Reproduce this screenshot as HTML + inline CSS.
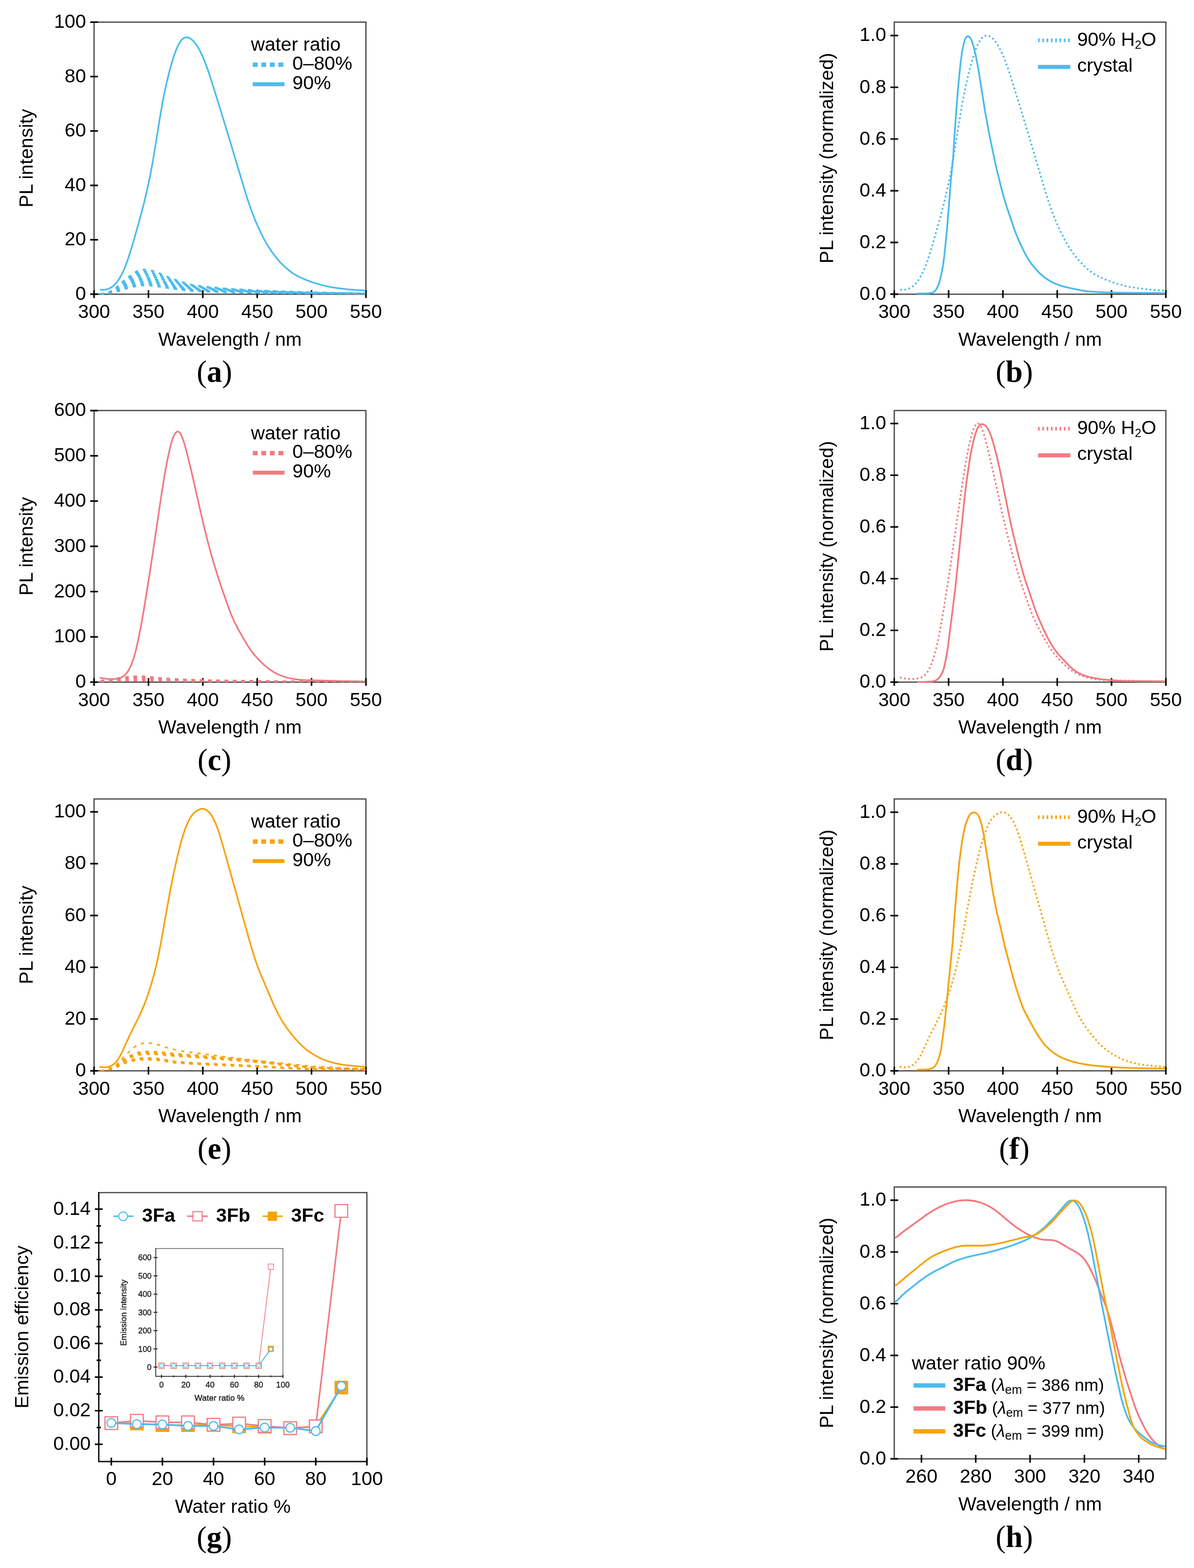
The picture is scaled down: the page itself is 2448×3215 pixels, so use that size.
<!DOCTYPE html>
<html><head><meta charset="utf-8"><title>Figure</title>
<style>html,body{margin:0;padding:0;background:#fff;}svg{display:block;}</style>
</head><body>
<svg xmlns="http://www.w3.org/2000/svg" width="2448" height="3215" viewBox="0 0 2448 3215">
<rect width="2448" height="3215" fill="#fff"/>
<rect x="192.9" y="45.4" width="557.3" height="557.8" fill="none" stroke="#4a4a4a" stroke-width="2.6"/>
<text x="192.9" y="652.2" font-size="39.4" text-anchor="middle" font-family='"Liberation Sans", Arial, Helvetica, sans-serif'>300</text>
<text x="304.4" y="652.2" font-size="39.4" text-anchor="middle" font-family='"Liberation Sans", Arial, Helvetica, sans-serif'>350</text>
<text x="415.8" y="652.2" font-size="39.4" text-anchor="middle" font-family='"Liberation Sans", Arial, Helvetica, sans-serif'>400</text>
<text x="527.3" y="652.2" font-size="39.4" text-anchor="middle" font-family='"Liberation Sans", Arial, Helvetica, sans-serif'>450</text>
<text x="638.7" y="652.2" font-size="39.4" text-anchor="middle" font-family='"Liberation Sans", Arial, Helvetica, sans-serif'>500</text>
<text x="750.2" y="652.2" font-size="39.4" text-anchor="middle" font-family='"Liberation Sans", Arial, Helvetica, sans-serif'>550</text>
<text x="176.4" y="614.7" font-size="39.4" text-anchor="end" font-family='"Liberation Sans", Arial, Helvetica, sans-serif'>0</text>
<text x="176.4" y="503.1" font-size="39.4" text-anchor="end" font-family='"Liberation Sans", Arial, Helvetica, sans-serif'>20</text>
<text x="176.4" y="391.6" font-size="39.4" text-anchor="end" font-family='"Liberation Sans", Arial, Helvetica, sans-serif'>40</text>
<text x="176.4" y="280" font-size="39.4" text-anchor="end" font-family='"Liberation Sans", Arial, Helvetica, sans-serif'>60</text>
<text x="176.4" y="168.5" font-size="39.4" text-anchor="end" font-family='"Liberation Sans", Arial, Helvetica, sans-serif'>80</text>
<text x="176.4" y="56.9" font-size="39.4" text-anchor="end" font-family='"Liberation Sans", Arial, Helvetica, sans-serif'>100</text>
<path d="M192.9 594.9V610.9M304.4 594.9V610.9M415.8 594.9V610.9M527.3 594.9V610.9M638.7 594.9V610.9M750.2 594.9V610.9M184.9 603.2H200.9M184.9 491.6H200.9M184.9 380.1H200.9M184.9 268.5H200.9M184.9 157H200.9M184.9 45.4H200.9" stroke="#000" stroke-width="3.2" fill="none"/>
<text x="471.6" y="708.9" font-size="39.4" text-anchor="middle" font-family='"Liberation Sans", Arial, Helvetica, sans-serif'>Wavelength / nm</text>
<text x="67.5" y="324.3" font-size="39.4" text-anchor="middle" font-family='"Liberation Sans", Arial, Helvetica, sans-serif' transform="rotate(-90 67.5 324.3)">PL intensity</text>
<text x="439.7" y="783" font-size="62.5" text-anchor="middle" font-family='"Liberation Serif", "Times New Roman", serif'>(<tspan font-weight="bold">a</tspan>)</text>
<rect x="1833.5" y="45.4" width="556.8" height="557.8" fill="none" stroke="#4a4a4a" stroke-width="2.6"/>
<text x="1833.5" y="652.2" font-size="39.4" text-anchor="middle" font-family='"Liberation Sans", Arial, Helvetica, sans-serif'>300</text>
<text x="1944.9" y="652.2" font-size="39.4" text-anchor="middle" font-family='"Liberation Sans", Arial, Helvetica, sans-serif'>350</text>
<text x="2056.2" y="652.2" font-size="39.4" text-anchor="middle" font-family='"Liberation Sans", Arial, Helvetica, sans-serif'>400</text>
<text x="2167.6" y="652.2" font-size="39.4" text-anchor="middle" font-family='"Liberation Sans", Arial, Helvetica, sans-serif'>450</text>
<text x="2278.9" y="652.2" font-size="39.4" text-anchor="middle" font-family='"Liberation Sans", Arial, Helvetica, sans-serif'>500</text>
<text x="2390.3" y="652.2" font-size="39.4" text-anchor="middle" font-family='"Liberation Sans", Arial, Helvetica, sans-serif'>550</text>
<text x="1817" y="614.7" font-size="39.4" text-anchor="end" font-family='"Liberation Sans", Arial, Helvetica, sans-serif'>0.0</text>
<text x="1817" y="508.6" font-size="39.4" text-anchor="end" font-family='"Liberation Sans", Arial, Helvetica, sans-serif'>0.2</text>
<text x="1817" y="402.6" font-size="39.4" text-anchor="end" font-family='"Liberation Sans", Arial, Helvetica, sans-serif'>0.4</text>
<text x="1817" y="296.5" font-size="39.4" text-anchor="end" font-family='"Liberation Sans", Arial, Helvetica, sans-serif'>0.6</text>
<text x="1817" y="190.5" font-size="39.4" text-anchor="end" font-family='"Liberation Sans", Arial, Helvetica, sans-serif'>0.8</text>
<text x="1817" y="84.4" font-size="39.4" text-anchor="end" font-family='"Liberation Sans", Arial, Helvetica, sans-serif'>1.0</text>
<path d="M1833.5 594.9V610.9M1944.9 594.9V610.9M2056.2 594.9V610.9M2167.6 594.9V610.9M2278.9 594.9V610.9M2390.3 594.9V610.9M1825.5 603.2H1841.5M1825.5 497.1H1841.5M1825.5 391.1H1841.5M1825.5 285H1841.5M1825.5 179H1841.5M1825.5 72.9H1841.5" stroke="#000" stroke-width="3.2" fill="none"/>
<text x="2111.9" y="708.9" font-size="39.4" text-anchor="middle" font-family='"Liberation Sans", Arial, Helvetica, sans-serif'>Wavelength / nm</text>
<text x="1708.1" y="324.3" font-size="39.4" text-anchor="middle" font-family='"Liberation Sans", Arial, Helvetica, sans-serif' transform="rotate(-90 1708.1 324.3)">PL intensity (normalized)</text>
<text x="2079.5" y="783" font-size="62.5" text-anchor="middle" font-family='"Liberation Serif", "Times New Roman", serif'>(<tspan font-weight="bold">b</tspan>)</text>
<rect x="192.9" y="841.8" width="557.3" height="556.8" fill="none" stroke="#4a4a4a" stroke-width="2.6"/>
<text x="192.9" y="1447.6" font-size="39.4" text-anchor="middle" font-family='"Liberation Sans", Arial, Helvetica, sans-serif'>300</text>
<text x="304.4" y="1447.6" font-size="39.4" text-anchor="middle" font-family='"Liberation Sans", Arial, Helvetica, sans-serif'>350</text>
<text x="415.8" y="1447.6" font-size="39.4" text-anchor="middle" font-family='"Liberation Sans", Arial, Helvetica, sans-serif'>400</text>
<text x="527.3" y="1447.6" font-size="39.4" text-anchor="middle" font-family='"Liberation Sans", Arial, Helvetica, sans-serif'>450</text>
<text x="638.7" y="1447.6" font-size="39.4" text-anchor="middle" font-family='"Liberation Sans", Arial, Helvetica, sans-serif'>500</text>
<text x="750.2" y="1447.6" font-size="39.4" text-anchor="middle" font-family='"Liberation Sans", Arial, Helvetica, sans-serif'>550</text>
<text x="176.4" y="1410.1" font-size="39.4" text-anchor="end" font-family='"Liberation Sans", Arial, Helvetica, sans-serif'>0</text>
<text x="176.4" y="1317.3" font-size="39.4" text-anchor="end" font-family='"Liberation Sans", Arial, Helvetica, sans-serif'>100</text>
<text x="176.4" y="1224.5" font-size="39.4" text-anchor="end" font-family='"Liberation Sans", Arial, Helvetica, sans-serif'>200</text>
<text x="176.4" y="1131.7" font-size="39.4" text-anchor="end" font-family='"Liberation Sans", Arial, Helvetica, sans-serif'>300</text>
<text x="176.4" y="1038.9" font-size="39.4" text-anchor="end" font-family='"Liberation Sans", Arial, Helvetica, sans-serif'>400</text>
<text x="176.4" y="946.1" font-size="39.4" text-anchor="end" font-family='"Liberation Sans", Arial, Helvetica, sans-serif'>500</text>
<text x="176.4" y="853.3" font-size="39.4" text-anchor="end" font-family='"Liberation Sans", Arial, Helvetica, sans-serif'>600</text>
<path d="M192.9 1390.3V1406.3M304.4 1390.3V1406.3M415.8 1390.3V1406.3M527.3 1390.3V1406.3M638.7 1390.3V1406.3M750.2 1390.3V1406.3M184.9 1398.6H200.9M184.9 1305.8H200.9M184.9 1213H200.9M184.9 1120.2H200.9M184.9 1027.4H200.9M184.9 934.6H200.9M184.9 841.8H200.9" stroke="#000" stroke-width="3.2" fill="none"/>
<text x="471.6" y="1504.3" font-size="39.4" text-anchor="middle" font-family='"Liberation Sans", Arial, Helvetica, sans-serif'>Wavelength / nm</text>
<text x="67.5" y="1120.2" font-size="39.4" text-anchor="middle" font-family='"Liberation Sans", Arial, Helvetica, sans-serif' transform="rotate(-90 67.5 1120.2)">PL intensity</text>
<text x="439.7" y="1579.4" font-size="62.5" text-anchor="middle" font-family='"Liberation Serif", "Times New Roman", serif'>(<tspan font-weight="bold">c</tspan>)</text>
<rect x="1833.5" y="841.8" width="556.8" height="556.8" fill="none" stroke="#4a4a4a" stroke-width="2.6"/>
<text x="1833.5" y="1447.6" font-size="39.4" text-anchor="middle" font-family='"Liberation Sans", Arial, Helvetica, sans-serif'>300</text>
<text x="1944.9" y="1447.6" font-size="39.4" text-anchor="middle" font-family='"Liberation Sans", Arial, Helvetica, sans-serif'>350</text>
<text x="2056.2" y="1447.6" font-size="39.4" text-anchor="middle" font-family='"Liberation Sans", Arial, Helvetica, sans-serif'>400</text>
<text x="2167.6" y="1447.6" font-size="39.4" text-anchor="middle" font-family='"Liberation Sans", Arial, Helvetica, sans-serif'>450</text>
<text x="2278.9" y="1447.6" font-size="39.4" text-anchor="middle" font-family='"Liberation Sans", Arial, Helvetica, sans-serif'>500</text>
<text x="2390.3" y="1447.6" font-size="39.4" text-anchor="middle" font-family='"Liberation Sans", Arial, Helvetica, sans-serif'>550</text>
<text x="1817" y="1410.1" font-size="39.4" text-anchor="end" font-family='"Liberation Sans", Arial, Helvetica, sans-serif'>0.0</text>
<text x="1817" y="1304" font-size="39.4" text-anchor="end" font-family='"Liberation Sans", Arial, Helvetica, sans-serif'>0.2</text>
<text x="1817" y="1198" font-size="39.4" text-anchor="end" font-family='"Liberation Sans", Arial, Helvetica, sans-serif'>0.4</text>
<text x="1817" y="1091.9" font-size="39.4" text-anchor="end" font-family='"Liberation Sans", Arial, Helvetica, sans-serif'>0.6</text>
<text x="1817" y="985.9" font-size="39.4" text-anchor="end" font-family='"Liberation Sans", Arial, Helvetica, sans-serif'>0.8</text>
<text x="1817" y="879.8" font-size="39.4" text-anchor="end" font-family='"Liberation Sans", Arial, Helvetica, sans-serif'>1.0</text>
<path d="M1833.5 1390.3V1406.3M1944.9 1390.3V1406.3M2056.2 1390.3V1406.3M2167.6 1390.3V1406.3M2278.9 1390.3V1406.3M2390.3 1390.3V1406.3M1825.5 1398.6H1841.5M1825.5 1292.5H1841.5M1825.5 1186.5H1841.5M1825.5 1080.4H1841.5M1825.5 974.4H1841.5M1825.5 868.3H1841.5" stroke="#000" stroke-width="3.2" fill="none"/>
<text x="2111.9" y="1504.3" font-size="39.4" text-anchor="middle" font-family='"Liberation Sans", Arial, Helvetica, sans-serif'>Wavelength / nm</text>
<text x="1708.1" y="1120.2" font-size="39.4" text-anchor="middle" font-family='"Liberation Sans", Arial, Helvetica, sans-serif' transform="rotate(-90 1708.1 1120.2)">PL intensity (normalized)</text>
<text x="2079.5" y="1579.4" font-size="62.5" text-anchor="middle" font-family='"Liberation Serif", "Times New Roman", serif'>(<tspan font-weight="bold">d</tspan>)</text>
<rect x="192.9" y="1638.2" width="557.3" height="557.4" fill="none" stroke="#4a4a4a" stroke-width="2.6"/>
<text x="192.9" y="2244.6" font-size="39.4" text-anchor="middle" font-family='"Liberation Sans", Arial, Helvetica, sans-serif'>300</text>
<text x="304.4" y="2244.6" font-size="39.4" text-anchor="middle" font-family='"Liberation Sans", Arial, Helvetica, sans-serif'>350</text>
<text x="415.8" y="2244.6" font-size="39.4" text-anchor="middle" font-family='"Liberation Sans", Arial, Helvetica, sans-serif'>400</text>
<text x="527.3" y="2244.6" font-size="39.4" text-anchor="middle" font-family='"Liberation Sans", Arial, Helvetica, sans-serif'>450</text>
<text x="638.7" y="2244.6" font-size="39.4" text-anchor="middle" font-family='"Liberation Sans", Arial, Helvetica, sans-serif'>500</text>
<text x="750.2" y="2244.6" font-size="39.4" text-anchor="middle" font-family='"Liberation Sans", Arial, Helvetica, sans-serif'>550</text>
<text x="176.4" y="2207.1" font-size="39.4" text-anchor="end" font-family='"Liberation Sans", Arial, Helvetica, sans-serif'>0</text>
<text x="176.4" y="2100.9" font-size="39.4" text-anchor="end" font-family='"Liberation Sans", Arial, Helvetica, sans-serif'>20</text>
<text x="176.4" y="1994.8" font-size="39.4" text-anchor="end" font-family='"Liberation Sans", Arial, Helvetica, sans-serif'>40</text>
<text x="176.4" y="1888.6" font-size="39.4" text-anchor="end" font-family='"Liberation Sans", Arial, Helvetica, sans-serif'>60</text>
<text x="176.4" y="1782.4" font-size="39.4" text-anchor="end" font-family='"Liberation Sans", Arial, Helvetica, sans-serif'>80</text>
<text x="176.4" y="1676.2" font-size="39.4" text-anchor="end" font-family='"Liberation Sans", Arial, Helvetica, sans-serif'>100</text>
<path d="M192.9 2187.3V2203.3M304.4 2187.3V2203.3M415.8 2187.3V2203.3M527.3 2187.3V2203.3M638.7 2187.3V2203.3M750.2 2187.3V2203.3M184.9 2195.6H200.9M184.9 2089.4H200.9M184.9 1983.3H200.9M184.9 1877.1H200.9M184.9 1770.9H200.9M184.9 1664.7H200.9" stroke="#000" stroke-width="3.2" fill="none"/>
<text x="471.6" y="2301.3" font-size="39.4" text-anchor="middle" font-family='"Liberation Sans", Arial, Helvetica, sans-serif'>Wavelength / nm</text>
<text x="67.5" y="1916.9" font-size="39.4" text-anchor="middle" font-family='"Liberation Sans", Arial, Helvetica, sans-serif' transform="rotate(-90 67.5 1916.9)">PL intensity</text>
<text x="439.7" y="2375.8" font-size="62.5" text-anchor="middle" font-family='"Liberation Serif", "Times New Roman", serif'>(<tspan font-weight="bold">e</tspan>)</text>
<rect x="1833.5" y="1638.2" width="556.8" height="557.4" fill="none" stroke="#4a4a4a" stroke-width="2.6"/>
<text x="1833.5" y="2244.6" font-size="39.4" text-anchor="middle" font-family='"Liberation Sans", Arial, Helvetica, sans-serif'>300</text>
<text x="1944.9" y="2244.6" font-size="39.4" text-anchor="middle" font-family='"Liberation Sans", Arial, Helvetica, sans-serif'>350</text>
<text x="2056.2" y="2244.6" font-size="39.4" text-anchor="middle" font-family='"Liberation Sans", Arial, Helvetica, sans-serif'>400</text>
<text x="2167.6" y="2244.6" font-size="39.4" text-anchor="middle" font-family='"Liberation Sans", Arial, Helvetica, sans-serif'>450</text>
<text x="2278.9" y="2244.6" font-size="39.4" text-anchor="middle" font-family='"Liberation Sans", Arial, Helvetica, sans-serif'>500</text>
<text x="2390.3" y="2244.6" font-size="39.4" text-anchor="middle" font-family='"Liberation Sans", Arial, Helvetica, sans-serif'>550</text>
<text x="1817" y="2207.1" font-size="39.4" text-anchor="end" font-family='"Liberation Sans", Arial, Helvetica, sans-serif'>0.0</text>
<text x="1817" y="2101" font-size="39.4" text-anchor="end" font-family='"Liberation Sans", Arial, Helvetica, sans-serif'>0.2</text>
<text x="1817" y="1995" font-size="39.4" text-anchor="end" font-family='"Liberation Sans", Arial, Helvetica, sans-serif'>0.4</text>
<text x="1817" y="1888.9" font-size="39.4" text-anchor="end" font-family='"Liberation Sans", Arial, Helvetica, sans-serif'>0.6</text>
<text x="1817" y="1782.9" font-size="39.4" text-anchor="end" font-family='"Liberation Sans", Arial, Helvetica, sans-serif'>0.8</text>
<text x="1817" y="1676.8" font-size="39.4" text-anchor="end" font-family='"Liberation Sans", Arial, Helvetica, sans-serif'>1.0</text>
<path d="M1833.5 2187.3V2203.3M1944.9 2187.3V2203.3M2056.2 2187.3V2203.3M2167.6 2187.3V2203.3M2278.9 2187.3V2203.3M2390.3 2187.3V2203.3M1825.5 2195.6H1841.5M1825.5 2089.5H1841.5M1825.5 1983.5H1841.5M1825.5 1877.4H1841.5M1825.5 1771.4H1841.5M1825.5 1665.3H1841.5" stroke="#000" stroke-width="3.2" fill="none"/>
<text x="2111.9" y="2301.3" font-size="39.4" text-anchor="middle" font-family='"Liberation Sans", Arial, Helvetica, sans-serif'>Wavelength / nm</text>
<text x="1708.1" y="1916.9" font-size="39.4" text-anchor="middle" font-family='"Liberation Sans", Arial, Helvetica, sans-serif' transform="rotate(-90 1708.1 1916.9)">PL intensity (normalized)</text>
<text x="2079.5" y="2375.8" font-size="62.5" text-anchor="middle" font-family='"Liberation Serif", "Times New Roman", serif'>(<tspan font-weight="bold">f</tspan>)</text>
<rect x="1833.5" y="2433.8" width="556.8" height="557.4" fill="none" stroke="#4a4a4a" stroke-width="2.6"/>
<text x="1889.2" y="3040.2" font-size="39.4" text-anchor="middle" font-family='"Liberation Sans", Arial, Helvetica, sans-serif'>260</text>
<text x="2000.5" y="3040.2" font-size="39.4" text-anchor="middle" font-family='"Liberation Sans", Arial, Helvetica, sans-serif'>280</text>
<text x="2111.9" y="3040.2" font-size="39.4" text-anchor="middle" font-family='"Liberation Sans", Arial, Helvetica, sans-serif'>300</text>
<text x="2223.3" y="3040.2" font-size="39.4" text-anchor="middle" font-family='"Liberation Sans", Arial, Helvetica, sans-serif'>320</text>
<text x="2334.6" y="3040.2" font-size="39.4" text-anchor="middle" font-family='"Liberation Sans", Arial, Helvetica, sans-serif'>340</text>
<text x="1817" y="3002.7" font-size="39.4" text-anchor="end" font-family='"Liberation Sans", Arial, Helvetica, sans-serif'>0.0</text>
<text x="1817" y="2896.6" font-size="39.4" text-anchor="end" font-family='"Liberation Sans", Arial, Helvetica, sans-serif'>0.2</text>
<text x="1817" y="2790.6" font-size="39.4" text-anchor="end" font-family='"Liberation Sans", Arial, Helvetica, sans-serif'>0.4</text>
<text x="1817" y="2684.5" font-size="39.4" text-anchor="end" font-family='"Liberation Sans", Arial, Helvetica, sans-serif'>0.6</text>
<text x="1817" y="2578.5" font-size="39.4" text-anchor="end" font-family='"Liberation Sans", Arial, Helvetica, sans-serif'>0.8</text>
<text x="1817" y="2472.4" font-size="39.4" text-anchor="end" font-family='"Liberation Sans", Arial, Helvetica, sans-serif'>1.0</text>
<path d="M1889.2 2982.9V2998.9M2000.5 2982.9V2998.9M2111.9 2982.9V2998.9M2223.3 2982.9V2998.9M2334.6 2982.9V2998.9M1825.5 2991.2H1841.5M1825.5 2885.1H1841.5M1825.5 2779.1H1841.5M1825.5 2673H1841.5M1825.5 2567H1841.5M1825.5 2460.9H1841.5" stroke="#000" stroke-width="3.2" fill="none"/>
<text x="2111.9" y="3096.9" font-size="39.4" text-anchor="middle" font-family='"Liberation Sans", Arial, Helvetica, sans-serif'>Wavelength / nm</text>
<text x="1708.1" y="2712.5" font-size="39.4" text-anchor="middle" font-family='"Liberation Sans", Arial, Helvetica, sans-serif' transform="rotate(-90 1708.1 2712.5)">PL intensity (normalized)</text>
<text x="2079.5" y="3172.2" font-size="62.5" text-anchor="middle" font-family='"Liberation Serif", "Times New Roman", serif'>(<tspan font-weight="bold">h</tspan>)</text>
<clipPath id="clipa"><rect x="193.9" y="46.4" width="555.3" height="556.8"/></clipPath>
<g clip-path="url(#clipa)">
<path d="M206.3 603C207 602.9 209.2 602.7 210.7 602.6C212.2 602.4 213.7 602.3 215.2 602.1C216.7 602 218.2 602.2 219.7 601.7C221.1 601.2 222.6 599.9 224.1 598.9C225.6 598 227.1 597.1 228.6 596.2C230.1 595.3 231.5 594.3 233 593.4C234.5 592.5 236 591.8 237.5 590.6C239 589.5 240.5 588 241.9 586.6C243.4 585.3 244.9 584 246.4 582.6C247.9 581.3 249.4 579.9 250.9 578.6C252.3 577.3 253.8 575.9 255.3 574.6C256.8 573.2 258.3 571.7 259.8 570.6C261.3 569.4 262.7 568.6 264.2 567.6C265.7 566.6 267.2 565.5 268.7 564.5C270.2 563.5 271.7 562.5 273.2 561.5C274.6 560.5 276.1 559.5 277.6 558.5C279.1 557.5 280.6 556.1 282.1 555.5C283.6 554.9 285 555 286.5 554.7C288 554.4 289.5 554.1 291 553.8C292.5 553.6 294 553.1 295.4 553C296.9 552.9 298.4 553.3 299.9 553.5C301.4 553.7 302.9 553.8 304.4 554C305.8 554.2 307.3 554.2 308.8 554.5C310.3 554.8 311.8 555.5 313.3 556C314.8 556.5 316.2 557 317.7 557.5C319.2 558 320.7 558.5 322.2 559C323.7 559.5 325.2 560 326.7 560.5C328.1 561.1 329.6 561.8 331.1 562.4C332.6 563.1 334.1 563.7 335.6 564.3C337.1 565 338.5 565.6 340 566.3C341.5 566.9 343 567.5 344.5 568.2C346 568.8 347.5 569.5 348.9 570.1C350.4 570.7 351.9 571.1 353.4 571.7C354.9 572.2 356.4 572.7 357.9 573.3C359.3 573.8 360.8 574.4 362.3 574.9C363.8 575.4 365.3 576 366.8 576.5C368.3 577 369.7 577.6 371.2 578.1C372.7 578.6 374.2 578.9 375.7 579.3C377.2 579.7 378.7 580.1 380.2 580.5C381.6 580.9 383.1 581.3 384.6 581.7C386.1 582.1 387.6 582.5 389.1 582.9C390.6 583.3 392 583.8 393.5 584.1C395 584.4 396.5 584.6 398 584.8C399.5 585.1 401 585.3 402.4 585.5C403.9 585.8 405.4 586 406.9 586.2C408.4 586.5 409.9 586.7 411.4 586.9C412.8 587.2 414.3 587.5 415.8 587.6C417.3 587.8 418.8 587.9 420.3 588C421.8 588.2 423.3 588.3 424.7 588.4C426.2 588.6 427.7 588.7 429.2 588.8C430.7 589 432.2 589.1 433.7 589.2C435.1 589.4 436.6 589.5 438.1 589.6C439.6 589.8 441.1 589.9 442.6 590C444.1 590.2 445.5 590.3 447 590.4C448.5 590.6 450 590.7 451.5 590.9C453 591 454.5 591.1 455.9 591.3C457.4 591.4 458.9 591.5 460.4 591.7C461.9 591.8 463.4 591.8 464.9 591.9C466.3 592 467.8 592.1 469.3 592.2C470.8 592.3 472.3 592.4 473.8 592.5C475.3 592.5 476.8 592.6 478.2 592.7C479.7 592.8 481.2 592.9 482.7 593C484.2 593.1 485.7 593.2 487.2 593.3C488.6 593.3 490.1 593.4 491.6 593.5C493.1 593.6 494.6 593.7 496.1 593.8C497.6 593.9 499 594 500.5 594.1C502 594.2 503.5 594.2 505 594.3C506.5 594.4 508 594.5 509.4 594.6C510.9 594.7 512.4 594.8 513.9 594.9C515.4 595 516.9 595 518.4 595.1C519.8 595.2 521.3 595.3 522.8 595.4C524.3 595.5 525.8 595.6 527.3 595.7C528.8 595.7 530.3 595.8 531.7 595.8C533.2 595.9 534.7 595.9 536.2 596C537.7 596 539.2 596.1 540.7 596.2C542.1 596.2 543.6 596.3 545.1 596.3C546.6 596.4 548.1 596.4 549.6 596.5C551.1 596.5 552.5 596.6 554 596.6C555.5 596.7 557 596.7 558.5 596.8C560 596.8 561.5 596.9 562.9 597C564.4 597 565.9 597.1 567.4 597.1C568.9 597.2 570.4 597.2 571.9 597.3C573.4 597.3 574.8 597.4 576.3 597.4C577.8 597.5 579.3 597.5 580.8 597.6C582.3 597.7 583.8 597.7 585.2 597.8C586.7 597.8 588.2 597.9 589.7 597.9C591.2 598 592.7 598 594.2 598.1C595.6 598.1 597.1 598.2 598.6 598.2C600.1 598.3 601.6 598.3 603.1 598.4C604.6 598.5 606 598.5 607.5 598.6C609 598.6 610.5 598.7 612 598.7C613.5 598.8 615 598.8 616.4 598.9C617.9 598.9 619.4 599 620.9 599C622.4 599.1 623.9 599.2 625.4 599.2C626.9 599.3 628.3 599.3 629.8 599.4C631.3 599.4 632.8 599.5 634.3 599.5C635.8 599.6 637.3 599.6 638.7 599.7C640.2 599.7 641.7 599.7 643.2 599.8C644.7 599.8 646.2 599.8 647.7 599.8C649.1 599.9 650.6 599.9 652.1 599.9C653.6 600 655.1 600 656.6 600C658.1 600 659.5 600.1 661 600.1C662.5 600.1 664 600.1 665.5 600.2C667 600.2 668.5 600.2 669.9 600.2C671.4 600.3 672.9 600.3 674.4 600.3C675.9 600.4 677.4 600.4 678.9 600.4C680.4 600.4 681.8 600.5 683.3 600.5C684.8 600.5 686.3 600.5 687.8 600.6C689.3 600.6 690.8 600.6 692.2 600.6C693.7 600.7 695.2 600.7 696.7 600.7C698.2 600.8 699.7 600.8 701.2 600.8C702.6 600.8 704.1 600.9 705.6 600.9C707.1 600.9 708.6 600.9 710.1 601C711.6 601 713 601 714.5 601.1C716 601.1 717.5 601.1 719 601.1C720.5 601.2 722 601.2 723.4 601.2C724.9 601.2 726.4 601.3 727.9 601.3C729.4 601.3 730.9 601.3 732.4 601.4C733.9 601.4 735.3 601.4 736.8 601.5C738.3 601.5 739.8 601.5 741.3 601.5C742.8 601.6 744.3 601.6 745.7 601.6C747.2 601.6 749.5 601.7 750.2 601.7" stroke="#4bbbee" stroke-width="4" fill="none" stroke-dasharray="7 10"/>
<path d="M206.3 603C207 602.9 209.2 602.7 210.7 602.6C212.2 602.5 213.7 602.3 215.2 602.2C216.7 602.1 218.2 602.3 219.7 601.8C221.1 601.3 222.6 600.1 224.1 599.3C225.6 598.4 227.1 597.6 228.6 596.7C230.1 595.9 231.5 595 233 594.2C234.5 593.3 236 592.7 237.5 591.6C239 590.6 240.5 589.2 241.9 587.9C243.4 586.7 244.9 585.5 246.4 584.2C247.9 583 249.4 581.7 250.9 580.5C252.3 579.3 253.8 578 255.3 576.8C256.8 575.6 258.3 574.2 259.8 573.1C261.3 572 262.7 571.3 264.2 570.3C265.7 569.4 267.2 568.5 268.7 567.6C270.2 566.6 271.7 565.7 273.2 564.8C274.6 563.8 276.1 562.9 277.6 562C279.1 561.1 280.6 559.8 282.1 559.2C283.6 558.6 285 558.7 286.5 558.4C288 558.2 289.5 557.9 291 557.7C292.5 557.4 294 557 295.4 556.9C296.9 556.9 298.4 557.2 299.9 557.4C301.4 557.5 302.9 557.7 304.4 557.8C305.8 558 307.3 558 308.8 558.3C310.3 558.6 311.8 559.2 313.3 559.7C314.8 560.1 316.2 560.6 317.7 561.1C319.2 561.5 320.7 562 322.2 562.5C323.7 562.9 325.2 563.3 326.7 563.8C328.1 564.4 329.6 565 331.1 565.6C332.6 566.2 334.1 566.8 335.6 567.4C337.1 568 338.5 568.5 340 569.1C341.5 569.7 343 570.3 344.5 570.9C346 571.5 347.5 572.1 348.9 572.6C350.4 573.2 351.9 573.6 353.4 574.1C354.9 574.6 356.4 575.1 357.9 575.6C359.3 576.1 360.8 576.6 362.3 577.1C363.8 577.6 365.3 578.1 366.8 578.6C368.3 579.1 369.7 579.6 371.2 580.1C372.7 580.5 374.2 580.8 375.7 581.2C377.2 581.5 378.7 581.9 380.2 582.3C381.6 582.6 383.1 583 384.6 583.4C386.1 583.8 387.6 584.1 389.1 584.5C390.6 584.9 392 585.3 393.5 585.6C395 585.9 396.5 586 398 586.3C399.5 586.5 401 586.7 402.4 586.9C403.9 587.1 405.4 587.3 406.9 587.6C408.4 587.8 409.9 588 411.4 588.2C412.8 588.4 414.3 588.7 415.8 588.8C417.3 589 418.8 589.1 420.3 589.2C421.8 589.3 423.3 589.5 424.7 589.6C426.2 589.7 427.7 589.8 429.2 590C430.7 590.1 432.2 590.2 433.7 590.3C435.1 590.5 436.6 590.6 438.1 590.7C439.6 590.8 441.1 590.9 442.6 591.1C444.1 591.2 445.5 591.3 447 591.4C448.5 591.6 450 591.7 451.5 591.8C453 591.9 454.5 592.1 455.9 592.2C457.4 592.3 458.9 592.4 460.4 592.6C461.9 592.7 463.4 592.7 464.9 592.8C466.3 592.9 467.8 593 469.3 593C470.8 593.1 472.3 593.2 473.8 593.3C475.3 593.4 476.8 593.5 478.2 593.5C479.7 593.6 481.2 593.7 482.7 593.8C484.2 593.9 485.7 594 487.2 594C488.6 594.1 490.1 594.2 491.6 594.3C493.1 594.4 494.6 594.4 496.1 594.5C497.6 594.6 499 594.7 500.5 594.8C502 594.9 503.5 594.9 505 595C506.5 595.1 508 595.2 509.4 595.3C510.9 595.4 512.4 595.4 513.9 595.5C515.4 595.6 516.9 595.7 518.4 595.8C519.8 595.8 521.3 595.9 522.8 596C524.3 596.1 525.8 596.2 527.3 596.3C528.8 596.3 530.3 596.4 531.7 596.4C533.2 596.5 534.7 596.5 536.2 596.6C537.7 596.6 539.2 596.7 540.7 596.7C542.1 596.7 543.6 596.8 545.1 596.8C546.6 596.9 548.1 596.9 549.6 597C551.1 597 552.5 597.1 554 597.1C555.5 597.2 557 597.2 558.5 597.3C560 597.3 561.5 597.4 562.9 597.4C564.4 597.5 565.9 597.5 567.4 597.6C568.9 597.6 570.4 597.7 571.9 597.7C573.4 597.8 574.8 597.8 576.3 597.9C577.8 597.9 579.3 598 580.8 598C582.3 598.1 583.8 598.1 585.2 598.2C586.7 598.2 588.2 598.3 589.7 598.3C591.2 598.4 592.7 598.4 594.2 598.5C595.6 598.5 597.1 598.6 598.6 598.6C600.1 598.7 601.6 598.7 603.1 598.8C604.6 598.8 606 598.9 607.5 598.9C609 599 610.5 599 612 599.1C613.5 599.1 615 599.2 616.4 599.2C617.9 599.3 619.4 599.3 620.9 599.4C622.4 599.4 623.9 599.5 625.4 599.5C626.9 599.6 628.3 599.6 629.8 599.7C631.3 599.7 632.8 599.8 634.3 599.8C635.8 599.9 637.3 599.9 638.7 600C640.2 600 641.7 600 643.2 600C644.7 600.1 646.2 600.1 647.7 600.1C649.1 600.1 650.6 600.2 652.1 600.2C653.6 600.2 655.1 600.2 656.6 600.3C658.1 600.3 659.5 600.3 661 600.3C662.5 600.4 664 600.4 665.5 600.4C667 600.4 668.5 600.5 669.9 600.5C671.4 600.5 672.9 600.5 674.4 600.6C675.9 600.6 677.4 600.6 678.9 600.6C680.4 600.7 681.8 600.7 683.3 600.7C684.8 600.7 686.3 600.7 687.8 600.8C689.3 600.8 690.8 600.8 692.2 600.8C693.7 600.9 695.2 600.9 696.7 600.9C698.2 600.9 699.7 601 701.2 601C702.6 601 704.1 601 705.6 601.1C707.1 601.1 708.6 601.1 710.1 601.1C711.6 601.2 713 601.2 714.5 601.2C716 601.2 717.5 601.3 719 601.3C720.5 601.3 722 601.3 723.4 601.4C724.9 601.4 726.4 601.4 727.9 601.4C729.4 601.5 730.9 601.5 732.4 601.5C733.9 601.5 735.3 601.6 736.8 601.6C738.3 601.6 739.8 601.6 741.3 601.7C742.8 601.7 744.3 601.7 745.7 601.7C747.2 601.8 749.5 601.8 750.2 601.8" stroke="#4bbbee" stroke-width="4" fill="none" stroke-dasharray="7 10"/>
<path d="M206.3 603C207 603 209.2 602.8 210.7 602.7C212.2 602.5 213.7 602.4 215.2 602.3C216.7 602.2 218.2 602.4 219.7 601.9C221.1 601.5 222.6 600.4 224.1 599.6C225.6 598.8 227.1 598 228.6 597.3C230.1 596.5 231.5 595.7 233 594.9C234.5 594.2 236 593.6 237.5 592.6C239 591.6 240.5 590.3 241.9 589.2C243.4 588.1 244.9 586.9 246.4 585.8C247.9 584.7 249.4 583.6 250.9 582.4C252.3 581.3 253.8 580.2 255.3 579C256.8 577.9 258.3 576.6 259.8 575.6C261.3 574.7 262.7 573.9 264.2 573.1C265.7 572.3 267.2 571.4 268.7 570.6C270.2 569.7 271.7 568.9 273.2 568C274.6 567.2 276.1 566.3 277.6 565.5C279.1 564.6 280.6 563.5 282.1 562.9C283.6 562.4 285 562.5 286.5 562.2C288 562 289.5 561.7 291 561.5C292.5 561.3 294 560.9 295.4 560.8C296.9 560.8 298.4 561.1 299.9 561.2C301.4 561.4 302.9 561.5 304.4 561.7C305.8 561.8 307.3 561.8 308.8 562.1C310.3 562.4 311.8 562.9 313.3 563.4C314.8 563.8 316.2 564.2 317.7 564.6C319.2 565 320.7 565.5 322.2 565.9C323.7 566.3 325.2 566.7 326.7 567.2C328.1 567.6 329.6 568.2 331.1 568.8C332.6 569.3 334.1 569.9 335.6 570.4C337.1 570.9 338.5 571.5 340 572C341.5 572.5 343 573.1 344.5 573.6C346 574.1 347.5 574.7 348.9 575.2C350.4 575.7 351.9 576.1 353.4 576.6C354.9 577 356.4 577.5 357.9 577.9C359.3 578.4 360.8 578.8 362.3 579.3C363.8 579.7 365.3 580.2 366.8 580.6C368.3 581.1 369.7 581.6 371.2 582C372.7 582.4 374.2 582.7 375.7 583C377.2 583.4 378.7 583.7 380.2 584C381.6 584.4 383.1 584.7 384.6 585.1C386.1 585.4 387.6 585.7 389.1 586.1C390.6 586.4 392 586.8 393.5 587.1C395 587.4 396.5 587.5 398 587.7C399.5 587.9 401 588.1 402.4 588.3C403.9 588.5 405.4 588.7 406.9 588.9C408.4 589.1 409.9 589.3 411.4 589.5C412.8 589.7 414.3 589.9 415.8 590.1C417.3 590.2 418.8 590.3 420.3 590.4C421.8 590.5 423.3 590.6 424.7 590.7C426.2 590.8 427.7 591 429.2 591.1C430.7 591.2 432.2 591.3 433.7 591.4C435.1 591.5 436.6 591.6 438.1 591.8C439.6 591.9 441.1 592 442.6 592.1C444.1 592.2 445.5 592.3 447 592.4C448.5 592.5 450 592.7 451.5 592.8C453 592.9 454.5 593 455.9 593.1C457.4 593.2 458.9 593.4 460.4 593.4C461.9 593.5 463.4 593.6 464.9 593.7C466.3 593.8 467.8 593.8 469.3 593.9C470.8 594 472.3 594.1 473.8 594.1C475.3 594.2 476.8 594.3 478.2 594.4C479.7 594.4 481.2 594.5 482.7 594.6C484.2 594.7 485.7 594.7 487.2 594.8C488.6 594.9 490.1 595 491.6 595C493.1 595.1 494.6 595.2 496.1 595.3C497.6 595.3 499 595.4 500.5 595.5C502 595.6 503.5 595.6 505 595.7C506.5 595.8 508 595.9 509.4 595.9C510.9 596 512.4 596.1 513.9 596.2C515.4 596.2 516.9 596.3 518.4 596.4C519.8 596.5 521.3 596.5 522.8 596.6C524.3 596.7 525.8 596.8 527.3 596.8C528.8 596.9 530.3 596.9 531.7 597C533.2 597 534.7 597.1 536.2 597.1C537.7 597.2 539.2 597.2 540.7 597.2C542.1 597.3 543.6 597.3 545.1 597.4C546.6 597.4 548.1 597.5 549.6 597.5C551.1 597.6 552.5 597.6 554 597.7C555.5 597.7 557 597.7 558.5 597.8C560 597.8 561.5 597.9 562.9 597.9C564.4 598 565.9 598 567.4 598.1C568.9 598.1 570.4 598.2 571.9 598.2C573.4 598.2 574.8 598.3 576.3 598.3C577.8 598.4 579.3 598.4 580.8 598.5C582.3 598.5 583.8 598.6 585.2 598.6C586.7 598.6 588.2 598.7 589.7 598.7C591.2 598.8 592.7 598.8 594.2 598.9C595.6 598.9 597.1 599 598.6 599C600.1 599.1 601.6 599.1 603.1 599.1C604.6 599.2 606 599.2 607.5 599.3C609 599.3 610.5 599.4 612 599.4C613.5 599.5 615 599.5 616.4 599.6C617.9 599.6 619.4 599.6 620.9 599.7C622.4 599.7 623.9 599.8 625.4 599.8C626.9 599.9 628.3 599.9 629.8 600C631.3 600 632.8 600.1 634.3 600.1C635.8 600.1 637.3 600.2 638.7 600.2C640.2 600.3 641.7 600.3 643.2 600.3C644.7 600.3 646.2 600.3 647.7 600.4C649.1 600.4 650.6 600.4 652.1 600.4C653.6 600.5 655.1 600.5 656.6 600.5C658.1 600.5 659.5 600.5 661 600.6C662.5 600.6 664 600.6 665.5 600.6C667 600.7 668.5 600.7 669.9 600.7C671.4 600.7 672.9 600.8 674.4 600.8C675.9 600.8 677.4 600.8 678.9 600.8C680.4 600.9 681.8 600.9 683.3 600.9C684.8 600.9 686.3 601 687.8 601C689.3 601 690.8 601 692.2 601C693.7 601.1 695.2 601.1 696.7 601.1C698.2 601.1 699.7 601.2 701.2 601.2C702.6 601.2 704.1 601.2 705.6 601.2C707.1 601.3 708.6 601.3 710.1 601.3C711.6 601.3 713 601.4 714.5 601.4C716 601.4 717.5 601.4 719 601.5C720.5 601.5 722 601.5 723.4 601.5C724.9 601.5 726.4 601.6 727.9 601.6C729.4 601.6 730.9 601.6 732.4 601.7C733.9 601.7 735.3 601.7 736.8 601.7C738.3 601.7 739.8 601.8 741.3 601.8C742.8 601.8 744.3 601.8 745.7 601.9C747.2 601.9 749.5 601.9 750.2 601.9" stroke="#4bbbee" stroke-width="4" fill="none" stroke-dasharray="7 10"/>
<path d="M206.3 603C207 603 209.2 602.8 210.7 602.7C212.2 602.6 213.7 602.5 215.2 602.4C216.7 602.3 218.2 602.5 219.7 602C221.1 601.6 222.6 600.6 224.1 599.9C225.6 599.2 227.1 598.5 228.6 597.8C230.1 597.1 231.5 596.4 233 595.7C234.5 595 236 594.4 237.5 593.6C239 592.7 240.5 591.5 241.9 590.5C243.4 589.5 244.9 588.4 246.4 587.4C247.9 586.4 249.4 585.4 250.9 584.3C252.3 583.3 253.8 582.3 255.3 581.3C256.8 580.2 258.3 579.1 259.8 578.2C261.3 577.3 262.7 576.6 264.2 575.9C265.7 575.1 267.2 574.3 268.7 573.6C270.2 572.8 271.7 572 273.2 571.3C274.6 570.5 276.1 569.7 277.6 568.9C279.1 568.2 280.6 567.1 282.1 566.6C283.6 566.1 285 566.2 286.5 566C288 565.8 289.5 565.6 291 565.4C292.5 565.1 294 564.8 295.4 564.7C296.9 564.7 298.4 565 299.9 565.1C301.4 565.2 302.9 565.4 304.4 565.5C305.8 565.6 307.3 565.6 308.8 565.9C310.3 566.1 311.8 566.6 313.3 567C314.8 567.4 316.2 567.8 317.7 568.2C319.2 568.6 320.7 568.9 322.2 569.3C323.7 569.7 325.2 570 326.7 570.5C328.1 570.9 329.6 571.5 331.1 571.9C332.6 572.4 334.1 572.9 335.6 573.4C337.1 573.9 338.5 574.4 340 574.9C341.5 575.4 343 575.8 344.5 576.3C346 576.8 347.5 577.3 348.9 577.8C350.4 578.2 351.9 578.6 353.4 579C354.9 579.4 356.4 579.9 357.9 580.3C359.3 580.7 360.8 581.1 362.3 581.5C363.8 581.9 365.3 582.3 366.8 582.7C368.3 583.1 369.7 583.6 371.2 584C372.7 584.3 374.2 584.6 375.7 584.9C377.2 585.2 378.7 585.5 380.2 585.8C381.6 586.1 383.1 586.4 384.6 586.7C386.1 587 387.6 587.3 389.1 587.7C390.6 588 392 588.3 393.5 588.6C395 588.8 396.5 588.9 398 589.1C399.5 589.3 401 589.5 402.4 589.7C403.9 589.8 405.4 590 406.9 590.2C408.4 590.4 409.9 590.6 411.4 590.7C412.8 590.9 414.3 591.1 415.8 591.3C417.3 591.4 418.8 591.5 420.3 591.6C421.8 591.7 423.3 591.8 424.7 591.9C426.2 592 427.7 592.1 429.2 592.2C430.7 592.3 432.2 592.4 433.7 592.5C435.1 592.6 436.6 592.7 438.1 592.8C439.6 592.9 441.1 593 442.6 593.1C444.1 593.2 445.5 593.3 447 593.4C448.5 593.5 450 593.6 451.5 593.7C453 593.8 454.5 593.9 455.9 594C457.4 594.1 458.9 594.3 460.4 594.3C461.9 594.4 463.4 594.5 464.9 594.6C466.3 594.6 467.8 594.7 469.3 594.8C470.8 594.8 472.3 594.9 473.8 595C475.3 595 476.8 595.1 478.2 595.2C479.7 595.2 481.2 595.3 482.7 595.4C484.2 595.4 485.7 595.5 487.2 595.6C488.6 595.6 490.1 595.7 491.6 595.8C493.1 595.9 494.6 595.9 496.1 596C497.6 596.1 499 596.1 500.5 596.2C502 596.3 503.5 596.3 505 596.4C506.5 596.5 508 596.5 509.4 596.6C510.9 596.7 512.4 596.7 513.9 596.8C515.4 596.9 516.9 596.9 518.4 597C519.8 597.1 521.3 597.2 522.8 597.2C524.3 597.3 525.8 597.4 527.3 597.4C528.8 597.5 530.3 597.5 531.7 597.5C533.2 597.6 534.7 597.6 536.2 597.7C537.7 597.7 539.2 597.8 540.7 597.8C542.1 597.8 543.6 597.9 545.1 597.9C546.6 598 548.1 598 549.6 598C551.1 598.1 552.5 598.1 554 598.2C555.5 598.2 557 598.2 558.5 598.3C560 598.3 561.5 598.4 562.9 598.4C564.4 598.5 565.9 598.5 567.4 598.5C568.9 598.6 570.4 598.6 571.9 598.7C573.4 598.7 574.8 598.7 576.3 598.8C577.8 598.8 579.3 598.9 580.8 598.9C582.3 598.9 583.8 599 585.2 599C586.7 599.1 588.2 599.1 589.7 599.2C591.2 599.2 592.7 599.2 594.2 599.3C595.6 599.3 597.1 599.4 598.6 599.4C600.1 599.4 601.6 599.5 603.1 599.5C604.6 599.6 606 599.6 607.5 599.6C609 599.7 610.5 599.7 612 599.8C613.5 599.8 615 599.8 616.4 599.9C617.9 599.9 619.4 600 620.9 600C622.4 600.1 623.9 600.1 625.4 600.1C626.9 600.2 628.3 600.2 629.8 600.3C631.3 600.3 632.8 600.3 634.3 600.4C635.8 600.4 637.3 600.5 638.7 600.5C640.2 600.5 641.7 600.5 643.2 600.6C644.7 600.6 646.2 600.6 647.7 600.6C649.1 600.6 650.6 600.7 652.1 600.7C653.6 600.7 655.1 600.7 656.6 600.8C658.1 600.8 659.5 600.8 661 600.8C662.5 600.8 664 600.9 665.5 600.9C667 600.9 668.5 600.9 669.9 600.9C671.4 601 672.9 601 674.4 601C675.9 601 677.4 601 678.9 601.1C680.4 601.1 681.8 601.1 683.3 601.1C684.8 601.1 686.3 601.2 687.8 601.2C689.3 601.2 690.8 601.2 692.2 601.2C693.7 601.3 695.2 601.3 696.7 601.3C698.2 601.3 699.7 601.3 701.2 601.4C702.6 601.4 704.1 601.4 705.6 601.4C707.1 601.5 708.6 601.5 710.1 601.5C711.6 601.5 713 601.5 714.5 601.6C716 601.6 717.5 601.6 719 601.6C720.5 601.6 722 601.7 723.4 601.7C724.9 601.7 726.4 601.7 727.9 601.7C729.4 601.8 730.9 601.8 732.4 601.8C733.9 601.8 735.3 601.8 736.8 601.9C738.3 601.9 739.8 601.9 741.3 601.9C742.8 601.9 744.3 602 745.7 602C747.2 602 749.5 602 750.2 602" stroke="#4bbbee" stroke-width="4" fill="none" stroke-dasharray="7 10"/>
<path d="M206.3 603.1C207 603 209.2 602.9 210.7 602.8C212.2 602.7 213.7 602.6 215.2 602.5C216.7 602.4 218.2 602.5 219.7 602.2C221.1 601.8 222.6 600.9 224.1 600.3C225.6 599.7 227.1 599.1 228.6 598.4C230.1 597.8 231.5 597.2 233 596.6C234.5 595.9 236 595.5 237.5 594.7C239 593.9 240.5 592.9 241.9 592C243.4 591.1 244.9 590.2 246.4 589.2C247.9 588.3 249.4 587.4 250.9 586.5C252.3 585.6 253.8 584.7 255.3 583.8C256.8 582.9 258.3 581.9 259.8 581.1C261.3 580.3 262.7 579.7 264.2 579C265.7 578.4 267.2 577.7 268.7 577C270.2 576.3 271.7 575.6 273.2 575C274.6 574.3 276.1 573.6 277.6 572.9C279.1 572.2 280.6 571.3 282.1 570.9C283.6 570.4 285 570.5 286.5 570.3C288 570.1 289.5 569.9 291 569.7C292.5 569.6 294 569.2 295.4 569.2C296.9 569.1 298.4 569.4 299.9 569.5C301.4 569.6 302.9 569.7 304.4 569.9C305.8 570 307.3 570 308.8 570.2C310.3 570.4 311.8 570.9 313.3 571.2C314.8 571.6 316.2 571.9 317.7 572.2C319.2 572.6 320.7 572.9 322.2 573.3C323.7 573.6 325.2 573.9 326.7 574.3C328.1 574.7 329.6 575.1 331.1 575.6C332.6 576 334.1 576.4 335.6 576.9C337.1 577.3 338.5 577.7 340 578.2C341.5 578.6 343 579 344.5 579.4C346 579.9 347.5 580.3 348.9 580.7C350.4 581.1 351.9 581.5 353.4 581.8C354.9 582.2 356.4 582.6 357.9 582.9C359.3 583.3 360.8 583.6 362.3 584C363.8 584.4 365.3 584.7 366.8 585.1C368.3 585.5 369.7 585.9 371.2 586.2C372.7 586.5 374.2 586.7 375.7 587C377.2 587.3 378.7 587.5 380.2 587.8C381.6 588.1 383.1 588.4 384.6 588.6C386.1 588.9 387.6 589.2 389.1 589.5C390.6 589.7 392 590.1 393.5 590.3C395 590.5 396.5 590.6 398 590.7C399.5 590.9 401 591.1 402.4 591.2C403.9 591.4 405.4 591.5 406.9 591.7C408.4 591.9 409.9 592 411.4 592.2C412.8 592.3 414.3 592.5 415.8 592.7C417.3 592.8 418.8 592.8 420.3 592.9C421.8 593 423.3 593.1 424.7 593.2C426.2 593.3 427.7 593.4 429.2 593.5C430.7 593.6 432.2 593.7 433.7 593.7C435.1 593.8 436.6 593.9 438.1 594C439.6 594.1 441.1 594.2 442.6 594.3C444.1 594.4 445.5 594.5 447 594.6C448.5 594.6 450 594.7 451.5 594.8C453 594.9 454.5 595 455.9 595.1C457.4 595.2 458.9 595.3 460.4 595.4C461.9 595.4 463.4 595.5 464.9 595.6C466.3 595.6 467.8 595.7 469.3 595.7C470.8 595.8 472.3 595.9 473.8 595.9C475.3 596 476.8 596 478.2 596.1C479.7 596.2 481.2 596.2 482.7 596.3C484.2 596.3 485.7 596.4 487.2 596.5C488.6 596.5 490.1 596.6 491.6 596.6C493.1 596.7 494.6 596.8 496.1 596.8C497.6 596.9 499 596.9 500.5 597C502 597.1 503.5 597.1 505 597.2C506.5 597.2 508 597.3 509.4 597.4C510.9 597.4 512.4 597.5 513.9 597.6C515.4 597.6 516.9 597.7 518.4 597.7C519.8 597.8 521.3 597.9 522.8 597.9C524.3 598 525.8 598 527.3 598.1C528.8 598.1 530.3 598.2 531.7 598.2C533.2 598.2 534.7 598.3 536.2 598.3C537.7 598.4 539.2 598.4 540.7 598.4C542.1 598.5 543.6 598.5 545.1 598.5C546.6 598.6 548.1 598.6 549.6 598.6C551.1 598.7 552.5 598.7 554 598.7C555.5 598.8 557 598.8 558.5 598.9C560 598.9 561.5 598.9 562.9 599C564.4 599 565.9 599 567.4 599.1C568.9 599.1 570.4 599.1 571.9 599.2C573.4 599.2 574.8 599.3 576.3 599.3C577.8 599.3 579.3 599.4 580.8 599.4C582.3 599.4 583.8 599.5 585.2 599.5C586.7 599.5 588.2 599.6 589.7 599.6C591.2 599.7 592.7 599.7 594.2 599.7C595.6 599.8 597.1 599.8 598.6 599.8C600.1 599.9 601.6 599.9 603.1 599.9C604.6 600 606 600 607.5 600.1C609 600.1 610.5 600.1 612 600.2C613.5 600.2 615 600.2 616.4 600.3C617.9 600.3 619.4 600.3 620.9 600.4C622.4 600.4 623.9 600.5 625.4 600.5C626.9 600.5 628.3 600.6 629.8 600.6C631.3 600.6 632.8 600.7 634.3 600.7C635.8 600.7 637.3 600.8 638.7 600.8C640.2 600.8 641.7 600.9 643.2 600.9C644.7 600.9 646.2 600.9 647.7 600.9C649.1 600.9 650.6 601 652.1 601C653.6 601 655.1 601 656.6 601C658.1 601.1 659.5 601.1 661 601.1C662.5 601.1 664 601.1 665.5 601.1C667 601.2 668.5 601.2 669.9 601.2C671.4 601.2 672.9 601.2 674.4 601.3C675.9 601.3 677.4 601.3 678.9 601.3C680.4 601.3 681.8 601.3 683.3 601.4C684.8 601.4 686.3 601.4 687.8 601.4C689.3 601.4 690.8 601.5 692.2 601.5C693.7 601.5 695.2 601.5 696.7 601.5C698.2 601.5 699.7 601.6 701.2 601.6C702.6 601.6 704.1 601.6 705.6 601.6C707.1 601.7 708.6 601.7 710.1 601.7C711.6 601.7 713 601.7 714.5 601.7C716 601.8 717.5 601.8 719 601.8C720.5 601.8 722 601.8 723.4 601.9C724.9 601.9 726.4 601.9 727.9 601.9C729.4 601.9 730.9 601.9 732.4 602C733.9 602 735.3 602 736.8 602C738.3 602 739.8 602.1 741.3 602.1C742.8 602.1 744.3 602.1 745.7 602.1C747.2 602.1 749.5 602.2 750.2 602.2" stroke="#4bbbee" stroke-width="4" fill="none" stroke-dasharray="7 10"/>
<path d="M206.3 603.1C207 603 209.2 602.9 210.7 602.8C212.2 602.7 213.7 602.6 215.2 602.6C216.7 602.5 218.2 602.6 219.7 602.3C221.1 602 222.6 601.2 224.1 600.6C225.6 600.1 227.1 599.5 228.6 599C230.1 598.4 231.5 597.9 233 597.3C234.5 596.8 236 596.3 237.5 595.7C239 595 240.5 594.1 241.9 593.3C243.4 592.5 244.9 591.7 246.4 590.9C247.9 590 249.4 589.2 250.9 588.4C252.3 587.6 253.8 586.8 255.3 586C256.8 585.2 258.3 584.3 259.8 583.6C261.3 582.9 262.7 582.4 264.2 581.8C265.7 581.2 267.2 580.6 268.7 580C270.2 579.4 271.7 578.8 273.2 578.2C274.6 577.6 276.1 577 277.6 576.4C279.1 575.8 280.6 575 282.1 574.6C283.6 574.2 285 574.3 286.5 574.1C288 573.9 289.5 573.7 291 573.6C292.5 573.4 294 573.1 295.4 573.1C296.9 573 298.4 573.3 299.9 573.4C301.4 573.5 302.9 573.6 304.4 573.7C305.8 573.8 307.3 573.8 308.8 574C310.3 574.2 311.8 574.6 313.3 574.9C314.8 575.2 316.2 575.5 317.7 575.8C319.2 576.1 320.7 576.4 322.2 576.7C323.7 577 325.2 577.3 326.7 577.6C328.1 577.9 329.6 578.4 331.1 578.7C332.6 579.1 334.1 579.5 335.6 579.9C337.1 580.3 338.5 580.6 340 581C341.5 581.4 343 581.8 344.5 582.2C346 582.6 347.5 583 348.9 583.3C350.4 583.7 351.9 584 353.4 584.3C354.9 584.6 356.4 584.9 357.9 585.2C359.3 585.6 360.8 585.9 362.3 586.2C363.8 586.5 365.3 586.9 366.8 587.2C368.3 587.5 369.7 587.9 371.2 588.1C372.7 588.4 374.2 588.6 375.7 588.9C377.2 589.1 378.7 589.3 380.2 589.6C381.6 589.8 383.1 590.1 384.6 590.3C386.1 590.5 387.6 590.8 389.1 591C390.6 591.3 392 591.6 393.5 591.8C395 591.9 396.5 592 398 592.2C399.5 592.3 401 592.5 402.4 592.6C403.9 592.7 405.4 592.9 406.9 593C408.4 593.2 409.9 593.3 411.4 593.4C412.8 593.6 414.3 593.8 415.8 593.9C417.3 594 418.8 594 420.3 594.1C421.8 594.2 423.3 594.3 424.7 594.3C426.2 594.4 427.7 594.5 429.2 594.6C430.7 594.7 432.2 594.7 433.7 594.8C435.1 594.9 436.6 595 438.1 595.1C439.6 595.1 441.1 595.2 442.6 595.3C444.1 595.4 445.5 595.5 447 595.5C448.5 595.6 450 595.7 451.5 595.8C453 595.9 454.5 596 455.9 596C457.4 596.1 458.9 596.2 460.4 596.3C461.9 596.3 463.4 596.4 464.9 596.4C466.3 596.5 467.8 596.5 469.3 596.6C470.8 596.6 472.3 596.7 473.8 596.8C475.3 596.8 476.8 596.9 478.2 596.9C479.7 597 481.2 597 482.7 597.1C484.2 597.1 485.7 597.2 487.2 597.2C488.6 597.3 490.1 597.3 491.6 597.4C493.1 597.5 494.6 597.5 496.1 597.6C497.6 597.6 499 597.7 500.5 597.7C502 597.8 503.5 597.8 505 597.9C506.5 597.9 508 598 509.4 598C510.9 598.1 512.4 598.1 513.9 598.2C515.4 598.3 516.9 598.3 518.4 598.4C519.8 598.4 521.3 598.5 522.8 598.5C524.3 598.6 525.8 598.6 527.3 598.7C528.8 598.7 530.3 598.7 531.7 598.8C533.2 598.8 534.7 598.8 536.2 598.9C537.7 598.9 539.2 598.9 540.7 599C542.1 599 543.6 599 545.1 599.1C546.6 599.1 548.1 599.1 549.6 599.2C551.1 599.2 552.5 599.2 554 599.3C555.5 599.3 557 599.3 558.5 599.4C560 599.4 561.5 599.4 562.9 599.5C564.4 599.5 565.9 599.5 567.4 599.5C568.9 599.6 570.4 599.6 571.9 599.6C573.4 599.7 574.8 599.7 576.3 599.7C577.8 599.8 579.3 599.8 580.8 599.8C582.3 599.9 583.8 599.9 585.2 599.9C586.7 600 588.2 600 589.7 600C591.2 600.1 592.7 600.1 594.2 600.1C595.6 600.2 597.1 600.2 598.6 600.2C600.1 600.3 601.6 600.3 603.1 600.3C604.6 600.4 606 600.4 607.5 600.4C609 600.4 610.5 600.5 612 600.5C613.5 600.5 615 600.6 616.4 600.6C617.9 600.6 619.4 600.7 620.9 600.7C622.4 600.7 623.9 600.8 625.4 600.8C626.9 600.8 628.3 600.9 629.8 600.9C631.3 600.9 632.8 601 634.3 601C635.8 601 637.3 601.1 638.7 601.1C640.2 601.1 641.7 601.1 643.2 601.1C644.7 601.2 646.2 601.2 647.7 601.2C649.1 601.2 650.6 601.2 652.1 601.2C653.6 601.3 655.1 601.3 656.6 601.3C658.1 601.3 659.5 601.3 661 601.3C662.5 601.3 664 601.4 665.5 601.4C667 601.4 668.5 601.4 669.9 601.4C671.4 601.4 672.9 601.5 674.4 601.5C675.9 601.5 677.4 601.5 678.9 601.5C680.4 601.5 681.8 601.6 683.3 601.6C684.8 601.6 686.3 601.6 687.8 601.6C689.3 601.6 690.8 601.7 692.2 601.7C693.7 601.7 695.2 601.7 696.7 601.7C698.2 601.7 699.7 601.8 701.2 601.8C702.6 601.8 704.1 601.8 705.6 601.8C707.1 601.8 708.6 601.8 710.1 601.9C711.6 601.9 713 601.9 714.5 601.9C716 601.9 717.5 601.9 719 602C720.5 602 722 602 723.4 602C724.9 602 726.4 602 727.9 602.1C729.4 602.1 730.9 602.1 732.4 602.1C733.9 602.1 735.3 602.1 736.8 602.2C738.3 602.2 739.8 602.2 741.3 602.2C742.8 602.2 744.3 602.2 745.7 602.2C747.2 602.3 749.5 602.3 750.2 602.3" stroke="#4bbbee" stroke-width="4" fill="none" stroke-dasharray="7 10"/>
<path d="M206.3 603.1C207 603.1 209.2 602.9 210.7 602.9C212.2 602.8 213.7 602.7 215.2 602.6C216.7 602.6 218.2 602.7 219.7 602.4C221.1 602.1 222.6 601.5 224.1 601C225.6 600.5 227.1 600 228.6 599.5C230.1 599 231.5 598.6 233 598.1C234.5 597.6 236 597.2 237.5 596.6C239 596.1 240.5 595.2 241.9 594.5C243.4 593.8 244.9 593.2 246.4 592.5C247.9 591.8 249.4 591.1 250.9 590.4C252.3 589.7 253.8 589 255.3 588.3C256.8 587.6 258.3 586.8 259.8 586.2C261.3 585.5 262.7 585.1 264.2 584.6C265.7 584.1 267.2 583.5 268.7 583C270.2 582.5 271.7 582 273.2 581.4C274.6 580.9 276.1 580.4 277.6 579.9C279.1 579.3 280.6 578.6 282.1 578.3C283.6 578 285 578 286.5 577.9C288 577.7 289.5 577.6 291 577.4C292.5 577.3 294 577 295.4 577C296.9 577 298.4 577.2 299.9 577.2C301.4 577.3 302.9 577.4 304.4 577.5C305.8 577.6 307.3 577.6 308.8 577.8C310.3 577.9 311.8 578.3 313.3 578.6C314.8 578.8 316.2 579.1 317.7 579.3C319.2 579.6 320.7 579.9 322.2 580.1C323.7 580.4 325.2 580.6 326.7 580.9C328.1 581.2 329.6 581.6 331.1 581.9C332.6 582.2 334.1 582.6 335.6 582.9C337.1 583.2 338.5 583.6 340 583.9C341.5 584.2 343 584.6 344.5 584.9C346 585.2 347.5 585.6 348.9 585.9C350.4 586.2 351.9 586.5 353.4 586.7C354.9 587 356.4 587.3 357.9 587.6C359.3 587.9 360.8 588.1 362.3 588.4C363.8 588.7 365.3 589 366.8 589.3C368.3 589.5 369.7 589.8 371.2 590.1C372.7 590.3 374.2 590.5 375.7 590.7C377.2 590.9 378.7 591.1 380.2 591.4C381.6 591.6 383.1 591.8 384.6 592C386.1 592.2 387.6 592.4 389.1 592.6C390.6 592.8 392 593.1 393.5 593.2C395 593.4 396.5 593.5 398 593.6C399.5 593.7 401 593.8 402.4 594C403.9 594.1 405.4 594.2 406.9 594.3C408.4 594.5 409.9 594.6 411.4 594.7C412.8 594.8 414.3 595 415.8 595.1C417.3 595.2 418.8 595.2 420.3 595.3C421.8 595.4 423.3 595.4 424.7 595.5C426.2 595.6 427.7 595.6 429.2 595.7C430.7 595.8 432.2 595.8 433.7 595.9C435.1 596 436.6 596.1 438.1 596.1C439.6 596.2 441.1 596.3 442.6 596.3C444.1 596.4 445.5 596.5 447 596.5C448.5 596.6 450 596.7 451.5 596.8C453 596.8 454.5 596.9 455.9 597C457.4 597 458.9 597.1 460.4 597.2C461.9 597.2 463.4 597.3 464.9 597.3C466.3 597.4 467.8 597.4 469.3 597.4C470.8 597.5 472.3 597.5 473.8 597.6C475.3 597.6 476.8 597.7 478.2 597.7C479.7 597.8 481.2 597.8 482.7 597.9C484.2 597.9 485.7 598 487.2 598C488.6 598.1 490.1 598.1 491.6 598.1C493.1 598.2 494.6 598.2 496.1 598.3C497.6 598.3 499 598.4 500.5 598.4C502 598.5 503.5 598.5 505 598.6C506.5 598.6 508 598.7 509.4 598.7C510.9 598.8 512.4 598.8 513.9 598.8C515.4 598.9 516.9 598.9 518.4 599C519.8 599 521.3 599.1 522.8 599.1C524.3 599.2 525.8 599.2 527.3 599.3C528.8 599.3 530.3 599.3 531.7 599.4C533.2 599.4 534.7 599.4 536.2 599.4C537.7 599.5 539.2 599.5 540.7 599.5C542.1 599.5 543.6 599.6 545.1 599.6C546.6 599.6 548.1 599.7 549.6 599.7C551.1 599.7 552.5 599.7 554 599.8C555.5 599.8 557 599.8 558.5 599.9C560 599.9 561.5 599.9 562.9 599.9C564.4 600 565.9 600 567.4 600C568.9 600.1 570.4 600.1 571.9 600.1C573.4 600.1 574.8 600.2 576.3 600.2C577.8 600.2 579.3 600.2 580.8 600.3C582.3 600.3 583.8 600.3 585.2 600.4C586.7 600.4 588.2 600.4 589.7 600.4C591.2 600.5 592.7 600.5 594.2 600.5C595.6 600.6 597.1 600.6 598.6 600.6C600.1 600.6 601.6 600.7 603.1 600.7C604.6 600.7 606 600.7 607.5 600.8C609 600.8 610.5 600.8 612 600.9C613.5 600.9 615 600.9 616.4 600.9C617.9 601 619.4 601 620.9 601C622.4 601.1 623.9 601.1 625.4 601.1C626.9 601.1 628.3 601.2 629.8 601.2C631.3 601.2 632.8 601.3 634.3 601.3C635.8 601.3 637.3 601.3 638.7 601.4C640.2 601.4 641.7 601.4 643.2 601.4C644.7 601.4 646.2 601.4 647.7 601.4C649.1 601.5 650.6 601.5 652.1 601.5C653.6 601.5 655.1 601.5 656.6 601.5C658.1 601.5 659.5 601.6 661 601.6C662.5 601.6 664 601.6 665.5 601.6C667 601.6 668.5 601.6 669.9 601.7C671.4 601.7 672.9 601.7 674.4 601.7C675.9 601.7 677.4 601.7 678.9 601.7C680.4 601.8 681.8 601.8 683.3 601.8C684.8 601.8 686.3 601.8 687.8 601.8C689.3 601.8 690.8 601.9 692.2 601.9C693.7 601.9 695.2 601.9 696.7 601.9C698.2 601.9 699.7 601.9 701.2 602C702.6 602 704.1 602 705.6 602C707.1 602 708.6 602 710.1 602C711.6 602 713 602.1 714.5 602.1C716 602.1 717.5 602.1 719 602.1C720.5 602.1 722 602.1 723.4 602.2C724.9 602.2 726.4 602.2 727.9 602.2C729.4 602.2 730.9 602.2 732.4 602.2C733.9 602.3 735.3 602.3 736.8 602.3C738.3 602.3 739.8 602.3 741.3 602.3C742.8 602.3 744.3 602.4 745.7 602.4C747.2 602.4 749.5 602.4 750.2 602.4" stroke="#4bbbee" stroke-width="4" fill="none" stroke-dasharray="7 10"/>
<path d="M206.3 603.1C207 603.1 209.2 603 210.7 602.9C212.2 602.8 213.7 602.8 215.2 602.7C216.7 602.7 218.2 602.8 219.7 602.5C221.1 602.3 222.6 601.7 224.1 601.3C225.6 600.9 227.1 600.5 228.6 600.1C230.1 599.7 231.5 599.3 233 598.8C234.5 598.4 236 598.1 237.5 597.6C239 597.1 240.5 596.4 241.9 595.8C243.4 595.2 244.9 594.6 246.4 594.1C247.9 593.5 249.4 592.9 250.9 592.3C252.3 591.7 253.8 591.1 255.3 590.5C256.8 589.9 258.3 589.2 259.8 588.7C261.3 588.2 262.7 587.8 264.2 587.4C265.7 586.9 267.2 586.5 268.7 586C270.2 585.6 271.7 585.1 273.2 584.7C274.6 584.2 276.1 583.8 277.6 583.3C279.1 582.9 280.6 582.3 282.1 582C283.6 581.7 285 581.8 286.5 581.6C288 581.5 289.5 581.4 291 581.3C292.5 581.1 294 580.9 295.4 580.9C296.9 580.9 298.4 581 299.9 581.1C301.4 581.2 302.9 581.3 304.4 581.3C305.8 581.4 307.3 581.4 308.8 581.6C310.3 581.7 311.8 582 313.3 582.2C314.8 582.4 316.2 582.7 317.7 582.9C319.2 583.1 320.7 583.3 322.2 583.6C323.7 583.8 325.2 584 326.7 584.2C328.1 584.5 329.6 584.8 331.1 585.1C332.6 585.4 334.1 585.6 335.6 585.9C337.1 586.2 338.5 586.5 340 586.8C341.5 587.1 343 587.3 344.5 587.6C346 587.9 347.5 588.2 348.9 588.5C350.4 588.7 351.9 589 353.4 589.2C354.9 589.4 356.4 589.7 357.9 589.9C359.3 590.1 360.8 590.4 362.3 590.6C363.8 590.9 365.3 591.1 366.8 591.3C368.3 591.6 369.7 591.8 371.2 592C372.7 592.3 374.2 592.4 375.7 592.6C377.2 592.8 378.7 592.9 380.2 593.1C381.6 593.3 383.1 593.5 384.6 593.7C386.1 593.8 387.6 594 389.1 594.2C390.6 594.4 392 594.6 393.5 594.7C395 594.9 396.5 594.9 398 595C399.5 595.1 401 595.2 402.4 595.3C403.9 595.5 405.4 595.6 406.9 595.7C408.4 595.8 409.9 595.9 411.4 596C412.8 596.1 414.3 596.2 415.8 596.3C417.3 596.4 418.8 596.4 420.3 596.5C421.8 596.5 423.3 596.6 424.7 596.6C426.2 596.7 427.7 596.8 429.2 596.8C430.7 596.9 432.2 596.9 433.7 597C435.1 597.1 436.6 597.1 438.1 597.2C439.6 597.2 441.1 597.3 442.6 597.4C444.1 597.4 445.5 597.5 447 597.5C448.5 597.6 450 597.7 451.5 597.7C453 597.8 454.5 597.8 455.9 597.9C457.4 597.9 458.9 598 460.4 598.1C461.9 598.1 463.4 598.1 464.9 598.2C466.3 598.2 467.8 598.3 469.3 598.3C470.8 598.3 472.3 598.4 473.8 598.4C475.3 598.5 476.8 598.5 478.2 598.5C479.7 598.6 481.2 598.6 482.7 598.7C484.2 598.7 485.7 598.7 487.2 598.8C488.6 598.8 490.1 598.9 491.6 598.9C493.1 598.9 494.6 599 496.1 599C497.6 599.1 499 599.1 500.5 599.1C502 599.2 503.5 599.2 505 599.3C506.5 599.3 508 599.3 509.4 599.4C510.9 599.4 512.4 599.5 513.9 599.5C515.4 599.5 516.9 599.6 518.4 599.6C519.8 599.7 521.3 599.7 522.8 599.7C524.3 599.8 525.8 599.8 527.3 599.9C528.8 599.9 530.3 599.9 531.7 599.9C533.2 599.9 534.7 600 536.2 600C537.7 600 539.2 600 540.7 600.1C542.1 600.1 543.6 600.1 545.1 600.1C546.6 600.2 548.1 600.2 549.6 600.2C551.1 600.2 552.5 600.3 554 600.3C555.5 600.3 557 600.3 558.5 600.4C560 600.4 561.5 600.4 562.9 600.4C564.4 600.4 565.9 600.5 567.4 600.5C568.9 600.5 570.4 600.5 571.9 600.6C573.4 600.6 574.8 600.6 576.3 600.6C577.8 600.7 579.3 600.7 580.8 600.7C582.3 600.7 583.8 600.8 585.2 600.8C586.7 600.8 588.2 600.8 589.7 600.9C591.2 600.9 592.7 600.9 594.2 600.9C595.6 600.9 597.1 601 598.6 601C600.1 601 601.6 601 603.1 601.1C604.6 601.1 606 601.1 607.5 601.1C609 601.2 610.5 601.2 612 601.2C613.5 601.2 615 601.3 616.4 601.3C617.9 601.3 619.4 601.3 620.9 601.4C622.4 601.4 623.9 601.4 625.4 601.4C626.9 601.4 628.3 601.5 629.8 601.5C631.3 601.5 632.8 601.5 634.3 601.6C635.8 601.6 637.3 601.6 638.7 601.6C640.2 601.7 641.7 601.7 643.2 601.7C644.7 601.7 646.2 601.7 647.7 601.7C649.1 601.7 650.6 601.7 652.1 601.7C653.6 601.8 655.1 601.8 656.6 601.8C658.1 601.8 659.5 601.8 661 601.8C662.5 601.8 664 601.8 665.5 601.9C667 601.9 668.5 601.9 669.9 601.9C671.4 601.9 672.9 601.9 674.4 601.9C675.9 601.9 677.4 601.9 678.9 602C680.4 602 681.8 602 683.3 602C684.8 602 686.3 602 687.8 602C689.3 602 690.8 602.1 692.2 602.1C693.7 602.1 695.2 602.1 696.7 602.1C698.2 602.1 699.7 602.1 701.2 602.1C702.6 602.1 704.1 602.2 705.6 602.2C707.1 602.2 708.6 602.2 710.1 602.2C711.6 602.2 713 602.2 714.5 602.2C716 602.3 717.5 602.3 719 602.3C720.5 602.3 722 602.3 723.4 602.3C724.9 602.3 726.4 602.3 727.9 602.4C729.4 602.4 730.9 602.4 732.4 602.4C733.9 602.4 735.3 602.4 736.8 602.4C738.3 602.4 739.8 602.4 741.3 602.5C742.8 602.5 744.3 602.5 745.7 602.5C747.2 602.5 749.5 602.5 750.2 602.5" stroke="#4bbbee" stroke-width="4" fill="none" stroke-dasharray="7 10"/>
<path d="M206.3 603.1C207 603.1 209.2 603 210.7 603C212.2 602.9 213.7 602.9 215.2 602.8C216.7 602.8 218.2 602.8 219.7 602.6C221.1 602.5 222.6 602 224.1 601.6C225.6 601.3 227.1 601 228.6 600.6C230.1 600.3 231.5 599.9 233 599.6C234.5 599.3 236 599 237.5 598.6C239 598.2 240.5 597.6 241.9 597.1C243.4 596.6 244.9 596.1 246.4 595.7C247.9 595.2 249.4 594.7 250.9 594.2C252.3 593.7 253.8 593.2 255.3 592.7C256.8 592.2 258.3 591.7 259.8 591.2C261.3 590.8 262.7 590.5 264.2 590.1C265.7 589.8 267.2 589.4 268.7 589C270.2 588.7 271.7 588.3 273.2 587.9C274.6 587.6 276.1 587.2 277.6 586.8C279.1 586.4 280.6 585.9 282.1 585.7C283.6 585.5 285 585.5 286.5 585.4C288 585.3 289.5 585.2 291 585.1C292.5 585 294 584.8 295.4 584.8C296.9 584.8 298.4 584.9 299.9 585C301.4 585 302.9 585.1 304.4 585.2C305.8 585.2 307.3 585.2 308.8 585.3C310.3 585.5 311.8 585.7 313.3 585.9C314.8 586.1 316.2 586.3 317.7 586.4C319.2 586.6 320.7 586.8 322.2 587C323.7 587.2 325.2 587.3 326.7 587.6C328.1 587.8 329.6 588 331.1 588.3C332.6 588.5 334.1 588.7 335.6 589C337.1 589.2 338.5 589.4 340 589.7C341.5 589.9 343 590.1 344.5 590.4C346 590.6 347.5 590.8 348.9 591.1C350.4 591.3 351.9 591.4 353.4 591.6C354.9 591.8 356.4 592 357.9 592.2C359.3 592.4 360.8 592.6 362.3 592.8C363.8 593 365.3 593.2 366.8 593.4C368.3 593.6 369.7 593.8 371.2 594C372.7 594.2 374.2 594.3 375.7 594.4C377.2 594.6 378.7 594.7 380.2 594.9C381.6 595 383.1 595.2 384.6 595.3C386.1 595.5 387.6 595.6 389.1 595.8C390.6 595.9 392 596.1 393.5 596.2C395 596.3 396.5 596.4 398 596.5C399.5 596.5 401 596.6 402.4 596.7C403.9 596.8 405.4 596.9 406.9 597C408.4 597.1 409.9 597.2 411.4 597.2C412.8 597.3 414.3 597.4 415.8 597.5C417.3 597.6 418.8 597.6 420.3 597.6C421.8 597.7 423.3 597.7 424.7 597.8C426.2 597.8 427.7 597.9 429.2 597.9C430.7 598 432.2 598 433.7 598.1C435.1 598.1 436.6 598.2 438.1 598.2C439.6 598.3 441.1 598.3 442.6 598.4C444.1 598.4 445.5 598.5 447 598.5C448.5 598.6 450 598.6 451.5 598.7C453 598.7 454.5 598.8 455.9 598.8C457.4 598.9 458.9 598.9 460.4 599C461.9 599 463.4 599 464.9 599.1C466.3 599.1 467.8 599.1 469.3 599.2C470.8 599.2 472.3 599.2 473.8 599.3C475.3 599.3 476.8 599.3 478.2 599.4C479.7 599.4 481.2 599.4 482.7 599.5C484.2 599.5 485.7 599.5 487.2 599.6C488.6 599.6 490.1 599.6 491.6 599.7C493.1 599.7 494.6 599.7 496.1 599.8C497.6 599.8 499 599.8 500.5 599.8C502 599.9 503.5 599.9 505 599.9C506.5 600 508 600 509.4 600C510.9 600.1 512.4 600.1 513.9 600.1C515.4 600.2 516.9 600.2 518.4 600.2C519.8 600.3 521.3 600.3 522.8 600.3C524.3 600.4 525.8 600.4 527.3 600.4C528.8 600.5 530.3 600.5 531.7 600.5C533.2 600.5 534.7 600.5 536.2 600.6C537.7 600.6 539.2 600.6 540.7 600.6C542.1 600.6 543.6 600.7 545.1 600.7C546.6 600.7 548.1 600.7 549.6 600.7C551.1 600.8 552.5 600.8 554 600.8C555.5 600.8 557 600.8 558.5 600.9C560 600.9 561.5 600.9 562.9 600.9C564.4 600.9 565.9 600.9 567.4 601C568.9 601 570.4 601 571.9 601C573.4 601 574.8 601.1 576.3 601.1C577.8 601.1 579.3 601.1 580.8 601.1C582.3 601.2 583.8 601.2 585.2 601.2C586.7 601.2 588.2 601.2 589.7 601.3C591.2 601.3 592.7 601.3 594.2 601.3C595.6 601.3 597.1 601.4 598.6 601.4C600.1 601.4 601.6 601.4 603.1 601.4C604.6 601.5 606 601.5 607.5 601.5C609 601.5 610.5 601.5 612 601.6C613.5 601.6 615 601.6 616.4 601.6C617.9 601.6 619.4 601.7 620.9 601.7C622.4 601.7 623.9 601.7 625.4 601.7C626.9 601.8 628.3 601.8 629.8 601.8C631.3 601.8 632.8 601.8 634.3 601.9C635.8 601.9 637.3 601.9 638.7 601.9C640.2 601.9 641.7 601.9 643.2 601.9C644.7 602 646.2 602 647.7 602C649.1 602 650.6 602 652.1 602C653.6 602 655.1 602 656.6 602C658.1 602 659.5 602 661 602.1C662.5 602.1 664 602.1 665.5 602.1C667 602.1 668.5 602.1 669.9 602.1C671.4 602.1 672.9 602.1 674.4 602.1C675.9 602.2 677.4 602.2 678.9 602.2C680.4 602.2 681.8 602.2 683.3 602.2C684.8 602.2 686.3 602.2 687.8 602.2C689.3 602.2 690.8 602.3 692.2 602.3C693.7 602.3 695.2 602.3 696.7 602.3C698.2 602.3 699.7 602.3 701.2 602.3C702.6 602.3 704.1 602.3 705.6 602.4C707.1 602.4 708.6 602.4 710.1 602.4C711.6 602.4 713 602.4 714.5 602.4C716 602.4 717.5 602.4 719 602.4C720.5 602.5 722 602.5 723.4 602.5C724.9 602.5 726.4 602.5 727.9 602.5C729.4 602.5 730.9 602.5 732.4 602.5C733.9 602.5 735.3 602.5 736.8 602.6C738.3 602.6 739.8 602.6 741.3 602.6C742.8 602.6 744.3 602.6 745.7 602.6C747.2 602.6 749.5 602.6 750.2 602.6" stroke="#4bbbee" stroke-width="4" fill="none" stroke-dasharray="7 10"/>
</g>
<path d="M205 594L210 594.3 214 594.1 218 593.4 222 592.3 226 590.5 229.5 588.3 233 585.6 236.5 582.2 240 578.1 243 573.9 249.5 562.8 256 548.6 262 532.6 271 504.1 286.5 449.8 295 417.5 302.5 385.7 308 359.4 313.5 329.8 328.5 237.5 334 206.1 340.5 174.3 347.5 145.6 352.5 127.8 357 113.5 361.5 101.3 365.5 92.4 369.5 85.5 373.5 80.7 375.5 79 378 77.5 380 76.9 382.5 76.5 384.5 76.7 387 77.4 391.5 79.8 396 83.6 400.5 88.9 405 95.5 410 104.4 414.5 113.6 419.5 125.4 427.5 147.2 437.5 178.2 464.5 265.6 502 390.8 508.5 411.4 514 427.7 524 453.6 535 477.7 540.5 488.5 546.5 499.3 552 508.3 558 517.2 566 527.8 574 537.1 582.5 545.8 591 553.3 599 559.4 607 564.4 616 569 628 574.2 639 578.4 649.5 581.7 666 586.1 678.5 588.7 692.5 590.8 714.5 593.5 734 595 749.5 595.8" stroke="#4bbbee" stroke-width="3.4" fill="none" stroke-linejoin="round"/>
<path d="M1845.6 594L1850.6 594.2 1854.6 594 1858.6 593.4 1862.6 592.2 1866.6 590.4 1870.1 588.2 1873.6 585.4 1877.1 582 1880.6 577.9 1883.6 573.7 1890 562.5 1896.5 548.2 1902.5 532.1 1911.5 503.4 1927 448.7 1935.5 416.2 1943 384.2 1948.5 357.7 1954 328 1969 235 1974.5 203.4 1981 171.4 1988 142.4 1993 124.5 1997.5 110.2 2001.9 97.8 2005.9 88.8 2009.9 81.9 2013.9 77 2015.9 75.4 2018.4 73.9 2020.4 73.2 2022.9 72.9 2024.9 73.1 2027.4 73.7 2031.9 76.1 2036.4 80 2040.9 85.3 2045.4 92 2050.4 100.9 2054.9 110.3 2059.9 122.1 2067.9 144.1 2077.9 175.2 2104.9 263.2 2142.3 389.3 2148.8 410.1 2154.3 426.5 2164.3 452.5 2175.3 476.9 2180.8 487.7 2186.8 498.5 2192.3 507.6 2198.3 516.6 2206.3 527.3 2214.3 536.7 2222.8 545.4 2231.2 553 2239.2 559.1 2247.2 564.1 2256.2 568.7 2268.2 574 2279.2 578.2 2289.7 581.6 2306.2 586 2318.7 588.6 2332.7 590.7 2354.6 593.5 2374.1 595 2389.6 595.7" stroke="#4bbbee" stroke-width="3.6" fill="none" stroke-linejoin="round" stroke-dasharray="3.6 5"/>
<path d="M1880 601.8L1898 601.7 1906.2 601.1 1911.8 599.9 1914.3 598.7 1916.1 597.3 1918.5 594.7 1920.5 591.8 1924.1 584.1 1927.5 573 1931.1 557.3 1933.6 543 1935.9 525.7 1938.6 500.8 1941.6 470 1950 364.3 1954.3 320.5 1957 276.1 1963.5 188.9 1965.9 163 1969.5 128.7 1972.6 105.4 1974.6 95.6 1977.3 84.2 1978.7 80 1980.3 77.1 1982.3 75 1984.4 74.4 1986.2 74.8 1988.1 76.2 1990.1 78.9 1991.8 82.4 1995.9 94.8 2000.1 111.8 2005.3 138.3 2019.6 228.2 2027.8 273 2037.2 318.5 2043.7 347.8 2050.8 377 2058.1 404.5 2064.2 424.6 2077.2 463 2081.9 476.2 2086.7 488.2 2094.5 505.6 2102.8 522.1 2109.4 533.3 2116.9 543.9 2124.6 553.1 2133 561.7 2141.9 569 2151 575.2 2160.2 580.1 2171.8 584.8 2182.3 588.1 2195.5 591.1 2215.1 595.1 2225.5 596.8 2235.4 597.8 2252.3 598.9 2274.3 599.8 2302.3 600.4 2388.8 601" stroke="#4bbbee" stroke-width="3.6" fill="none" stroke-linejoin="round"/>
<clipPath id="clipc"><rect x="193.9" y="842.8" width="555.3" height="555.8"/></clipPath>
<g clip-path="url(#clipc)">
<path d="M206.3 1395.9C207 1395.8 209.2 1395.5 210.7 1395.3C212.2 1395.1 213.7 1394.9 215.2 1394.7C216.7 1394.5 218.2 1394.3 219.7 1394.1C221.1 1393.9 222.6 1393.7 224.1 1393.5C225.6 1393.3 227.1 1393 228.6 1392.8C230.1 1392.6 231.5 1392.3 233 1392.1C234.5 1391.8 236 1391.6 237.5 1391.4C239 1391.1 240.5 1390.9 241.9 1390.6C243.4 1390.4 244.9 1390.1 246.4 1389.9C247.9 1389.7 249.4 1389.5 250.9 1389.3C252.3 1389.1 253.8 1389 255.3 1388.8C256.8 1388.7 258.3 1388.5 259.8 1388.3C261.3 1388.2 262.7 1388 264.2 1387.9C265.7 1387.7 267.2 1387.5 268.7 1387.4C270.2 1387.2 271.7 1387.1 273.2 1387.1C274.6 1387 276.1 1386.9 277.6 1386.9C279.1 1386.8 280.6 1386.8 282.1 1386.7C283.6 1386.7 285 1386.5 286.5 1386.5C288 1386.6 289.5 1386.7 291 1386.8C292.5 1386.9 294 1387 295.4 1387.1C296.9 1387.2 298.4 1387.3 299.9 1387.4C301.4 1387.5 302.9 1387.6 304.4 1387.7C305.8 1387.9 307.3 1388.1 308.8 1388.2C310.3 1388.4 311.8 1388.5 313.3 1388.7C314.8 1388.9 316.2 1389 317.7 1389.2C319.2 1389.4 320.7 1389.5 322.2 1389.7C323.7 1389.8 325.2 1390 326.7 1390.2C328.1 1390.3 329.6 1390.4 331.1 1390.5C332.6 1390.6 334.1 1390.7 335.6 1390.8C337.1 1390.9 338.5 1391 340 1391.1C341.5 1391.2 343 1391.3 344.5 1391.4C346 1391.5 347.5 1391.6 348.9 1391.7C350.4 1391.8 351.9 1391.9 353.4 1392C354.9 1392.1 356.4 1392.2 357.9 1392.3C359.3 1392.4 360.8 1392.5 362.3 1392.6C363.8 1392.7 365.3 1392.8 366.8 1392.9C368.3 1393 369.7 1393.1 371.2 1393.2C372.7 1393.2 374.2 1393.3 375.7 1393.3C377.2 1393.4 378.7 1393.4 380.2 1393.5C381.6 1393.5 383.1 1393.6 384.6 1393.6C386.1 1393.7 387.6 1393.7 389.1 1393.8C390.6 1393.9 392 1393.9 393.5 1394C395 1394 396.5 1394.1 398 1394.1C399.5 1394.2 401 1394.2 402.4 1394.3C403.9 1394.3 405.4 1394.4 406.9 1394.4C408.4 1394.5 409.9 1394.5 411.4 1394.6C412.8 1394.6 414.3 1394.7 415.8 1394.7C417.3 1394.8 418.8 1394.8 420.3 1394.8C421.8 1394.8 423.3 1394.9 424.7 1394.9C426.2 1394.9 427.7 1394.9 429.2 1394.9C430.7 1395 432.2 1395 433.7 1395C435.1 1395 436.6 1395.1 438.1 1395.1C439.6 1395.1 441.1 1395.1 442.6 1395.1C444.1 1395.2 445.5 1395.2 447 1395.2C448.5 1395.2 450 1395.3 451.5 1395.3C453 1395.3 454.5 1395.3 455.9 1395.3C457.4 1395.4 458.9 1395.4 460.4 1395.4C461.9 1395.4 463.4 1395.5 464.9 1395.5C466.3 1395.5 467.8 1395.5 469.3 1395.6C470.8 1395.6 472.3 1395.6 473.8 1395.6C475.3 1395.6 476.8 1395.7 478.2 1395.7C479.7 1395.7 481.2 1395.7 482.7 1395.8C484.2 1395.8 485.7 1395.8 487.2 1395.8C488.6 1395.8 490.1 1395.9 491.6 1395.9C493.1 1395.9 494.6 1395.9 496.1 1396C497.6 1396 499 1396 500.5 1396C502 1396 503.5 1396.1 505 1396.1C506.5 1396.1 508 1396.1 509.4 1396.2C510.9 1396.2 512.4 1396.2 513.9 1396.2C515.4 1396.2 516.9 1396.3 518.4 1396.3C519.8 1396.3 521.3 1396.3 522.8 1396.4C524.3 1396.4 525.8 1396.4 527.3 1396.4C528.8 1396.4 530.3 1396.5 531.7 1396.5C533.2 1396.5 534.7 1396.5 536.2 1396.5C537.7 1396.5 539.2 1396.5 540.7 1396.5C542.1 1396.6 543.6 1396.6 545.1 1396.6C546.6 1396.6 548.1 1396.6 549.6 1396.6C551.1 1396.6 552.5 1396.6 554 1396.7C555.5 1396.7 557 1396.7 558.5 1396.7C560 1396.7 561.5 1396.7 562.9 1396.7C564.4 1396.8 565.9 1396.8 567.4 1396.8C568.9 1396.8 570.4 1396.8 571.9 1396.8C573.4 1396.8 574.8 1396.8 576.3 1396.9C577.8 1396.9 579.3 1396.9 580.8 1396.9C582.3 1396.9 583.8 1396.9 585.2 1396.9C586.7 1396.9 588.2 1397 589.7 1397C591.2 1397 592.7 1397 594.2 1397C595.6 1397 597.1 1397 598.6 1397C600.1 1397.1 601.6 1397.1 603.1 1397.1C604.6 1397.1 606 1397.1 607.5 1397.1C609 1397.1 610.5 1397.1 612 1397.2C613.5 1397.2 615 1397.2 616.4 1397.2C617.9 1397.2 619.4 1397.2 620.9 1397.2C622.4 1397.3 623.9 1397.3 625.4 1397.3C626.9 1397.3 628.3 1397.3 629.8 1397.3C631.3 1397.3 632.8 1397.3 634.3 1397.4C635.8 1397.4 637.3 1397.4 638.7 1397.4C640.2 1397.4 641.7 1397.4 643.2 1397.4C644.7 1397.4 646.2 1397.4 647.7 1397.4C649.1 1397.4 650.6 1397.5 652.1 1397.5C653.6 1397.5 655.1 1397.5 656.6 1397.5C658.1 1397.5 659.5 1397.5 661 1397.5C662.5 1397.5 664 1397.5 665.5 1397.5C667 1397.5 668.5 1397.6 669.9 1397.6C671.4 1397.6 672.9 1397.6 674.4 1397.6C675.9 1397.6 677.4 1397.6 678.9 1397.6C680.4 1397.6 681.8 1397.6 683.3 1397.6C684.8 1397.6 686.3 1397.7 687.8 1397.7C689.3 1397.7 690.8 1397.7 692.2 1397.7C693.7 1397.7 695.2 1397.7 696.7 1397.7C698.2 1397.7 699.7 1397.7 701.2 1397.7C702.6 1397.7 704.1 1397.7 705.6 1397.8C707.1 1397.8 708.6 1397.8 710.1 1397.8C711.6 1397.8 713 1397.8 714.5 1397.8C716 1397.8 717.5 1397.8 719 1397.8C720.5 1397.8 722 1397.8 723.4 1397.9C724.9 1397.9 726.4 1397.9 727.9 1397.9C729.4 1397.9 730.9 1397.9 732.4 1397.9C733.9 1397.9 735.3 1397.9 736.8 1397.9C738.3 1397.9 739.8 1397.9 741.3 1397.9C742.8 1398 744.3 1398 745.7 1398C747.2 1398 749.5 1398 750.2 1398" stroke="#f27a80" stroke-width="4" fill="none" stroke-dasharray="7 10"/>
<path d="M206.3 1396.2C207 1396.1 209.2 1395.8 210.7 1395.7C212.2 1395.5 213.7 1395.3 215.2 1395.1C216.7 1395 218.2 1394.8 219.7 1394.6C221.1 1394.4 222.6 1394.3 224.1 1394.1C225.6 1393.9 227.1 1393.7 228.6 1393.5C230.1 1393.3 231.5 1393.1 233 1392.8C234.5 1392.6 236 1392.4 237.5 1392.2C239 1392 240.5 1391.8 241.9 1391.6C243.4 1391.3 244.9 1391.1 246.4 1390.9C247.9 1390.7 249.4 1390.5 250.9 1390.4C252.3 1390.2 253.8 1390.1 255.3 1390C256.8 1389.8 258.3 1389.7 259.8 1389.5C261.3 1389.4 262.7 1389.2 264.2 1389.1C265.7 1389 267.2 1388.8 268.7 1388.7C270.2 1388.6 271.7 1388.5 273.2 1388.4C274.6 1388.3 276.1 1388.3 277.6 1388.2C279.1 1388.2 280.6 1388.1 282.1 1388.1C283.6 1388 285 1387.9 286.5 1387.9C288 1387.9 289.5 1388.1 291 1388.2C292.5 1388.3 294 1388.4 295.4 1388.5C296.9 1388.6 298.4 1388.6 299.9 1388.7C301.4 1388.8 302.9 1388.9 304.4 1389C305.8 1389.1 307.3 1389.3 308.8 1389.4C310.3 1389.6 311.8 1389.7 313.3 1389.8C314.8 1390 316.2 1390.1 317.7 1390.3C319.2 1390.4 320.7 1390.6 322.2 1390.7C323.7 1390.8 325.2 1391 326.7 1391.1C328.1 1391.2 329.6 1391.3 331.1 1391.4C332.6 1391.5 334.1 1391.6 335.6 1391.7C337.1 1391.8 338.5 1391.8 340 1391.9C341.5 1392 343 1392.1 344.5 1392.2C346 1392.3 347.5 1392.4 348.9 1392.5C350.4 1392.6 351.9 1392.6 353.4 1392.7C354.9 1392.8 356.4 1392.9 357.9 1393C359.3 1393.1 360.8 1393.2 362.3 1393.3C363.8 1393.4 365.3 1393.4 366.8 1393.5C368.3 1393.6 369.7 1393.7 371.2 1393.8C372.7 1393.9 374.2 1393.9 375.7 1393.9C377.2 1394 378.7 1394 380.2 1394.1C381.6 1394.1 383.1 1394.2 384.6 1394.2C386.1 1394.3 387.6 1394.3 389.1 1394.4C390.6 1394.4 392 1394.4 393.5 1394.5C395 1394.5 396.5 1394.6 398 1394.6C399.5 1394.7 401 1394.7 402.4 1394.8C403.9 1394.8 405.4 1394.9 406.9 1394.9C408.4 1395 409.9 1395 411.4 1395C412.8 1395.1 414.3 1395.2 415.8 1395.2C417.3 1395.2 418.8 1395.2 420.3 1395.2C421.8 1395.3 423.3 1395.3 424.7 1395.3C426.2 1395.3 427.7 1395.3 429.2 1395.4C430.7 1395.4 432.2 1395.4 433.7 1395.4C435.1 1395.4 436.6 1395.5 438.1 1395.5C439.6 1395.5 441.1 1395.5 442.6 1395.5C444.1 1395.6 445.5 1395.6 447 1395.6C448.5 1395.6 450 1395.6 451.5 1395.7C453 1395.7 454.5 1395.7 455.9 1395.7C457.4 1395.7 458.9 1395.8 460.4 1395.8C461.9 1395.8 463.4 1395.8 464.9 1395.8C466.3 1395.9 467.8 1395.9 469.3 1395.9C470.8 1395.9 472.3 1395.9 473.8 1396C475.3 1396 476.8 1396 478.2 1396C479.7 1396 481.2 1396.1 482.7 1396.1C484.2 1396.1 485.7 1396.1 487.2 1396.1C488.6 1396.2 490.1 1396.2 491.6 1396.2C493.1 1396.2 494.6 1396.2 496.1 1396.3C497.6 1396.3 499 1396.3 500.5 1396.3C502 1396.3 503.5 1396.4 505 1396.4C506.5 1396.4 508 1396.4 509.4 1396.4C510.9 1396.5 512.4 1396.5 513.9 1396.5C515.4 1396.5 516.9 1396.5 518.4 1396.6C519.8 1396.6 521.3 1396.6 522.8 1396.6C524.3 1396.6 525.8 1396.7 527.3 1396.7C528.8 1396.7 530.3 1396.7 531.7 1396.7C533.2 1396.7 534.7 1396.7 536.2 1396.7C537.7 1396.8 539.2 1396.8 540.7 1396.8C542.1 1396.8 543.6 1396.8 545.1 1396.8C546.6 1396.8 548.1 1396.8 549.6 1396.8C551.1 1396.9 552.5 1396.9 554 1396.9C555.5 1396.9 557 1396.9 558.5 1396.9C560 1396.9 561.5 1396.9 562.9 1397C564.4 1397 565.9 1397 567.4 1397C568.9 1397 570.4 1397 571.9 1397C573.4 1397 574.8 1397 576.3 1397.1C577.8 1397.1 579.3 1397.1 580.8 1397.1C582.3 1397.1 583.8 1397.1 585.2 1397.1C586.7 1397.1 588.2 1397.1 589.7 1397.2C591.2 1397.2 592.7 1397.2 594.2 1397.2C595.6 1397.2 597.1 1397.2 598.6 1397.2C600.1 1397.2 601.6 1397.2 603.1 1397.3C604.6 1397.3 606 1397.3 607.5 1397.3C609 1397.3 610.5 1397.3 612 1397.3C613.5 1397.3 615 1397.4 616.4 1397.4C617.9 1397.4 619.4 1397.4 620.9 1397.4C622.4 1397.4 623.9 1397.4 625.4 1397.4C626.9 1397.4 628.3 1397.5 629.8 1397.5C631.3 1397.5 632.8 1397.5 634.3 1397.5C635.8 1397.5 637.3 1397.5 638.7 1397.5C640.2 1397.5 641.7 1397.5 643.2 1397.6C644.7 1397.6 646.2 1397.6 647.7 1397.6C649.1 1397.6 650.6 1397.6 652.1 1397.6C653.6 1397.6 655.1 1397.6 656.6 1397.6C658.1 1397.6 659.5 1397.6 661 1397.6C662.5 1397.6 664 1397.7 665.5 1397.7C667 1397.7 668.5 1397.7 669.9 1397.7C671.4 1397.7 672.9 1397.7 674.4 1397.7C675.9 1397.7 677.4 1397.7 678.9 1397.7C680.4 1397.7 681.8 1397.7 683.3 1397.7C684.8 1397.8 686.3 1397.8 687.8 1397.8C689.3 1397.8 690.8 1397.8 692.2 1397.8C693.7 1397.8 695.2 1397.8 696.7 1397.8C698.2 1397.8 699.7 1397.8 701.2 1397.8C702.6 1397.8 704.1 1397.8 705.6 1397.9C707.1 1397.9 708.6 1397.9 710.1 1397.9C711.6 1397.9 713 1397.9 714.5 1397.9C716 1397.9 717.5 1397.9 719 1397.9C720.5 1397.9 722 1397.9 723.4 1397.9C724.9 1397.9 726.4 1398 727.9 1398C729.4 1398 730.9 1398 732.4 1398C733.9 1398 735.3 1398 736.8 1398C738.3 1398 739.8 1398 741.3 1398C742.8 1398 744.3 1398 745.7 1398C747.2 1398.1 749.5 1398.1 750.2 1398.1" stroke="#f27a80" stroke-width="4" fill="none" stroke-dasharray="7 10"/>
<path d="M206.3 1396.5C207 1396.4 209.2 1396.2 210.7 1396C212.2 1395.9 213.7 1395.7 215.2 1395.6C216.7 1395.4 218.2 1395.3 219.7 1395.1C221.1 1395 222.6 1394.8 224.1 1394.7C225.6 1394.5 227.1 1394.3 228.6 1394.1C230.1 1394 231.5 1393.8 233 1393.6C234.5 1393.4 236 1393.2 237.5 1393C239 1392.8 240.5 1392.7 241.9 1392.5C243.4 1392.3 244.9 1392.1 246.4 1391.9C247.9 1391.7 249.4 1391.6 250.9 1391.5C252.3 1391.3 253.8 1391.2 255.3 1391.1C256.8 1391 258.3 1390.8 259.8 1390.7C261.3 1390.6 262.7 1390.5 264.2 1390.3C265.7 1390.2 267.2 1390.1 268.7 1390C270.2 1389.9 271.7 1389.8 273.2 1389.7C274.6 1389.7 276.1 1389.6 277.6 1389.6C279.1 1389.5 280.6 1389.5 282.1 1389.5C283.6 1389.4 285 1389.3 286.5 1389.3C288 1389.3 289.5 1389.5 291 1389.6C292.5 1389.6 294 1389.7 295.4 1389.8C296.9 1389.9 298.4 1389.9 299.9 1390C301.4 1390.1 302.9 1390.1 304.4 1390.2C305.8 1390.3 307.3 1390.5 308.8 1390.6C310.3 1390.7 311.8 1390.9 313.3 1391C314.8 1391.1 316.2 1391.2 317.7 1391.4C319.2 1391.5 320.7 1391.6 322.2 1391.7C323.7 1391.9 325.2 1392 326.7 1392.1C328.1 1392.2 329.6 1392.3 331.1 1392.3C332.6 1392.4 334.1 1392.5 335.6 1392.6C337.1 1392.6 338.5 1392.7 340 1392.8C341.5 1392.9 343 1393 344.5 1393C346 1393.1 347.5 1393.2 348.9 1393.3C350.4 1393.3 351.9 1393.4 353.4 1393.5C354.9 1393.6 356.4 1393.7 357.9 1393.7C359.3 1393.8 360.8 1393.9 362.3 1394C363.8 1394 365.3 1394.1 366.8 1394.2C368.3 1394.3 369.7 1394.4 371.2 1394.4C372.7 1394.5 374.2 1394.5 375.7 1394.5C377.2 1394.6 378.7 1394.6 380.2 1394.7C381.6 1394.7 383.1 1394.7 384.6 1394.8C386.1 1394.8 387.6 1394.9 389.1 1394.9C390.6 1394.9 392 1395 393.5 1395C395 1395.1 396.5 1395.1 398 1395.1C399.5 1395.2 401 1395.2 402.4 1395.3C403.9 1395.3 405.4 1395.3 406.9 1395.4C408.4 1395.4 409.9 1395.5 411.4 1395.5C412.8 1395.5 414.3 1395.6 415.8 1395.6C417.3 1395.7 418.8 1395.7 420.3 1395.7C421.8 1395.7 423.3 1395.7 424.7 1395.7C426.2 1395.8 427.7 1395.8 429.2 1395.8C430.7 1395.8 432.2 1395.8 433.7 1395.8C435.1 1395.9 436.6 1395.9 438.1 1395.9C439.6 1395.9 441.1 1395.9 442.6 1395.9C444.1 1396 445.5 1396 447 1396C448.5 1396 450 1396 451.5 1396C453 1396.1 454.5 1396.1 455.9 1396.1C457.4 1396.1 458.9 1396.1 460.4 1396.2C461.9 1396.2 463.4 1396.2 464.9 1396.2C466.3 1396.2 467.8 1396.2 469.3 1396.3C470.8 1396.3 472.3 1396.3 473.8 1396.3C475.3 1396.3 476.8 1396.3 478.2 1396.4C479.7 1396.4 481.2 1396.4 482.7 1396.4C484.2 1396.4 485.7 1396.4 487.2 1396.5C488.6 1396.5 490.1 1396.5 491.6 1396.5C493.1 1396.5 494.6 1396.5 496.1 1396.6C497.6 1396.6 499 1396.6 500.5 1396.6C502 1396.6 503.5 1396.7 505 1396.7C506.5 1396.7 508 1396.7 509.4 1396.7C510.9 1396.7 512.4 1396.8 513.9 1396.8C515.4 1396.8 516.9 1396.8 518.4 1396.8C519.8 1396.8 521.3 1396.9 522.8 1396.9C524.3 1396.9 525.8 1396.9 527.3 1396.9C528.8 1396.9 530.3 1396.9 531.7 1397C533.2 1397 534.7 1397 536.2 1397C537.7 1397 539.2 1397 540.7 1397C542.1 1397 543.6 1397 545.1 1397C546.6 1397.1 548.1 1397.1 549.6 1397.1C551.1 1397.1 552.5 1397.1 554 1397.1C555.5 1397.1 557 1397.1 558.5 1397.1C560 1397.1 561.5 1397.2 562.9 1397.2C564.4 1397.2 565.9 1397.2 567.4 1397.2C568.9 1397.2 570.4 1397.2 571.9 1397.2C573.4 1397.2 574.8 1397.2 576.3 1397.3C577.8 1397.3 579.3 1397.3 580.8 1397.3C582.3 1397.3 583.8 1397.3 585.2 1397.3C586.7 1397.3 588.2 1397.3 589.7 1397.3C591.2 1397.4 592.7 1397.4 594.2 1397.4C595.6 1397.4 597.1 1397.4 598.6 1397.4C600.1 1397.4 601.6 1397.4 603.1 1397.4C604.6 1397.4 606 1397.5 607.5 1397.5C609 1397.5 610.5 1397.5 612 1397.5C613.5 1397.5 615 1397.5 616.4 1397.5C617.9 1397.5 619.4 1397.5 620.9 1397.6C622.4 1397.6 623.9 1397.6 625.4 1397.6C626.9 1397.6 628.3 1397.6 629.8 1397.6C631.3 1397.6 632.8 1397.6 634.3 1397.6C635.8 1397.7 637.3 1397.7 638.7 1397.7C640.2 1397.7 641.7 1397.7 643.2 1397.7C644.7 1397.7 646.2 1397.7 647.7 1397.7C649.1 1397.7 650.6 1397.7 652.1 1397.7C653.6 1397.7 655.1 1397.7 656.6 1397.7C658.1 1397.8 659.5 1397.8 661 1397.8C662.5 1397.8 664 1397.8 665.5 1397.8C667 1397.8 668.5 1397.8 669.9 1397.8C671.4 1397.8 672.9 1397.8 674.4 1397.8C675.9 1397.8 677.4 1397.8 678.9 1397.8C680.4 1397.8 681.8 1397.9 683.3 1397.9C684.8 1397.9 686.3 1397.9 687.8 1397.9C689.3 1397.9 690.8 1397.9 692.2 1397.9C693.7 1397.9 695.2 1397.9 696.7 1397.9C698.2 1397.9 699.7 1397.9 701.2 1397.9C702.6 1397.9 704.1 1397.9 705.6 1398C707.1 1398 708.6 1398 710.1 1398C711.6 1398 713 1398 714.5 1398C716 1398 717.5 1398 719 1398C720.5 1398 722 1398 723.4 1398C724.9 1398 726.4 1398 727.9 1398C729.4 1398 730.9 1398.1 732.4 1398.1C733.9 1398.1 735.3 1398.1 736.8 1398.1C738.3 1398.1 739.8 1398.1 741.3 1398.1C742.8 1398.1 744.3 1398.1 745.7 1398.1C747.2 1398.1 749.5 1398.1 750.2 1398.1" stroke="#f27a80" stroke-width="4" fill="none" stroke-dasharray="7 10"/>
<path d="M206.3 1396.8C207 1396.8 209.2 1396.6 210.7 1396.4C212.2 1396.3 213.7 1396.2 215.2 1396C216.7 1395.9 218.2 1395.8 219.7 1395.6C221.1 1395.5 222.6 1395.4 224.1 1395.2C225.6 1395.1 227.1 1395 228.6 1394.8C230.1 1394.7 231.5 1394.5 233 1394.3C234.5 1394.2 236 1394 237.5 1393.9C239 1393.7 240.5 1393.6 241.9 1393.4C243.4 1393.2 244.9 1393.1 246.4 1392.9C247.9 1392.8 249.4 1392.6 250.9 1392.5C252.3 1392.4 253.8 1392.3 255.3 1392.2C256.8 1392.1 258.3 1392 259.8 1391.9C261.3 1391.8 262.7 1391.7 264.2 1391.6C265.7 1391.5 267.2 1391.4 268.7 1391.3C270.2 1391.2 271.7 1391.1 273.2 1391.1C274.6 1391 276.1 1391 277.6 1390.9C279.1 1390.9 280.6 1390.9 282.1 1390.8C283.6 1390.8 285 1390.7 286.5 1390.7C288 1390.7 289.5 1390.8 291 1390.9C292.5 1391 294 1391 295.4 1391.1C296.9 1391.2 298.4 1391.2 299.9 1391.3C301.4 1391.4 302.9 1391.4 304.4 1391.5C305.8 1391.6 307.3 1391.7 308.8 1391.8C310.3 1391.9 311.8 1392 313.3 1392.1C314.8 1392.2 316.2 1392.3 317.7 1392.4C319.2 1392.6 320.7 1392.7 322.2 1392.8C323.7 1392.9 325.2 1393 326.7 1393.1C328.1 1393.2 329.6 1393.2 331.1 1393.3C332.6 1393.3 334.1 1393.4 335.6 1393.5C337.1 1393.5 338.5 1393.6 340 1393.7C341.5 1393.7 343 1393.8 344.5 1393.9C346 1393.9 347.5 1394 348.9 1394.1C350.4 1394.1 351.9 1394.2 353.4 1394.3C354.9 1394.3 356.4 1394.4 357.9 1394.5C359.3 1394.5 360.8 1394.6 362.3 1394.7C363.8 1394.7 365.3 1394.8 366.8 1394.9C368.3 1394.9 369.7 1395 371.2 1395.1C372.7 1395.1 374.2 1395.1 375.7 1395.2C377.2 1395.2 378.7 1395.2 380.2 1395.3C381.6 1395.3 383.1 1395.3 384.6 1395.4C386.1 1395.4 387.6 1395.4 389.1 1395.5C390.6 1395.5 392 1395.5 393.5 1395.6C395 1395.6 396.5 1395.6 398 1395.7C399.5 1395.7 401 1395.7 402.4 1395.8C403.9 1395.8 405.4 1395.8 406.9 1395.9C408.4 1395.9 409.9 1395.9 411.4 1396C412.8 1396 414.3 1396.1 415.8 1396.1C417.3 1396.1 418.8 1396.1 420.3 1396.1C421.8 1396.1 423.3 1396.1 424.7 1396.2C426.2 1396.2 427.7 1396.2 429.2 1396.2C430.7 1396.2 432.2 1396.2 433.7 1396.3C435.1 1396.3 436.6 1396.3 438.1 1396.3C439.6 1396.3 441.1 1396.3 442.6 1396.3C444.1 1396.4 445.5 1396.4 447 1396.4C448.5 1396.4 450 1396.4 451.5 1396.4C453 1396.4 454.5 1396.5 455.9 1396.5C457.4 1396.5 458.9 1396.5 460.4 1396.5C461.9 1396.5 463.4 1396.5 464.9 1396.6C466.3 1396.6 467.8 1396.6 469.3 1396.6C470.8 1396.6 472.3 1396.6 473.8 1396.7C475.3 1396.7 476.8 1396.7 478.2 1396.7C479.7 1396.7 481.2 1396.7 482.7 1396.7C484.2 1396.8 485.7 1396.8 487.2 1396.8C488.6 1396.8 490.1 1396.8 491.6 1396.8C493.1 1396.8 494.6 1396.9 496.1 1396.9C497.6 1396.9 499 1396.9 500.5 1396.9C502 1396.9 503.5 1396.9 505 1397C506.5 1397 508 1397 509.4 1397C510.9 1397 512.4 1397 513.9 1397C515.4 1397.1 516.9 1397.1 518.4 1397.1C519.8 1397.1 521.3 1397.1 522.8 1397.1C524.3 1397.2 525.8 1397.2 527.3 1397.2C528.8 1397.2 530.3 1397.2 531.7 1397.2C533.2 1397.2 534.7 1397.2 536.2 1397.2C537.7 1397.2 539.2 1397.2 540.7 1397.3C542.1 1397.3 543.6 1397.3 545.1 1397.3C546.6 1397.3 548.1 1397.3 549.6 1397.3C551.1 1397.3 552.5 1397.3 554 1397.3C555.5 1397.3 557 1397.3 558.5 1397.4C560 1397.4 561.5 1397.4 562.9 1397.4C564.4 1397.4 565.9 1397.4 567.4 1397.4C568.9 1397.4 570.4 1397.4 571.9 1397.4C573.4 1397.4 574.8 1397.4 576.3 1397.5C577.8 1397.5 579.3 1397.5 580.8 1397.5C582.3 1397.5 583.8 1397.5 585.2 1397.5C586.7 1397.5 588.2 1397.5 589.7 1397.5C591.2 1397.5 592.7 1397.6 594.2 1397.6C595.6 1397.6 597.1 1397.6 598.6 1397.6C600.1 1397.6 601.6 1397.6 603.1 1397.6C604.6 1397.6 606 1397.6 607.5 1397.6C609 1397.6 610.5 1397.7 612 1397.7C613.5 1397.7 615 1397.7 616.4 1397.7C617.9 1397.7 619.4 1397.7 620.9 1397.7C622.4 1397.7 623.9 1397.7 625.4 1397.7C626.9 1397.7 628.3 1397.8 629.8 1397.8C631.3 1397.8 632.8 1397.8 634.3 1397.8C635.8 1397.8 637.3 1397.8 638.7 1397.8C640.2 1397.8 641.7 1397.8 643.2 1397.8C644.7 1397.8 646.2 1397.8 647.7 1397.8C649.1 1397.8 650.6 1397.9 652.1 1397.9C653.6 1397.9 655.1 1397.9 656.6 1397.9C658.1 1397.9 659.5 1397.9 661 1397.9C662.5 1397.9 664 1397.9 665.5 1397.9C667 1397.9 668.5 1397.9 669.9 1397.9C671.4 1397.9 672.9 1397.9 674.4 1397.9C675.9 1397.9 677.4 1397.9 678.9 1398C680.4 1398 681.8 1398 683.3 1398C684.8 1398 686.3 1398 687.8 1398C689.3 1398 690.8 1398 692.2 1398C693.7 1398 695.2 1398 696.7 1398C698.2 1398 699.7 1398 701.2 1398C702.6 1398 704.1 1398 705.6 1398C707.1 1398.1 708.6 1398.1 710.1 1398.1C711.6 1398.1 713 1398.1 714.5 1398.1C716 1398.1 717.5 1398.1 719 1398.1C720.5 1398.1 722 1398.1 723.4 1398.1C724.9 1398.1 726.4 1398.1 727.9 1398.1C729.4 1398.1 730.9 1398.1 732.4 1398.1C733.9 1398.1 735.3 1398.2 736.8 1398.2C738.3 1398.2 739.8 1398.2 741.3 1398.2C742.8 1398.2 744.3 1398.2 745.7 1398.2C747.2 1398.2 749.5 1398.2 750.2 1398.2" stroke="#f27a80" stroke-width="4" fill="none" stroke-dasharray="7 10"/>
<path d="M206.3 1397.1C207 1397.1 209.2 1396.9 210.7 1396.8C212.2 1396.7 213.7 1396.6 215.2 1396.5C216.7 1396.4 218.2 1396.3 219.7 1396.2C221.1 1396.1 222.6 1396 224.1 1395.8C225.6 1395.7 227.1 1395.6 228.6 1395.5C230.1 1395.4 231.5 1395.2 233 1395.1C234.5 1395 236 1394.8 237.5 1394.7C239 1394.6 240.5 1394.4 241.9 1394.3C243.4 1394.2 244.9 1394 246.4 1393.9C247.9 1393.8 249.4 1393.7 250.9 1393.6C252.3 1393.5 253.8 1393.4 255.3 1393.3C256.8 1393.3 258.3 1393.2 259.8 1393.1C261.3 1393 262.7 1392.9 264.2 1392.8C265.7 1392.7 267.2 1392.6 268.7 1392.6C270.2 1392.5 271.7 1392.4 273.2 1392.4C274.6 1392.3 276.1 1392.3 277.6 1392.3C279.1 1392.3 280.6 1392.2 282.1 1392.2C283.6 1392.2 285 1392.1 286.5 1392.1C288 1392.1 289.5 1392.2 291 1392.3C292.5 1392.3 294 1392.4 295.4 1392.4C296.9 1392.5 298.4 1392.5 299.9 1392.6C301.4 1392.6 302.9 1392.7 304.4 1392.8C305.8 1392.8 307.3 1392.9 308.8 1393C310.3 1393.1 311.8 1393.2 313.3 1393.3C314.8 1393.4 316.2 1393.4 317.7 1393.5C319.2 1393.6 320.7 1393.7 322.2 1393.8C323.7 1393.9 325.2 1394 326.7 1394.1C328.1 1394.1 329.6 1394.2 331.1 1394.2C332.6 1394.3 334.1 1394.3 335.6 1394.4C337.1 1394.4 338.5 1394.5 340 1394.5C341.5 1394.6 343 1394.6 344.5 1394.7C346 1394.8 347.5 1394.8 348.9 1394.9C350.4 1394.9 351.9 1395 353.4 1395C354.9 1395.1 356.4 1395.1 357.9 1395.2C359.3 1395.2 360.8 1395.3 362.3 1395.4C363.8 1395.4 365.3 1395.5 366.8 1395.5C368.3 1395.6 369.7 1395.6 371.2 1395.7C372.7 1395.7 374.2 1395.7 375.7 1395.8C377.2 1395.8 378.7 1395.8 380.2 1395.8C381.6 1395.9 383.1 1395.9 384.6 1395.9C386.1 1396 387.6 1396 389.1 1396C390.6 1396 392 1396.1 393.5 1396.1C395 1396.1 396.5 1396.2 398 1396.2C399.5 1396.2 401 1396.2 402.4 1396.3C403.9 1396.3 405.4 1396.3 406.9 1396.4C408.4 1396.4 409.9 1396.4 411.4 1396.4C412.8 1396.5 414.3 1396.5 415.8 1396.5C417.3 1396.5 418.8 1396.5 420.3 1396.6C421.8 1396.6 423.3 1396.6 424.7 1396.6C426.2 1396.6 427.7 1396.6 429.2 1396.6C430.7 1396.6 432.2 1396.7 433.7 1396.7C435.1 1396.7 436.6 1396.7 438.1 1396.7C439.6 1396.7 441.1 1396.7 442.6 1396.7C444.1 1396.8 445.5 1396.8 447 1396.8C448.5 1396.8 450 1396.8 451.5 1396.8C453 1396.8 454.5 1396.8 455.9 1396.8C457.4 1396.9 458.9 1396.9 460.4 1396.9C461.9 1396.9 463.4 1396.9 464.9 1396.9C466.3 1396.9 467.8 1396.9 469.3 1397C470.8 1397 472.3 1397 473.8 1397C475.3 1397 476.8 1397 478.2 1397C479.7 1397 481.2 1397.1 482.7 1397.1C484.2 1397.1 485.7 1397.1 487.2 1397.1C488.6 1397.1 490.1 1397.1 491.6 1397.1C493.1 1397.2 494.6 1397.2 496.1 1397.2C497.6 1397.2 499 1397.2 500.5 1397.2C502 1397.2 503.5 1397.2 505 1397.2C506.5 1397.3 508 1397.3 509.4 1397.3C510.9 1397.3 512.4 1397.3 513.9 1397.3C515.4 1397.3 516.9 1397.3 518.4 1397.4C519.8 1397.4 521.3 1397.4 522.8 1397.4C524.3 1397.4 525.8 1397.4 527.3 1397.4C528.8 1397.4 530.3 1397.4 531.7 1397.5C533.2 1397.5 534.7 1397.5 536.2 1397.5C537.7 1397.5 539.2 1397.5 540.7 1397.5C542.1 1397.5 543.6 1397.5 545.1 1397.5C546.6 1397.5 548.1 1397.5 549.6 1397.5C551.1 1397.5 552.5 1397.5 554 1397.6C555.5 1397.6 557 1397.6 558.5 1397.6C560 1397.6 561.5 1397.6 562.9 1397.6C564.4 1397.6 565.9 1397.6 567.4 1397.6C568.9 1397.6 570.4 1397.6 571.9 1397.6C573.4 1397.6 574.8 1397.7 576.3 1397.7C577.8 1397.7 579.3 1397.7 580.8 1397.7C582.3 1397.7 583.8 1397.7 585.2 1397.7C586.7 1397.7 588.2 1397.7 589.7 1397.7C591.2 1397.7 592.7 1397.7 594.2 1397.7C595.6 1397.7 597.1 1397.8 598.6 1397.8C600.1 1397.8 601.6 1397.8 603.1 1397.8C604.6 1397.8 606 1397.8 607.5 1397.8C609 1397.8 610.5 1397.8 612 1397.8C613.5 1397.8 615 1397.8 616.4 1397.8C617.9 1397.9 619.4 1397.9 620.9 1397.9C622.4 1397.9 623.9 1397.9 625.4 1397.9C626.9 1397.9 628.3 1397.9 629.8 1397.9C631.3 1397.9 632.8 1397.9 634.3 1397.9C635.8 1397.9 637.3 1397.9 638.7 1398C640.2 1398 641.7 1398 643.2 1398C644.7 1398 646.2 1398 647.7 1398C649.1 1398 650.6 1398 652.1 1398C653.6 1398 655.1 1398 656.6 1398C658.1 1398 659.5 1398 661 1398C662.5 1398 664 1398 665.5 1398C667 1398 668.5 1398 669.9 1398C671.4 1398 672.9 1398.1 674.4 1398.1C675.9 1398.1 677.4 1398.1 678.9 1398.1C680.4 1398.1 681.8 1398.1 683.3 1398.1C684.8 1398.1 686.3 1398.1 687.8 1398.1C689.3 1398.1 690.8 1398.1 692.2 1398.1C693.7 1398.1 695.2 1398.1 696.7 1398.1C698.2 1398.1 699.7 1398.1 701.2 1398.1C702.6 1398.1 704.1 1398.1 705.6 1398.1C707.1 1398.1 708.6 1398.2 710.1 1398.2C711.6 1398.2 713 1398.2 714.5 1398.2C716 1398.2 717.5 1398.2 719 1398.2C720.5 1398.2 722 1398.2 723.4 1398.2C724.9 1398.2 726.4 1398.2 727.9 1398.2C729.4 1398.2 730.9 1398.2 732.4 1398.2C733.9 1398.2 735.3 1398.2 736.8 1398.2C738.3 1398.2 739.8 1398.2 741.3 1398.2C742.8 1398.3 744.3 1398.3 745.7 1398.3C747.2 1398.3 749.5 1398.3 750.2 1398.3" stroke="#f27a80" stroke-width="4" fill="none" stroke-dasharray="7 10"/>
<path d="M206.3 1397.5C207 1397.4 209.2 1397.3 210.7 1397.2C212.2 1397.1 213.7 1397 215.2 1396.9C216.7 1396.9 218.2 1396.8 219.7 1396.7C221.1 1396.6 222.6 1396.5 224.1 1396.4C225.6 1396.3 227.1 1396.2 228.6 1396.2C230.1 1396.1 231.5 1395.9 233 1395.8C234.5 1395.7 236 1395.6 237.5 1395.5C239 1395.4 240.5 1395.3 241.9 1395.2C243.4 1395.1 244.9 1395 246.4 1394.9C247.9 1394.8 249.4 1394.7 250.9 1394.7C252.3 1394.6 253.8 1394.5 255.3 1394.5C256.8 1394.4 258.3 1394.3 259.8 1394.3C261.3 1394.2 262.7 1394.1 264.2 1394.1C265.7 1394 267.2 1393.9 268.7 1393.9C270.2 1393.8 271.7 1393.7 273.2 1393.7C274.6 1393.7 276.1 1393.7 277.6 1393.6C279.1 1393.6 280.6 1393.6 282.1 1393.6C283.6 1393.5 285 1393.5 286.5 1393.5C288 1393.5 289.5 1393.6 291 1393.6C292.5 1393.7 294 1393.7 295.4 1393.8C296.9 1393.8 298.4 1393.8 299.9 1393.9C301.4 1393.9 302.9 1394 304.4 1394C305.8 1394.1 307.3 1394.1 308.8 1394.2C310.3 1394.3 311.8 1394.3 313.3 1394.4C314.8 1394.5 316.2 1394.6 317.7 1394.6C319.2 1394.7 320.7 1394.8 322.2 1394.8C323.7 1394.9 325.2 1395 326.7 1395C328.1 1395.1 329.6 1395.1 331.1 1395.2C332.6 1395.2 334.1 1395.2 335.6 1395.3C337.1 1395.3 338.5 1395.4 340 1395.4C341.5 1395.5 343 1395.5 344.5 1395.5C346 1395.6 347.5 1395.6 348.9 1395.7C350.4 1395.7 351.9 1395.8 353.4 1395.8C354.9 1395.8 356.4 1395.9 357.9 1395.9C359.3 1396 360.8 1396 362.3 1396C363.8 1396.1 365.3 1396.1 366.8 1396.2C368.3 1396.2 369.7 1396.3 371.2 1396.3C372.7 1396.3 374.2 1396.3 375.7 1396.4C377.2 1396.4 378.7 1396.4 380.2 1396.4C381.6 1396.5 383.1 1396.5 384.6 1396.5C386.1 1396.5 387.6 1396.5 389.1 1396.6C390.6 1396.6 392 1396.6 393.5 1396.6C395 1396.7 396.5 1396.7 398 1396.7C399.5 1396.7 401 1396.7 402.4 1396.8C403.9 1396.8 405.4 1396.8 406.9 1396.8C408.4 1396.9 409.9 1396.9 411.4 1396.9C412.8 1396.9 414.3 1397 415.8 1397C417.3 1397 418.8 1397 420.3 1397C421.8 1397 423.3 1397 424.7 1397C426.2 1397 427.7 1397 429.2 1397.1C430.7 1397.1 432.2 1397.1 433.7 1397.1C435.1 1397.1 436.6 1397.1 438.1 1397.1C439.6 1397.1 441.1 1397.1 442.6 1397.1C444.1 1397.1 445.5 1397.2 447 1397.2C448.5 1397.2 450 1397.2 451.5 1397.2C453 1397.2 454.5 1397.2 455.9 1397.2C457.4 1397.2 458.9 1397.2 460.4 1397.3C461.9 1397.3 463.4 1397.3 464.9 1397.3C466.3 1397.3 467.8 1397.3 469.3 1397.3C470.8 1397.3 472.3 1397.3 473.8 1397.3C475.3 1397.3 476.8 1397.4 478.2 1397.4C479.7 1397.4 481.2 1397.4 482.7 1397.4C484.2 1397.4 485.7 1397.4 487.2 1397.4C488.6 1397.4 490.1 1397.4 491.6 1397.5C493.1 1397.5 494.6 1397.5 496.1 1397.5C497.6 1397.5 499 1397.5 500.5 1397.5C502 1397.5 503.5 1397.5 505 1397.5C506.5 1397.5 508 1397.6 509.4 1397.6C510.9 1397.6 512.4 1397.6 513.9 1397.6C515.4 1397.6 516.9 1397.6 518.4 1397.6C519.8 1397.6 521.3 1397.6 522.8 1397.7C524.3 1397.7 525.8 1397.7 527.3 1397.7C528.8 1397.7 530.3 1397.7 531.7 1397.7C533.2 1397.7 534.7 1397.7 536.2 1397.7C537.7 1397.7 539.2 1397.7 540.7 1397.7C542.1 1397.7 543.6 1397.7 545.1 1397.7C546.6 1397.8 548.1 1397.8 549.6 1397.8C551.1 1397.8 552.5 1397.8 554 1397.8C555.5 1397.8 557 1397.8 558.5 1397.8C560 1397.8 561.5 1397.8 562.9 1397.8C564.4 1397.8 565.9 1397.8 567.4 1397.8C568.9 1397.8 570.4 1397.8 571.9 1397.8C573.4 1397.9 574.8 1397.9 576.3 1397.9C577.8 1397.9 579.3 1397.9 580.8 1397.9C582.3 1397.9 583.8 1397.9 585.2 1397.9C586.7 1397.9 588.2 1397.9 589.7 1397.9C591.2 1397.9 592.7 1397.9 594.2 1397.9C595.6 1397.9 597.1 1397.9 598.6 1397.9C600.1 1397.9 601.6 1398 603.1 1398C604.6 1398 606 1398 607.5 1398C609 1398 610.5 1398 612 1398C613.5 1398 615 1398 616.4 1398C617.9 1398 619.4 1398 620.9 1398C622.4 1398 623.9 1398 625.4 1398C626.9 1398 628.3 1398.1 629.8 1398.1C631.3 1398.1 632.8 1398.1 634.3 1398.1C635.8 1398.1 637.3 1398.1 638.7 1398.1C640.2 1398.1 641.7 1398.1 643.2 1398.1C644.7 1398.1 646.2 1398.1 647.7 1398.1C649.1 1398.1 650.6 1398.1 652.1 1398.1C653.6 1398.1 655.1 1398.1 656.6 1398.1C658.1 1398.1 659.5 1398.1 661 1398.1C662.5 1398.1 664 1398.1 665.5 1398.2C667 1398.2 668.5 1398.2 669.9 1398.2C671.4 1398.2 672.9 1398.2 674.4 1398.2C675.9 1398.2 677.4 1398.2 678.9 1398.2C680.4 1398.2 681.8 1398.2 683.3 1398.2C684.8 1398.2 686.3 1398.2 687.8 1398.2C689.3 1398.2 690.8 1398.2 692.2 1398.2C693.7 1398.2 695.2 1398.2 696.7 1398.2C698.2 1398.2 699.7 1398.2 701.2 1398.2C702.6 1398.2 704.1 1398.2 705.6 1398.2C707.1 1398.2 708.6 1398.2 710.1 1398.3C711.6 1398.3 713 1398.3 714.5 1398.3C716 1398.3 717.5 1398.3 719 1398.3C720.5 1398.3 722 1398.3 723.4 1398.3C724.9 1398.3 726.4 1398.3 727.9 1398.3C729.4 1398.3 730.9 1398.3 732.4 1398.3C733.9 1398.3 735.3 1398.3 736.8 1398.3C738.3 1398.3 739.8 1398.3 741.3 1398.3C742.8 1398.3 744.3 1398.3 745.7 1398.3C747.2 1398.3 749.5 1398.3 750.2 1398.3" stroke="#f27a80" stroke-width="4" fill="none" stroke-dasharray="7 10"/>
<path d="M206.3 1397.8C207 1397.7 209.2 1397.6 210.7 1397.6C212.2 1397.5 213.7 1397.5 215.2 1397.4C216.7 1397.3 218.2 1397.3 219.7 1397.2C221.1 1397.1 222.6 1397.1 224.1 1397C225.6 1397 227.1 1396.9 228.6 1396.8C230.1 1396.7 231.5 1396.7 233 1396.6C234.5 1396.5 236 1396.4 237.5 1396.4C239 1396.3 240.5 1396.2 241.9 1396.2C243.4 1396.1 244.9 1396 246.4 1395.9C247.9 1395.9 249.4 1395.8 250.9 1395.7C252.3 1395.7 253.8 1395.6 255.3 1395.6C256.8 1395.5 258.3 1395.5 259.8 1395.4C261.3 1395.4 262.7 1395.3 264.2 1395.3C265.7 1395.2 267.2 1395.2 268.7 1395.1C270.2 1395.1 271.7 1395.1 273.2 1395C274.6 1395 276.1 1395 277.6 1395C279.1 1395 280.6 1395 282.1 1394.9C283.6 1394.9 285 1394.9 286.5 1394.9C288 1394.9 289.5 1394.9 291 1395C292.5 1395 294 1395 295.4 1395.1C296.9 1395.1 298.4 1395.1 299.9 1395.2C301.4 1395.2 302.9 1395.2 304.4 1395.3C305.8 1395.3 307.3 1395.4 308.8 1395.4C310.3 1395.5 311.8 1395.5 313.3 1395.6C314.8 1395.6 316.2 1395.7 317.7 1395.7C319.2 1395.8 320.7 1395.8 322.2 1395.9C323.7 1395.9 325.2 1396 326.7 1396C328.1 1396 329.6 1396.1 331.1 1396.1C332.6 1396.1 334.1 1396.2 335.6 1396.2C337.1 1396.2 338.5 1396.2 340 1396.3C341.5 1396.3 343 1396.3 344.5 1396.4C346 1396.4 347.5 1396.4 348.9 1396.5C350.4 1396.5 351.9 1396.5 353.4 1396.6C354.9 1396.6 356.4 1396.6 357.9 1396.7C359.3 1396.7 360.8 1396.7 362.3 1396.7C363.8 1396.8 365.3 1396.8 366.8 1396.8C368.3 1396.9 369.7 1396.9 371.2 1396.9C372.7 1397 374.2 1397 375.7 1397C377.2 1397 378.7 1397 380.2 1397C381.6 1397 383.1 1397.1 384.6 1397.1C386.1 1397.1 387.6 1397.1 389.1 1397.1C390.6 1397.1 392 1397.2 393.5 1397.2C395 1397.2 396.5 1397.2 398 1397.2C399.5 1397.2 401 1397.3 402.4 1397.3C403.9 1397.3 405.4 1397.3 406.9 1397.3C408.4 1397.3 409.9 1397.3 411.4 1397.4C412.8 1397.4 414.3 1397.4 415.8 1397.4C417.3 1397.4 418.8 1397.4 420.3 1397.4C421.8 1397.4 423.3 1397.4 424.7 1397.5C426.2 1397.5 427.7 1397.5 429.2 1397.5C430.7 1397.5 432.2 1397.5 433.7 1397.5C435.1 1397.5 436.6 1397.5 438.1 1397.5C439.6 1397.5 441.1 1397.5 442.6 1397.5C444.1 1397.5 445.5 1397.6 447 1397.6C448.5 1397.6 450 1397.6 451.5 1397.6C453 1397.6 454.5 1397.6 455.9 1397.6C457.4 1397.6 458.9 1397.6 460.4 1397.6C461.9 1397.6 463.4 1397.6 464.9 1397.6C466.3 1397.6 467.8 1397.7 469.3 1397.7C470.8 1397.7 472.3 1397.7 473.8 1397.7C475.3 1397.7 476.8 1397.7 478.2 1397.7C479.7 1397.7 481.2 1397.7 482.7 1397.7C484.2 1397.7 485.7 1397.7 487.2 1397.7C488.6 1397.8 490.1 1397.8 491.6 1397.8C493.1 1397.8 494.6 1397.8 496.1 1397.8C497.6 1397.8 499 1397.8 500.5 1397.8C502 1397.8 503.5 1397.8 505 1397.8C506.5 1397.8 508 1397.8 509.4 1397.8C510.9 1397.9 512.4 1397.9 513.9 1397.9C515.4 1397.9 516.9 1397.9 518.4 1397.9C519.8 1397.9 521.3 1397.9 522.8 1397.9C524.3 1397.9 525.8 1397.9 527.3 1397.9C528.8 1397.9 530.3 1397.9 531.7 1397.9C533.2 1397.9 534.7 1398 536.2 1398C537.7 1398 539.2 1398 540.7 1398C542.1 1398 543.6 1398 545.1 1398C546.6 1398 548.1 1398 549.6 1398C551.1 1398 552.5 1398 554 1398C555.5 1398 557 1398 558.5 1398C560 1398 561.5 1398 562.9 1398C564.4 1398 565.9 1398 567.4 1398C568.9 1398 570.4 1398 571.9 1398.1C573.4 1398.1 574.8 1398.1 576.3 1398.1C577.8 1398.1 579.3 1398.1 580.8 1398.1C582.3 1398.1 583.8 1398.1 585.2 1398.1C586.7 1398.1 588.2 1398.1 589.7 1398.1C591.2 1398.1 592.7 1398.1 594.2 1398.1C595.6 1398.1 597.1 1398.1 598.6 1398.1C600.1 1398.1 601.6 1398.1 603.1 1398.1C604.6 1398.1 606 1398.1 607.5 1398.1C609 1398.1 610.5 1398.2 612 1398.2C613.5 1398.2 615 1398.2 616.4 1398.2C617.9 1398.2 619.4 1398.2 620.9 1398.2C622.4 1398.2 623.9 1398.2 625.4 1398.2C626.9 1398.2 628.3 1398.2 629.8 1398.2C631.3 1398.2 632.8 1398.2 634.3 1398.2C635.8 1398.2 637.3 1398.2 638.7 1398.2C640.2 1398.2 641.7 1398.2 643.2 1398.2C644.7 1398.2 646.2 1398.2 647.7 1398.2C649.1 1398.2 650.6 1398.2 652.1 1398.3C653.6 1398.3 655.1 1398.3 656.6 1398.3C658.1 1398.3 659.5 1398.3 661 1398.3C662.5 1398.3 664 1398.3 665.5 1398.3C667 1398.3 668.5 1398.3 669.9 1398.3C671.4 1398.3 672.9 1398.3 674.4 1398.3C675.9 1398.3 677.4 1398.3 678.9 1398.3C680.4 1398.3 681.8 1398.3 683.3 1398.3C684.8 1398.3 686.3 1398.3 687.8 1398.3C689.3 1398.3 690.8 1398.3 692.2 1398.3C693.7 1398.3 695.2 1398.3 696.7 1398.3C698.2 1398.3 699.7 1398.3 701.2 1398.3C702.6 1398.3 704.1 1398.3 705.6 1398.3C707.1 1398.3 708.6 1398.3 710.1 1398.3C711.6 1398.4 713 1398.4 714.5 1398.4C716 1398.4 717.5 1398.4 719 1398.4C720.5 1398.4 722 1398.4 723.4 1398.4C724.9 1398.4 726.4 1398.4 727.9 1398.4C729.4 1398.4 730.9 1398.4 732.4 1398.4C733.9 1398.4 735.3 1398.4 736.8 1398.4C738.3 1398.4 739.8 1398.4 741.3 1398.4C742.8 1398.4 744.3 1398.4 745.7 1398.4C747.2 1398.4 749.5 1398.4 750.2 1398.4" stroke="#f27a80" stroke-width="4" fill="none" stroke-dasharray="7 10"/>
</g>
<path d="M204.5 1389.6L219.5 1391.9 225.5 1392.4 231.5 1392.4 237.5 1391.9 243 1391 247.5 1389.6 251 1387.9 254.5 1385.4 257.5 1382.6 260.5 1379 263.5 1374.5 266.5 1368.9 269 1363.4 274 1349.6 278.5 1333.6 283.5 1311.8 289 1283.8 295 1249.9 308 1168.9 332 1007.9 337.5 974 342.5 946.3 348.5 918.5 351.5 907.4 354 899.7 357 892.5 359.5 888.3 362 885.7 363.5 885 364.5 884.9 366.5 885.5 368 886.7 369.5 888.6 371.5 892.1 375.5 902 380 916.6 384.5 933.7 391.5 962.5 416 1069.8 425.5 1108.7 432 1133 438.5 1155.5 446 1179.8 454.5 1205.6 469.5 1248.4 475 1262.3 480.5 1274.7 488.5 1290.5 500.5 1311.7 509 1325.6 516.5 1336.4 524.5 1346.2 533.5 1355.8 543 1364.7 552 1372 560.5 1377.7 569.5 1382.5 578.5 1386.2 588.5 1389.3 597 1391.2 606 1392.7 615 1393.8 624.5 1394.5 704 1396.5 749 1397.1" stroke="#f27a80" stroke-width="3.4" fill="none" stroke-linejoin="round"/>
<path d="M1845.1 1389.3L1860.1 1391.7 1866.1 1392.2 1872.1 1392.2 1878.1 1391.7 1883.6 1390.7 1888.1 1389.3 1891.5 1387.5 1895 1385 1898 1382.1 1901 1378.4 1904 1373.7 1907 1368 1909.5 1362.2 1914.5 1348 1919 1331.5 1924 1309 1929.5 1280.1 1935.5 1245.1 1948.5 1161.5 1972.5 995.2 1978 960.3 1983 931.6 1989 903 1992 891.5 1994.5 883.6 1997.5 876.2 2000 871.8 2002.4 869.2 2003.9 868.4 2004.9 868.3 2006.9 868.9 2008.4 870.2 2009.9 872.2 2011.9 875.8 2015.9 885.9 2020.4 901 2024.9 918.7 2031.9 948.4 2056.4 1059.1 2065.9 1099.4 2072.4 1124.4 2078.9 1147.6 2086.4 1172.7 2094.9 1199.4 2109.9 1243.5 2115.3 1257.9 2120.8 1270.7 2128.8 1287 2140.8 1308.9 2149.3 1323.2 2156.8 1334.4 2164.8 1344.5 2173.8 1354.4 2183.3 1363.6 2192.3 1371.1 2200.8 1377 2209.8 1382 2218.8 1385.8 2228.7 1389 2237.2 1391 2246.2 1392.5 2255.2 1393.6 2264.7 1394.4 2344.1 1396.5 2389.1 1397" stroke="#f27a80" stroke-width="3.6" fill="none" stroke-linejoin="round" stroke-dasharray="3.6 5"/>
<path d="M1880 1398.2L1898 1398 1908.2 1397.6 1914.5 1396.7 1918.9 1395.1 1921.3 1393.5 1923.9 1391.2 1926.6 1388.1 1929.2 1384.4 1932.9 1377.3 1935.7 1368.3 1940.1 1347.6 1943.7 1325.4 1958.9 1203.9 1978 1016.9 1981.8 986.1 1988.5 940.6 1991.5 923.8 1994.8 908.2 1998 895.6 2001.7 884 2004.2 878 2007.1 873.5 2010.3 870.7 2012.3 869.9 2014 869.7 2017 870.4 2020.1 872.4 2023.1 875.6 2026 880.3 2028.9 886.2 2031.8 893.6 2034.8 902.6 2038 913.7 2044 937 2050.5 965.7 2072.4 1074.5 2088.9 1142.6 2096.5 1171.1 2101.8 1188.8 2121.1 1246.1 2125.7 1258.3 2130.8 1270.8 2138.9 1289.1 2148.3 1308.4 2155.4 1321 2162.8 1332.3 2167.6 1338.7 2172.5 1344.4 2191.9 1364.7 2199.2 1371.5 2206.4 1376.9 2213.3 1381 2220.5 1384.3 2228.6 1387 2240.2 1389.8 2254.5 1392.2 2268.9 1393.9 2287.4 1395.4 2300.4 1396 2327.4 1396.5 2388.9 1397" stroke="#f27a80" stroke-width="3.6" fill="none" stroke-linejoin="round"/>
<clipPath id="clipe"><rect x="193.9" y="1639.2" width="555.3" height="556.4"/></clipPath>
<g clip-path="url(#clipe)">
<path d="M206.3 2195.6C207 2195.6 209.2 2195.6 210.7 2195.6C212.2 2195.6 213.7 2196 215.2 2195.6C216.7 2195.2 218.2 2194.1 219.7 2193.3C221.1 2192.5 222.6 2191.7 224.1 2191C225.6 2190.2 227.1 2189.4 228.6 2188.7C230.1 2187.9 231.5 2187.1 233 2186.3C234.5 2185.6 236 2185.2 237.5 2184C239 2182.9 240.5 2180.9 241.9 2179.4C243.4 2177.9 244.9 2176.3 246.4 2174.8C247.9 2173.2 249.4 2171.7 250.9 2170.1C252.3 2168.6 253.8 2167.1 255.3 2165.5C256.8 2164 258.3 2162.3 259.8 2160.9C261.3 2159.5 262.7 2158.3 264.2 2157.1C265.7 2155.8 267.2 2154.5 268.7 2153.2C270.2 2152 271.7 2150.7 273.2 2149.4C274.6 2148.2 276.1 2146.9 277.6 2145.6C279.1 2144.3 280.6 2142.6 282.1 2141.8C283.6 2141 285 2141.1 286.5 2140.8C288 2140.4 289.5 2140.1 291 2139.8C292.5 2139.4 294 2139.1 295.4 2138.7C296.9 2138.4 298.4 2137.8 299.9 2137.7C301.4 2137.7 302.9 2138.1 304.4 2138.3C305.8 2138.5 307.3 2138.7 308.8 2138.9C310.3 2139.1 311.8 2139.3 313.3 2139.5C314.8 2139.7 316.2 2139.7 317.7 2140.1C319.2 2140.4 320.7 2141 322.2 2141.5C323.7 2142 325.2 2142.5 326.7 2143C328.1 2143.5 329.6 2144 331.1 2144.5C332.6 2145 334.1 2145.5 335.6 2145.9C337.1 2146.4 338.5 2147 340 2147.4C341.5 2147.9 343 2148.3 344.5 2148.7C346 2149.1 347.5 2149.4 348.9 2149.8C350.4 2150.1 351.9 2150.5 353.4 2150.8C354.9 2151.2 356.4 2151.5 357.9 2151.9C359.3 2152.2 360.8 2152.6 362.3 2153C363.8 2153.3 365.3 2153.7 366.8 2154C368.3 2154.4 369.7 2154.8 371.2 2155.1C372.7 2155.4 374.2 2155.5 375.7 2155.7C377.2 2155.9 378.7 2156.1 380.2 2156.3C381.6 2156.4 383.1 2156.6 384.6 2156.8C386.1 2157 387.6 2157.2 389.1 2157.4C390.6 2157.6 392 2157.8 393.5 2158C395 2158.2 396.5 2158.4 398 2158.6C399.5 2158.8 401 2159 402.4 2159.1C403.9 2159.3 405.4 2159.5 406.9 2159.7C408.4 2159.9 409.9 2160.1 411.4 2160.3C412.8 2160.5 414.3 2160.7 415.8 2160.9C417.3 2161.1 418.8 2161.3 420.3 2161.5C421.8 2161.7 423.3 2161.8 424.7 2162C426.2 2162.2 427.7 2162.4 429.2 2162.6C430.7 2162.8 432.2 2163 433.7 2163.2C435.1 2163.4 436.6 2163.6 438.1 2163.8C439.6 2164 441.1 2164.2 442.6 2164.4C444.1 2164.5 445.5 2164.7 447 2164.9C448.5 2165.1 450 2165.3 451.5 2165.5C453 2165.7 454.5 2165.9 455.9 2166.1C457.4 2166.3 458.9 2166.5 460.4 2166.7C461.9 2166.9 463.4 2167.1 464.9 2167.2C466.3 2167.4 467.8 2167.6 469.3 2167.8C470.8 2168 472.3 2168.2 473.8 2168.4C475.3 2168.6 476.8 2168.8 478.2 2169C479.7 2169.2 481.2 2169.4 482.7 2169.6C484.2 2169.7 485.7 2169.9 487.2 2170.1C488.6 2170.2 490.1 2170.4 491.6 2170.6C493.1 2170.7 494.6 2170.9 496.1 2171.1C497.6 2171.2 499 2171.4 500.5 2171.6C502 2171.7 503.5 2171.9 505 2172.1C506.5 2172.2 508 2172.4 509.4 2172.6C510.9 2172.7 512.4 2172.9 513.9 2173.1C515.4 2173.2 516.9 2173.4 518.4 2173.6C519.8 2173.7 521.3 2173.9 522.8 2174.1C524.3 2174.2 525.8 2174.4 527.3 2174.6C528.8 2174.7 530.3 2174.9 531.7 2175.1C533.2 2175.2 534.7 2175.4 536.2 2175.6C537.7 2175.7 539.2 2175.9 540.7 2176.1C542.1 2176.2 543.6 2176.4 545.1 2176.6C546.6 2176.7 548.1 2176.9 549.6 2177.1C551.1 2177.2 552.5 2177.4 554 2177.5C555.5 2177.7 557 2177.9 558.5 2178C560 2178.2 561.5 2178.3 562.9 2178.5C564.4 2178.6 565.9 2178.8 567.4 2178.9C568.9 2179.1 570.4 2179.2 571.9 2179.4C573.4 2179.6 574.8 2179.7 576.3 2179.9C577.8 2180 579.3 2180.2 580.8 2180.3C582.3 2180.5 583.8 2180.6 585.2 2180.8C586.7 2180.9 588.2 2181.1 589.7 2181.2C591.2 2181.4 592.7 2181.6 594.2 2181.7C595.6 2181.9 597.1 2182 598.6 2182.2C600.1 2182.3 601.6 2182.5 603.1 2182.6C604.6 2182.8 606 2182.9 607.5 2183.1C609 2183.3 610.5 2183.4 612 2183.6C613.5 2183.7 615 2183.9 616.4 2184C617.9 2184.2 619.4 2184.3 620.9 2184.5C622.4 2184.6 623.9 2184.8 625.4 2185C626.9 2185.1 628.3 2185.3 629.8 2185.4C631.3 2185.6 632.8 2185.7 634.3 2185.9C635.8 2186 637.3 2186.2 638.7 2186.3C640.2 2186.5 641.7 2186.5 643.2 2186.6C644.7 2186.6 646.2 2186.7 647.7 2186.8C649.1 2186.8 650.6 2186.9 652.1 2187C653.6 2187 655.1 2187.1 656.6 2187.2C658.1 2187.2 659.5 2187.3 661 2187.4C662.5 2187.5 664 2187.5 665.5 2187.6C667 2187.7 668.5 2187.7 669.9 2187.8C671.4 2187.9 672.9 2187.9 674.4 2188C675.9 2188.1 677.4 2188.1 678.9 2188.2C680.4 2188.3 681.8 2188.4 683.3 2188.4C684.8 2188.5 686.3 2188.6 687.8 2188.6C689.3 2188.7 690.8 2188.8 692.2 2188.8C693.7 2188.9 695.2 2189 696.7 2189C698.2 2189.1 699.7 2189.2 701.2 2189.3C702.6 2189.3 704.1 2189.4 705.6 2189.5C707.1 2189.5 708.6 2189.6 710.1 2189.7C711.6 2189.7 713 2189.8 714.5 2189.9C716 2190 717.5 2190 719 2190.1C720.5 2190.2 722 2190.2 723.4 2190.3C724.9 2190.4 726.4 2190.4 727.9 2190.5C729.4 2190.6 730.9 2190.6 732.4 2190.7C733.9 2190.8 735.3 2190.9 736.8 2190.9C738.3 2191 739.8 2191.1 741.3 2191.1C742.8 2191.2 744.3 2191.3 745.7 2191.3C747.2 2191.4 749.5 2191.5 750.2 2191.5" stroke="#f5a40e" stroke-width="3" fill="none" stroke-dasharray="7 10"/>
<path d="M206.3 2195.6C207 2195.6 209.2 2195.6 210.7 2195.6C212.2 2195.6 213.7 2195.8 215.2 2195.6C216.7 2195.4 218.2 2195.1 219.7 2194.5C221.1 2194 222.6 2193.1 224.1 2192.3C225.6 2191.6 227.1 2190.9 228.6 2190.1C230.1 2189.4 231.5 2188.7 233 2188C234.5 2187.2 236 2186.7 237.5 2185.8C239 2184.8 240.5 2183.4 241.9 2182.2C243.4 2181.1 244.9 2179.9 246.4 2178.7C247.9 2177.5 249.4 2176.4 250.9 2175.2C252.3 2174 253.8 2172.8 255.3 2171.6C256.8 2170.5 258.3 2169 259.8 2168.1C261.3 2167.2 262.7 2166.8 264.2 2166.1C265.7 2165.5 267.2 2164.8 268.7 2164.2C270.2 2163.5 271.7 2162.9 273.2 2162.2C274.6 2161.6 276.1 2160.9 277.6 2160.2C279.1 2159.6 280.6 2158.7 282.1 2158.3C283.6 2157.9 285 2158 286.5 2157.8C288 2157.6 289.5 2157.5 291 2157.3C292.5 2157.1 294 2157 295.4 2156.8C296.9 2156.6 298.4 2156.4 299.9 2156.3C301.4 2156.3 302.9 2156.4 304.4 2156.4C305.8 2156.5 307.3 2156.5 308.8 2156.6C310.3 2156.6 311.8 2156.7 313.3 2156.7C314.8 2156.8 316.2 2156.8 317.7 2156.8C319.2 2156.9 320.7 2156.9 322.2 2157C323.7 2157 325.2 2157 326.7 2157.1C328.1 2157.2 329.6 2157.5 331.1 2157.6C332.6 2157.8 334.1 2158 335.6 2158.1C337.1 2158.3 338.5 2158.5 340 2158.7C341.5 2158.8 343 2159 344.5 2159.2C346 2159.4 347.5 2159.5 348.9 2159.7C350.4 2159.9 351.9 2160.1 353.4 2160.2C354.9 2160.4 356.4 2160.6 357.9 2160.8C359.3 2160.9 360.8 2161.1 362.3 2161.2C363.8 2161.3 365.3 2161.4 366.8 2161.4C368.3 2161.5 369.7 2161.6 371.2 2161.7C372.7 2161.8 374.2 2161.9 375.7 2162C377.2 2162.1 378.7 2162.2 380.2 2162.3C381.6 2162.4 383.1 2162.5 384.6 2162.6C386.1 2162.6 387.6 2162.7 389.1 2162.8C390.6 2162.9 392 2163 393.5 2163.1C395 2163.2 396.5 2163.3 398 2163.4C399.5 2163.5 401 2163.7 402.4 2163.8C403.9 2164 405.4 2164.2 406.9 2164.3C408.4 2164.5 409.9 2164.6 411.4 2164.8C412.8 2164.9 414.3 2165.1 415.8 2165.2C417.3 2165.4 418.8 2165.5 420.3 2165.7C421.8 2165.9 423.3 2166 424.7 2166.2C426.2 2166.3 427.7 2166.5 429.2 2166.6C430.7 2166.8 432.2 2166.9 433.7 2167.1C435.1 2167.2 436.6 2167.4 438.1 2167.5C439.6 2167.6 441.1 2167.7 442.6 2167.8C444.1 2167.9 445.5 2168.1 447 2168.2C448.5 2168.3 450 2168.4 451.5 2168.5C453 2168.6 454.5 2168.7 455.9 2168.9C457.4 2169 458.9 2169.1 460.4 2169.2C461.9 2169.3 463.4 2169.4 464.9 2169.6C466.3 2169.7 467.8 2169.8 469.3 2169.9C470.8 2170 472.3 2170.1 473.8 2170.3C475.3 2170.4 476.8 2170.6 478.2 2170.7C479.7 2170.8 481.2 2171 482.7 2171.1C484.2 2171.2 485.7 2171.4 487.2 2171.5C488.6 2171.7 490.1 2171.8 491.6 2171.9C493.1 2172.1 494.6 2172.2 496.1 2172.4C497.6 2172.5 499 2172.6 500.5 2172.8C502 2172.9 503.5 2173 505 2173.2C506.5 2173.3 508 2173.5 509.4 2173.6C510.9 2173.7 512.4 2173.9 513.9 2174.1C515.4 2174.2 516.9 2174.4 518.4 2174.5C519.8 2174.7 521.3 2174.8 522.8 2175C524.3 2175.1 525.8 2175.3 527.3 2175.4C528.8 2175.6 530.3 2175.8 531.7 2175.9C533.2 2176.1 534.7 2176.2 536.2 2176.4C537.7 2176.5 539.2 2176.7 540.7 2176.8C542.1 2177 543.6 2177.1 545.1 2177.3C546.6 2177.5 548.1 2177.6 549.6 2177.8C551.1 2178 552.5 2178.2 554 2178.4C555.5 2178.6 557 2178.8 558.5 2179C560 2179.2 561.5 2179.4 562.9 2179.6C564.4 2179.8 565.9 2180 567.4 2180.2C568.9 2180.4 570.4 2180.6 571.9 2180.8C573.4 2181 574.8 2181.2 576.3 2181.4C577.8 2181.6 579.3 2181.8 580.8 2182C582.3 2182.2 583.8 2182.4 585.2 2182.6C586.7 2182.8 588.2 2183 589.7 2183.2C591.2 2183.4 592.7 2183.6 594.2 2183.8C595.6 2184 597.1 2184.1 598.6 2184.2C600.1 2184.4 601.6 2184.5 603.1 2184.7C604.6 2184.8 606 2185 607.5 2185.1C609 2185.3 610.5 2185.4 612 2185.5C613.5 2185.7 615 2185.8 616.4 2186C617.9 2186.1 619.4 2186.3 620.9 2186.4C622.4 2186.6 623.9 2186.7 625.4 2186.8C626.9 2187 628.3 2187.1 629.8 2187.3C631.3 2187.4 632.8 2187.6 634.3 2187.7C635.8 2187.8 637.3 2188 638.7 2188.1C640.2 2188.2 641.7 2188.3 643.2 2188.4C644.7 2188.4 646.2 2188.5 647.7 2188.6C649.1 2188.6 650.6 2188.7 652.1 2188.8C653.6 2188.9 655.1 2188.9 656.6 2189C658.1 2189.1 659.5 2189.2 661 2189.2C662.5 2189.3 664 2189.4 665.5 2189.5C667 2189.5 668.5 2189.6 669.9 2189.7C671.4 2189.7 672.9 2189.8 674.4 2189.9C675.9 2190 677.4 2190 678.9 2190.1C680.4 2190.2 681.8 2190.3 683.3 2190.3C684.8 2190.4 686.3 2190.5 687.8 2190.6C689.3 2190.6 690.8 2190.7 692.2 2190.8C693.7 2190.8 695.2 2190.9 696.7 2190.9C698.2 2191 699.7 2191 701.2 2191.1C702.6 2191.1 704.1 2191.2 705.6 2191.2C707.1 2191.2 708.6 2191.3 710.1 2191.3C711.6 2191.4 713 2191.4 714.5 2191.5C716 2191.5 717.5 2191.5 719 2191.6C720.5 2191.6 722 2191.7 723.4 2191.7C724.9 2191.7 726.4 2191.8 727.9 2191.8C729.4 2191.9 730.9 2191.9 732.4 2192C733.9 2192 735.3 2192 736.8 2192.1C738.3 2192.1 739.8 2192.2 741.3 2192.2C742.8 2192.2 744.3 2192.3 745.7 2192.3C747.2 2192.4 749.5 2192.4 750.2 2192.5" stroke="#f5a40e" stroke-width="4" fill="none" stroke-dasharray="7 10"/>
<path d="M206.3 2195.6C207 2195.6 209.2 2195.6 210.7 2195.6C212.2 2195.6 213.7 2195.8 215.2 2195.6C216.7 2195.4 218.2 2195.1 219.7 2194.6C221.1 2194 222.6 2193.2 224.1 2192.5C225.6 2191.8 227.1 2191.1 228.6 2190.4C230.1 2189.7 231.5 2189 233 2188.3C234.5 2187.6 236 2187.1 237.5 2186.2C239 2185.3 240.5 2183.9 241.9 2182.8C243.4 2181.7 244.9 2180.5 246.4 2179.4C247.9 2178.3 249.4 2177.1 250.9 2176C252.3 2174.9 253.8 2173.7 255.3 2172.6C256.8 2171.5 258.3 2170.1 259.8 2169.2C261.3 2168.3 262.7 2168 264.2 2167.3C265.7 2166.7 267.2 2166.1 268.7 2165.4C270.2 2164.8 271.7 2164.2 273.2 2163.6C274.6 2162.9 276.1 2162.3 277.6 2161.7C279.1 2161.1 280.6 2160.2 282.1 2159.8C283.6 2159.4 285 2159.5 286.5 2159.3C288 2159.2 289.5 2159 291 2158.9C292.5 2158.7 294 2158.5 295.4 2158.4C296.9 2158.2 298.4 2158 299.9 2157.9C301.4 2157.9 302.9 2158 304.4 2158C305.8 2158.1 307.3 2158.1 308.8 2158.2C310.3 2158.2 311.8 2158.2 313.3 2158.3C314.8 2158.3 316.2 2158.4 317.7 2158.4C319.2 2158.5 320.7 2158.5 322.2 2158.5C323.7 2158.6 325.2 2158.6 326.7 2158.7C328.1 2158.8 329.6 2159 331.1 2159.2C332.6 2159.3 334.1 2159.5 335.6 2159.7C337.1 2159.8 338.5 2160 340 2160.2C341.5 2160.3 343 2160.5 344.5 2160.7C346 2160.8 347.5 2161 348.9 2161.2C350.4 2161.3 351.9 2161.5 353.4 2161.7C354.9 2161.8 356.4 2162 357.9 2162.2C359.3 2162.3 360.8 2162.5 362.3 2162.6C363.8 2162.7 365.3 2162.7 366.8 2162.8C368.3 2162.9 369.7 2163 371.2 2163.1C372.7 2163.2 374.2 2163.3 375.7 2163.4C377.2 2163.5 378.7 2163.5 380.2 2163.6C381.6 2163.7 383.1 2163.8 384.6 2163.9C386.1 2164 387.6 2164.1 389.1 2164.2C390.6 2164.3 392 2164.3 393.5 2164.4C395 2164.5 396.5 2164.6 398 2164.7C399.5 2164.8 401 2165 402.4 2165.1C403.9 2165.3 405.4 2165.4 406.9 2165.6C408.4 2165.7 409.9 2165.9 411.4 2166C412.8 2166.2 414.3 2166.3 415.8 2166.5C417.3 2166.6 418.8 2166.8 420.3 2166.9C421.8 2167.1 423.3 2167.2 424.7 2167.4C426.2 2167.5 427.7 2167.6 429.2 2167.8C430.7 2167.9 432.2 2168.1 433.7 2168.2C435.1 2168.4 436.6 2168.5 438.1 2168.6C439.6 2168.7 441.1 2168.8 442.6 2169C444.1 2169.1 445.5 2169.2 447 2169.3C448.5 2169.4 450 2169.5 451.5 2169.6C453 2169.7 454.5 2169.8 455.9 2169.9C457.4 2170.1 458.9 2170.2 460.4 2170.3C461.9 2170.4 463.4 2170.5 464.9 2170.6C466.3 2170.7 467.8 2170.8 469.3 2170.9C470.8 2171.1 472.3 2171.2 473.8 2171.3C475.3 2171.4 476.8 2171.6 478.2 2171.7C479.7 2171.8 481.2 2172 482.7 2172.1C484.2 2172.2 485.7 2172.4 487.2 2172.5C488.6 2172.6 490.1 2172.8 491.6 2172.9C493.1 2173 494.6 2173.2 496.1 2173.3C497.6 2173.4 499 2173.6 500.5 2173.7C502 2173.8 503.5 2174 505 2174.1C506.5 2174.2 508 2174.4 509.4 2174.5C510.9 2174.6 512.4 2174.8 513.9 2174.9C515.4 2175.1 516.9 2175.2 518.4 2175.4C519.8 2175.5 521.3 2175.7 522.8 2175.8C524.3 2176 525.8 2176.1 527.3 2176.3C528.8 2176.4 530.3 2176.6 531.7 2176.7C533.2 2176.9 534.7 2177 536.2 2177.2C537.7 2177.3 539.2 2177.4 540.7 2177.6C542.1 2177.7 543.6 2177.9 545.1 2178C546.6 2178.2 548.1 2178.4 549.6 2178.5C551.1 2178.7 552.5 2178.9 554 2179.1C555.5 2179.3 557 2179.5 558.5 2179.7C560 2179.9 561.5 2180.1 562.9 2180.3C564.4 2180.5 565.9 2180.7 567.4 2180.8C568.9 2181 570.4 2181.2 571.9 2181.4C573.4 2181.6 574.8 2181.8 576.3 2182C577.8 2182.2 579.3 2182.4 580.8 2182.6C582.3 2182.8 583.8 2183 585.2 2183.1C586.7 2183.3 588.2 2183.5 589.7 2183.7C591.2 2183.9 592.7 2184.1 594.2 2184.3C595.6 2184.5 597.1 2184.6 598.6 2184.7C600.1 2184.8 601.6 2185 603.1 2185.1C604.6 2185.3 606 2185.4 607.5 2185.5C609 2185.7 610.5 2185.8 612 2186C613.5 2186.1 615 2186.2 616.4 2186.4C617.9 2186.5 619.4 2186.6 620.9 2186.8C622.4 2186.9 623.9 2187.1 625.4 2187.2C626.9 2187.3 628.3 2187.5 629.8 2187.6C631.3 2187.7 632.8 2187.9 634.3 2188C635.8 2188.2 637.3 2188.3 638.7 2188.4C640.2 2188.5 641.7 2188.6 643.2 2188.6C644.7 2188.7 646.2 2188.8 647.7 2188.9C649.1 2188.9 650.6 2189 652.1 2189.1C653.6 2189.1 655.1 2189.2 656.6 2189.3C658.1 2189.4 659.5 2189.4 661 2189.5C662.5 2189.6 664 2189.6 665.5 2189.7C667 2189.8 668.5 2189.8 669.9 2189.9C671.4 2190 672.9 2190.1 674.4 2190.1C675.9 2190.2 677.4 2190.3 678.9 2190.3C680.4 2190.4 681.8 2190.5 683.3 2190.5C684.8 2190.6 686.3 2190.7 687.8 2190.8C689.3 2190.8 690.8 2190.9 692.2 2191C693.7 2191 695.2 2191.1 696.7 2191.1C698.2 2191.2 699.7 2191.2 701.2 2191.3C702.6 2191.3 704.1 2191.3 705.6 2191.4C707.1 2191.4 708.6 2191.5 710.1 2191.5C711.6 2191.5 713 2191.6 714.5 2191.6C716 2191.7 717.5 2191.7 719 2191.7C720.5 2191.8 722 2191.8 723.4 2191.9C724.9 2191.9 726.4 2191.9 727.9 2192C729.4 2192 730.9 2192.1 732.4 2192.1C733.9 2192.1 735.3 2192.2 736.8 2192.2C738.3 2192.3 739.8 2192.3 741.3 2192.3C742.8 2192.4 744.3 2192.4 745.7 2192.5C747.2 2192.5 749.5 2192.6 750.2 2192.6" stroke="#f5a40e" stroke-width="4" fill="none" stroke-dasharray="7 10"/>
<path d="M206.3 2195.6C207 2195.6 209.2 2195.6 210.7 2195.6C212.2 2195.6 213.7 2195.8 215.2 2195.6C216.7 2195.4 218.2 2195.1 219.7 2194.6C221.1 2194.1 222.6 2193.3 224.1 2192.6C225.6 2191.9 227.1 2191.3 228.6 2190.6C230.1 2189.9 231.5 2189.2 233 2188.6C234.5 2187.9 236 2187.5 237.5 2186.6C239 2185.7 240.5 2184.4 241.9 2183.3C243.4 2182.2 244.9 2181.2 246.4 2180.1C247.9 2179 249.4 2177.9 250.9 2176.8C252.3 2175.7 253.8 2174.7 255.3 2173.6C256.8 2172.5 258.3 2171.2 259.8 2170.3C261.3 2169.5 262.7 2169.1 264.2 2168.5C265.7 2167.9 267.2 2167.3 268.7 2166.7C270.2 2166.1 271.7 2165.5 273.2 2164.9C274.6 2164.3 276.1 2163.7 277.6 2163.1C279.1 2162.5 280.6 2161.7 282.1 2161.3C283.6 2160.9 285 2161 286.5 2160.9C288 2160.7 289.5 2160.6 291 2160.4C292.5 2160.3 294 2160.1 295.4 2160C296.9 2159.8 298.4 2159.6 299.9 2159.5C301.4 2159.4 302.9 2159.6 304.4 2159.6C305.8 2159.7 307.3 2159.7 308.8 2159.7C310.3 2159.8 311.8 2159.8 313.3 2159.9C314.8 2159.9 316.2 2159.9 317.7 2160C319.2 2160 320.7 2160.1 322.2 2160.1C323.7 2160.1 325.2 2160.1 326.7 2160.2C328.1 2160.3 329.6 2160.5 331.1 2160.7C332.6 2160.9 334.1 2161 335.6 2161.2C337.1 2161.3 338.5 2161.5 340 2161.7C341.5 2161.8 343 2162 344.5 2162.1C346 2162.3 347.5 2162.5 348.9 2162.6C350.4 2162.8 351.9 2163 353.4 2163.1C354.9 2163.3 356.4 2163.5 357.9 2163.6C359.3 2163.7 360.8 2163.9 362.3 2164C363.8 2164.1 365.3 2164.1 366.8 2164.2C368.3 2164.3 369.7 2164.4 371.2 2164.5C372.7 2164.6 374.2 2164.6 375.7 2164.7C377.2 2164.8 378.7 2164.9 380.2 2165C381.6 2165.1 383.1 2165.2 384.6 2165.2C386.1 2165.3 387.6 2165.4 389.1 2165.5C390.6 2165.6 392 2165.7 393.5 2165.7C395 2165.8 396.5 2165.9 398 2166C399.5 2166.1 401 2166.3 402.4 2166.4C403.9 2166.6 405.4 2166.7 406.9 2166.8C408.4 2167 409.9 2167.1 411.4 2167.3C412.8 2167.4 414.3 2167.6 415.8 2167.7C417.3 2167.8 418.8 2168 420.3 2168.1C421.8 2168.3 423.3 2168.4 424.7 2168.5C426.2 2168.7 427.7 2168.8 429.2 2169C430.7 2169.1 432.2 2169.3 433.7 2169.4C435.1 2169.5 436.6 2169.7 438.1 2169.8C439.6 2169.9 441.1 2170 442.6 2170.1C444.1 2170.2 445.5 2170.3 447 2170.4C448.5 2170.5 450 2170.6 451.5 2170.7C453 2170.8 454.5 2170.9 455.9 2171C457.4 2171.1 458.9 2171.2 460.4 2171.3C461.9 2171.5 463.4 2171.6 464.9 2171.7C466.3 2171.8 467.8 2171.9 469.3 2172C470.8 2172.1 472.3 2172.2 473.8 2172.3C475.3 2172.4 476.8 2172.6 478.2 2172.7C479.7 2172.8 481.2 2173 482.7 2173.1C484.2 2173.2 485.7 2173.3 487.2 2173.5C488.6 2173.6 490.1 2173.7 491.6 2173.9C493.1 2174 494.6 2174.1 496.1 2174.2C497.6 2174.4 499 2174.5 500.5 2174.6C502 2174.7 503.5 2174.9 505 2175C506.5 2175.1 508 2175.3 509.4 2175.4C510.9 2175.5 512.4 2175.7 513.9 2175.8C515.4 2176 516.9 2176.1 518.4 2176.2C519.8 2176.4 521.3 2176.5 522.8 2176.7C524.3 2176.8 525.8 2176.9 527.3 2177.1C528.8 2177.2 530.3 2177.4 531.7 2177.5C533.2 2177.6 534.7 2177.8 536.2 2177.9C537.7 2178.1 539.2 2178.2 540.7 2178.4C542.1 2178.5 543.6 2178.6 545.1 2178.8C546.6 2178.9 548.1 2179.1 549.6 2179.3C551.1 2179.4 552.5 2179.6 554 2179.8C555.5 2180 557 2180.2 558.5 2180.4C560 2180.6 561.5 2180.7 562.9 2180.9C564.4 2181.1 565.9 2181.3 567.4 2181.5C568.9 2181.7 570.4 2181.8 571.9 2182C573.4 2182.2 574.8 2182.4 576.3 2182.6C577.8 2182.8 579.3 2182.9 580.8 2183.1C582.3 2183.3 583.8 2183.5 585.2 2183.7C586.7 2183.9 588.2 2184 589.7 2184.2C591.2 2184.4 592.7 2184.6 594.2 2184.8C595.6 2184.9 597.1 2185 598.6 2185.2C600.1 2185.3 601.6 2185.4 603.1 2185.6C604.6 2185.7 606 2185.8 607.5 2186C609 2186.1 610.5 2186.2 612 2186.4C613.5 2186.5 615 2186.6 616.4 2186.8C617.9 2186.9 619.4 2187 620.9 2187.2C622.4 2187.3 623.9 2187.4 625.4 2187.6C626.9 2187.7 628.3 2187.8 629.8 2187.9C631.3 2188.1 632.8 2188.2 634.3 2188.3C635.8 2188.5 637.3 2188.6 638.7 2188.7C640.2 2188.8 641.7 2188.9 643.2 2188.9C644.7 2189 646.2 2189.1 647.7 2189.1C649.1 2189.2 650.6 2189.3 652.1 2189.3C653.6 2189.4 655.1 2189.5 656.6 2189.5C658.1 2189.6 659.5 2189.7 661 2189.8C662.5 2189.8 664 2189.9 665.5 2190C667 2190 668.5 2190.1 669.9 2190.2C671.4 2190.2 672.9 2190.3 674.4 2190.4C675.9 2190.4 677.4 2190.5 678.9 2190.6C680.4 2190.6 681.8 2190.7 683.3 2190.8C684.8 2190.8 686.3 2190.9 687.8 2191C689.3 2191 690.8 2191.1 692.2 2191.2C693.7 2191.2 695.2 2191.3 696.7 2191.3C698.2 2191.4 699.7 2191.4 701.2 2191.4C702.6 2191.5 704.1 2191.5 705.6 2191.6C707.1 2191.6 708.6 2191.6 710.1 2191.7C711.6 2191.7 713 2191.7 714.5 2191.8C716 2191.8 717.5 2191.9 719 2191.9C720.5 2191.9 722 2192 723.4 2192C724.9 2192.1 726.4 2192.1 727.9 2192.1C729.4 2192.2 730.9 2192.2 732.4 2192.3C733.9 2192.3 735.3 2192.3 736.8 2192.4C738.3 2192.4 739.8 2192.4 741.3 2192.5C742.8 2192.5 744.3 2192.6 745.7 2192.6C747.2 2192.6 749.5 2192.7 750.2 2192.7" stroke="#f5a40e" stroke-width="4" fill="none" stroke-dasharray="7 10"/>
<path d="M206.3 2195.6C207 2195.6 209.2 2195.6 210.7 2195.6C212.2 2195.6 213.7 2195.8 215.2 2195.6C216.7 2195.4 218.2 2195.1 219.7 2194.6C221.1 2194.2 222.6 2193.4 224.1 2192.7C225.6 2192.1 227.1 2191.4 228.6 2190.8C230.1 2190.2 231.5 2189.5 233 2188.9C234.5 2188.3 236 2187.8 237.5 2187C239 2186.1 240.5 2184.9 241.9 2183.9C243.4 2182.8 244.9 2181.8 246.4 2180.8C247.9 2179.7 249.4 2178.7 250.9 2177.7C252.3 2176.6 253.8 2175.6 255.3 2174.6C256.8 2173.5 258.3 2172.3 259.8 2171.4C261.3 2170.6 262.7 2170.3 264.2 2169.7C265.7 2169.1 267.2 2168.6 268.7 2168C270.2 2167.4 271.7 2166.8 273.2 2166.3C274.6 2165.7 276.1 2165.1 277.6 2164.5C279.1 2164 280.6 2163.2 282.1 2162.8C283.6 2162.5 285 2162.5 286.5 2162.4C288 2162.2 289.5 2162.1 291 2162C292.5 2161.8 294 2161.7 295.4 2161.5C296.9 2161.4 298.4 2161.1 299.9 2161.1C301.4 2161 302.9 2161.2 304.4 2161.2C305.8 2161.2 307.3 2161.3 308.8 2161.3C310.3 2161.4 311.8 2161.4 313.3 2161.4C314.8 2161.5 316.2 2161.5 317.7 2161.6C319.2 2161.6 320.7 2161.6 322.2 2161.7C323.7 2161.7 325.2 2161.7 326.7 2161.8C328.1 2161.9 329.6 2162.1 331.1 2162.2C332.6 2162.4 334.1 2162.6 335.6 2162.7C337.1 2162.9 338.5 2163 340 2163.2C341.5 2163.3 343 2163.5 344.5 2163.6C346 2163.8 347.5 2163.9 348.9 2164.1C350.4 2164.2 351.9 2164.4 353.4 2164.5C354.9 2164.7 356.4 2164.9 357.9 2165C359.3 2165.1 360.8 2165.3 362.3 2165.4C363.8 2165.5 365.3 2165.5 366.8 2165.6C368.3 2165.7 369.7 2165.8 371.2 2165.8C372.7 2165.9 374.2 2166 375.7 2166.1C377.2 2166.2 378.7 2166.2 380.2 2166.3C381.6 2166.4 383.1 2166.5 384.6 2166.6C386.1 2166.7 387.6 2166.7 389.1 2166.8C390.6 2166.9 392 2167 393.5 2167.1C395 2167.1 396.5 2167.2 398 2167.3C399.5 2167.4 401 2167.6 402.4 2167.7C403.9 2167.8 405.4 2168 406.9 2168.1C408.4 2168.3 409.9 2168.4 411.4 2168.5C412.8 2168.7 414.3 2168.8 415.8 2168.9C417.3 2169.1 418.8 2169.2 420.3 2169.3C421.8 2169.5 423.3 2169.6 424.7 2169.7C426.2 2169.9 427.7 2170 429.2 2170.1C430.7 2170.3 432.2 2170.4 433.7 2170.6C435.1 2170.7 436.6 2170.8 438.1 2170.9C439.6 2171 441.1 2171.1 442.6 2171.2C444.1 2171.3 445.5 2171.4 447 2171.5C448.5 2171.6 450 2171.7 451.5 2171.8C453 2171.9 454.5 2172 455.9 2172.1C457.4 2172.2 458.9 2172.3 460.4 2172.4C461.9 2172.5 463.4 2172.6 464.9 2172.7C466.3 2172.8 467.8 2172.9 469.3 2173C470.8 2173.1 472.3 2173.2 473.8 2173.4C475.3 2173.5 476.8 2173.6 478.2 2173.7C479.7 2173.8 481.2 2174 482.7 2174.1C484.2 2174.2 485.7 2174.3 487.2 2174.5C488.6 2174.6 490.1 2174.7 491.6 2174.8C493.1 2174.9 494.6 2175.1 496.1 2175.2C497.6 2175.3 499 2175.4 500.5 2175.5C502 2175.7 503.5 2175.8 505 2175.9C506.5 2176 508 2176.1 509.4 2176.3C510.9 2176.4 512.4 2176.5 513.9 2176.7C515.4 2176.8 516.9 2177 518.4 2177.1C519.8 2177.2 521.3 2177.4 522.8 2177.5C524.3 2177.6 525.8 2177.8 527.3 2177.9C528.8 2178 530.3 2178.2 531.7 2178.3C533.2 2178.4 534.7 2178.6 536.2 2178.7C537.7 2178.8 539.2 2179 540.7 2179.1C542.1 2179.3 543.6 2179.4 545.1 2179.5C546.6 2179.7 548.1 2179.8 549.6 2180C551.1 2180.2 552.5 2180.3 554 2180.5C555.5 2180.7 557 2180.9 558.5 2181C560 2181.2 561.5 2181.4 562.9 2181.6C564.4 2181.7 565.9 2181.9 567.4 2182.1C568.9 2182.3 570.4 2182.4 571.9 2182.6C573.4 2182.8 574.8 2183 576.3 2183.1C577.8 2183.3 579.3 2183.5 580.8 2183.7C582.3 2183.8 583.8 2184 585.2 2184.2C586.7 2184.4 588.2 2184.5 589.7 2184.7C591.2 2184.9 592.7 2185.1 594.2 2185.2C595.6 2185.4 597.1 2185.5 598.6 2185.6C600.1 2185.8 601.6 2185.9 603.1 2186C604.6 2186.1 606 2186.3 607.5 2186.4C609 2186.5 610.5 2186.6 612 2186.8C613.5 2186.9 615 2187 616.4 2187.1C617.9 2187.3 619.4 2187.4 620.9 2187.5C622.4 2187.7 623.9 2187.8 625.4 2187.9C626.9 2188 628.3 2188.2 629.8 2188.3C631.3 2188.4 632.8 2188.5 634.3 2188.7C635.8 2188.8 637.3 2188.9 638.7 2189C640.2 2189.1 641.7 2189.2 643.2 2189.2C644.7 2189.3 646.2 2189.4 647.7 2189.4C649.1 2189.5 650.6 2189.6 652.1 2189.6C653.6 2189.7 655.1 2189.8 656.6 2189.8C658.1 2189.9 659.5 2189.9 661 2190C662.5 2190.1 664 2190.1 665.5 2190.2C667 2190.3 668.5 2190.3 669.9 2190.4C671.4 2190.5 672.9 2190.5 674.4 2190.6C675.9 2190.7 677.4 2190.7 678.9 2190.8C680.4 2190.8 681.8 2190.9 683.3 2191C684.8 2191 686.3 2191.1 687.8 2191.2C689.3 2191.2 690.8 2191.3 692.2 2191.4C693.7 2191.4 695.2 2191.5 696.7 2191.5C698.2 2191.6 699.7 2191.6 701.2 2191.6C702.6 2191.7 704.1 2191.7 705.6 2191.7C707.1 2191.8 708.6 2191.8 710.1 2191.8C711.6 2191.9 713 2191.9 714.5 2192C716 2192 717.5 2192 719 2192.1C720.5 2192.1 722 2192.1 723.4 2192.2C724.9 2192.2 726.4 2192.3 727.9 2192.3C729.4 2192.3 730.9 2192.4 732.4 2192.4C733.9 2192.4 735.3 2192.5 736.8 2192.5C738.3 2192.5 739.8 2192.6 741.3 2192.6C742.8 2192.7 744.3 2192.7 745.7 2192.7C747.2 2192.8 749.5 2192.8 750.2 2192.8" stroke="#f5a40e" stroke-width="4" fill="none" stroke-dasharray="7 10"/>
<path d="M206.3 2195.6C207 2195.6 209.2 2195.6 210.7 2195.6C212.2 2195.6 213.7 2195.7 215.2 2195.6C216.7 2195.5 218.2 2195.2 219.7 2194.7C221.1 2194.3 222.6 2193.5 224.1 2192.9C225.6 2192.4 227.1 2191.8 228.6 2191.2C230.1 2190.6 231.5 2190 233 2189.4C234.5 2188.8 236 2188.3 237.5 2187.6C239 2186.9 240.5 2186 241.9 2185.2C243.4 2184.5 244.9 2183.7 246.4 2182.9C247.9 2182.1 249.4 2181.3 250.9 2180.5C252.3 2179.7 253.8 2178.9 255.3 2178.1C256.8 2177.3 258.3 2176.3 259.8 2175.7C261.3 2175.1 262.7 2174.9 264.2 2174.5C265.7 2174.1 267.2 2173.7 268.7 2173.4C270.2 2173 271.7 2172.6 273.2 2172.2C274.6 2171.8 276.1 2171.4 277.6 2171C279.1 2170.6 280.6 2170.1 282.1 2169.9C283.6 2169.6 285 2169.7 286.5 2169.7C288 2169.6 289.5 2169.5 291 2169.5C292.5 2169.4 294 2169.3 295.4 2169.3C296.9 2169.2 298.4 2169 299.9 2169.1C301.4 2169.1 302.9 2169.3 304.4 2169.4C305.8 2169.5 307.3 2169.6 308.8 2169.7C310.3 2169.8 311.8 2169.9 313.3 2170C314.8 2170.1 316.2 2170.2 317.7 2170.3C319.2 2170.4 320.7 2170.5 322.2 2170.6C323.7 2170.7 325.2 2170.7 326.7 2170.9C328.1 2171.1 329.6 2171.4 331.1 2171.7C332.6 2172 334.1 2172.2 335.6 2172.5C337.1 2172.7 338.5 2173 340 2173.3C341.5 2173.5 343 2173.8 344.5 2174C346 2174.3 347.5 2174.5 348.9 2174.8C350.4 2175.1 351.9 2175.3 353.4 2175.6C354.9 2175.8 356.4 2176.1 357.9 2176.4C359.3 2176.6 360.8 2176.8 362.3 2176.9C363.8 2177.1 365.3 2177.2 366.8 2177.3C368.3 2177.4 369.7 2177.5 371.2 2177.6C372.7 2177.7 374.2 2177.8 375.7 2178C377.2 2178.1 378.7 2178.2 380.2 2178.3C381.6 2178.4 383.1 2178.5 384.6 2178.6C386.1 2178.8 387.6 2178.9 389.1 2179C390.6 2179.1 392 2179.2 393.5 2179.3C395 2179.4 396.5 2179.6 398 2179.7C399.5 2179.8 401 2179.8 402.4 2179.9C403.9 2180 405.4 2180 406.9 2180.1C408.4 2180.2 409.9 2180.2 411.4 2180.3C412.8 2180.4 414.3 2180.4 415.8 2180.5C417.3 2180.6 418.8 2180.7 420.3 2180.7C421.8 2180.8 423.3 2180.9 424.7 2180.9C426.2 2181 427.7 2181.1 429.2 2181.1C430.7 2181.2 432.2 2181.3 433.7 2181.3C435.1 2181.4 436.6 2181.5 438.1 2181.6C439.6 2181.6 441.1 2181.7 442.6 2181.8C444.1 2181.8 445.5 2181.9 447 2182C448.5 2182 450 2182.1 451.5 2182.2C453 2182.3 454.5 2182.3 455.9 2182.4C457.4 2182.5 458.9 2182.5 460.4 2182.6C461.9 2182.7 463.4 2182.7 464.9 2182.8C466.3 2182.9 467.8 2182.9 469.3 2183C470.8 2183.1 472.3 2183.2 473.8 2183.2C475.3 2183.3 476.8 2183.4 478.2 2183.5C479.7 2183.5 481.2 2183.6 482.7 2183.7C484.2 2183.7 485.7 2183.8 487.2 2183.9C488.6 2184 490.1 2184 491.6 2184.1C493.1 2184.2 494.6 2184.3 496.1 2184.3C497.6 2184.4 499 2184.5 500.5 2184.5C502 2184.6 503.5 2184.7 505 2184.8C506.5 2184.8 508 2184.9 509.4 2185C510.9 2185.1 512.4 2185.1 513.9 2185.2C515.4 2185.3 516.9 2185.3 518.4 2185.4C519.8 2185.5 521.3 2185.6 522.8 2185.6C524.3 2185.7 525.8 2185.8 527.3 2185.9C528.8 2185.9 530.3 2186 531.7 2186.1C533.2 2186.1 534.7 2186.2 536.2 2186.3C537.7 2186.4 539.2 2186.4 540.7 2186.5C542.1 2186.6 543.6 2186.7 545.1 2186.7C546.6 2186.8 548.1 2186.9 549.6 2187C551.1 2187.1 552.5 2187.2 554 2187.3C555.5 2187.4 557 2187.4 558.5 2187.5C560 2187.6 561.5 2187.7 562.9 2187.8C564.4 2187.9 565.9 2188 567.4 2188.1C568.9 2188.2 570.4 2188.3 571.9 2188.4C573.4 2188.5 574.8 2188.6 576.3 2188.6C577.8 2188.7 579.3 2188.8 580.8 2188.9C582.3 2189 583.8 2189.1 585.2 2189.2C586.7 2189.3 588.2 2189.4 589.7 2189.5C591.2 2189.6 592.7 2189.7 594.2 2189.8C595.6 2189.8 597.1 2189.9 598.6 2190C600.1 2190 601.6 2190.1 603.1 2190.2C604.6 2190.3 606 2190.3 607.5 2190.4C609 2190.5 610.5 2190.5 612 2190.6C613.5 2190.7 615 2190.8 616.4 2190.8C617.9 2190.9 619.4 2191 620.9 2191C622.4 2191.1 623.9 2191.2 625.4 2191.2C626.9 2191.3 628.3 2191.4 629.8 2191.5C631.3 2191.5 632.8 2191.6 634.3 2191.7C635.8 2191.7 637.3 2191.8 638.7 2191.9C640.2 2191.9 641.7 2191.9 643.2 2192C644.7 2192 646.2 2192 647.7 2192C649.1 2192.1 650.6 2192.1 652.1 2192.1C653.6 2192.1 655.1 2192.2 656.6 2192.2C658.1 2192.2 659.5 2192.2 661 2192.3C662.5 2192.3 664 2192.3 665.5 2192.3C667 2192.4 668.5 2192.4 669.9 2192.4C671.4 2192.4 672.9 2192.5 674.4 2192.5C675.9 2192.5 677.4 2192.5 678.9 2192.6C680.4 2192.6 681.8 2192.6 683.3 2192.6C684.8 2192.7 686.3 2192.7 687.8 2192.7C689.3 2192.7 690.8 2192.8 692.2 2192.8C693.7 2192.8 695.2 2192.8 696.7 2192.9C698.2 2192.9 699.7 2192.9 701.2 2192.9C702.6 2192.9 704.1 2193 705.6 2193C707.1 2193 708.6 2193 710.1 2193.1C711.6 2193.1 713 2193.1 714.5 2193.1C716 2193.2 717.5 2193.2 719 2193.2C720.5 2193.2 722 2193.3 723.4 2193.3C724.9 2193.3 726.4 2193.3 727.9 2193.4C729.4 2193.4 730.9 2193.4 732.4 2193.4C733.9 2193.5 735.3 2193.5 736.8 2193.5C738.3 2193.5 739.8 2193.6 741.3 2193.6C742.8 2193.6 744.3 2193.6 745.7 2193.7C747.2 2193.7 749.5 2193.7 750.2 2193.7" stroke="#f5a40e" stroke-width="4" fill="none" stroke-dasharray="7 10"/>
<path d="M206.3 2195.6C207 2195.6 209.2 2195.6 210.7 2195.6C212.2 2195.6 213.7 2195.7 215.2 2195.6C216.7 2195.5 218.2 2195.2 219.7 2194.8C221.1 2194.4 222.6 2193.7 224.1 2193.1C225.6 2192.6 227.1 2192 228.6 2191.4C230.1 2190.9 231.5 2190.3 233 2189.8C234.5 2189.2 236 2188.8 237.5 2188.1C239 2187.5 240.5 2186.6 241.9 2185.9C243.4 2185.1 244.9 2184.4 246.4 2183.6C247.9 2182.9 249.4 2182.1 250.9 2181.4C252.3 2180.6 253.8 2179.9 255.3 2179.1C256.8 2178.4 258.3 2177.4 259.8 2176.9C261.3 2176.3 262.7 2176.2 264.2 2175.8C265.7 2175.4 267.2 2175.1 268.7 2174.7C270.2 2174.3 271.7 2174 273.2 2173.6C274.6 2173.2 276.1 2172.9 277.6 2172.5C279.1 2172.1 280.6 2171.6 282.1 2171.4C283.6 2171.2 285 2171.3 286.5 2171.2C288 2171.1 289.5 2171.1 291 2171C292.5 2171 294 2170.9 295.4 2170.8C296.9 2170.8 298.4 2170.6 299.9 2170.6C301.4 2170.7 302.9 2170.8 304.4 2170.9C305.8 2171 307.3 2171.1 308.8 2171.2C310.3 2171.3 311.8 2171.4 313.3 2171.5C314.8 2171.6 316.2 2171.7 317.7 2171.8C319.2 2171.9 320.7 2172 322.2 2172.1C323.7 2172.2 325.2 2172.2 326.7 2172.4C328.1 2172.6 329.6 2172.9 331.1 2173.1C332.6 2173.4 334.1 2173.6 335.6 2173.9C337.1 2174.1 338.5 2174.3 340 2174.6C341.5 2174.8 343 2175.1 344.5 2175.3C346 2175.6 347.5 2175.8 348.9 2176.1C350.4 2176.3 351.9 2176.5 353.4 2176.8C354.9 2177 356.4 2177.3 357.9 2177.5C359.3 2177.7 360.8 2177.9 362.3 2178C363.8 2178.2 365.3 2178.3 366.8 2178.4C368.3 2178.5 369.7 2178.6 371.2 2178.7C372.7 2178.8 374.2 2178.9 375.7 2179C377.2 2179.1 378.7 2179.2 380.2 2179.3C381.6 2179.4 383.1 2179.6 384.6 2179.7C386.1 2179.8 387.6 2179.9 389.1 2180C390.6 2180.1 392 2180.2 393.5 2180.3C395 2180.4 396.5 2180.5 398 2180.6C399.5 2180.7 401 2180.8 402.4 2180.8C403.9 2180.9 405.4 2181 406.9 2181C408.4 2181.1 409.9 2181.2 411.4 2181.2C412.8 2181.3 414.3 2181.4 415.8 2181.4C417.3 2181.5 418.8 2181.5 420.3 2181.6C421.8 2181.7 423.3 2181.7 424.7 2181.8C426.2 2181.9 427.7 2181.9 429.2 2182C430.7 2182.1 432.2 2182.1 433.7 2182.2C435.1 2182.3 436.6 2182.3 438.1 2182.4C439.6 2182.5 441.1 2182.5 442.6 2182.6C444.1 2182.7 445.5 2182.7 447 2182.8C448.5 2182.9 450 2182.9 451.5 2183C453 2183.1 454.5 2183.1 455.9 2183.2C457.4 2183.3 458.9 2183.3 460.4 2183.4C461.9 2183.4 463.4 2183.5 464.9 2183.6C466.3 2183.6 467.8 2183.7 469.3 2183.8C470.8 2183.8 472.3 2183.9 473.8 2184C475.3 2184 476.8 2184.1 478.2 2184.2C479.7 2184.3 481.2 2184.3 482.7 2184.4C484.2 2184.5 485.7 2184.5 487.2 2184.6C488.6 2184.7 490.1 2184.7 491.6 2184.8C493.1 2184.9 494.6 2184.9 496.1 2185C497.6 2185.1 499 2185.1 500.5 2185.2C502 2185.3 503.5 2185.3 505 2185.4C506.5 2185.5 508 2185.6 509.4 2185.6C510.9 2185.7 512.4 2185.8 513.9 2185.8C515.4 2185.9 516.9 2186 518.4 2186C519.8 2186.1 521.3 2186.2 522.8 2186.2C524.3 2186.3 525.8 2186.4 527.3 2186.4C528.8 2186.5 530.3 2186.6 531.7 2186.6C533.2 2186.7 534.7 2186.8 536.2 2186.9C537.7 2186.9 539.2 2187 540.7 2187.1C542.1 2187.1 543.6 2187.2 545.1 2187.3C546.6 2187.3 548.1 2187.4 549.6 2187.5C551.1 2187.6 552.5 2187.7 554 2187.8C555.5 2187.8 557 2187.9 558.5 2188C560 2188.1 561.5 2188.2 562.9 2188.3C564.4 2188.4 565.9 2188.5 567.4 2188.5C568.9 2188.6 570.4 2188.7 571.9 2188.8C573.4 2188.9 574.8 2189 576.3 2189.1C577.8 2189.2 579.3 2189.2 580.8 2189.3C582.3 2189.4 583.8 2189.5 585.2 2189.6C586.7 2189.7 588.2 2189.8 589.7 2189.8C591.2 2189.9 592.7 2190 594.2 2190.1C595.6 2190.2 597.1 2190.2 598.6 2190.3C600.1 2190.4 601.6 2190.4 603.1 2190.5C604.6 2190.6 606 2190.6 607.5 2190.7C609 2190.8 610.5 2190.8 612 2190.9C613.5 2191 615 2191 616.4 2191.1C617.9 2191.2 619.4 2191.2 620.9 2191.3C622.4 2191.4 623.9 2191.4 625.4 2191.5C626.9 2191.6 628.3 2191.6 629.8 2191.7C631.3 2191.8 632.8 2191.8 634.3 2191.9C635.8 2192 637.3 2192.1 638.7 2192.1C640.2 2192.2 641.7 2192.2 643.2 2192.2C644.7 2192.2 646.2 2192.2 647.7 2192.2C649.1 2192.3 650.6 2192.3 652.1 2192.3C653.6 2192.3 655.1 2192.4 656.6 2192.4C658.1 2192.4 659.5 2192.4 661 2192.5C662.5 2192.5 664 2192.5 665.5 2192.5C667 2192.5 668.5 2192.6 669.9 2192.6C671.4 2192.6 672.9 2192.6 674.4 2192.7C675.9 2192.7 677.4 2192.7 678.9 2192.7C680.4 2192.8 681.8 2192.8 683.3 2192.8C684.8 2192.8 686.3 2192.9 687.8 2192.9C689.3 2192.9 690.8 2192.9 692.2 2192.9C693.7 2193 695.2 2193 696.7 2193C698.2 2193 699.7 2193.1 701.2 2193.1C702.6 2193.1 704.1 2193.1 705.6 2193.2C707.1 2193.2 708.6 2193.2 710.1 2193.2C711.6 2193.2 713 2193.3 714.5 2193.3C716 2193.3 717.5 2193.3 719 2193.4C720.5 2193.4 722 2193.4 723.4 2193.4C724.9 2193.5 726.4 2193.5 727.9 2193.5C729.4 2193.5 730.9 2193.6 732.4 2193.6C733.9 2193.6 735.3 2193.6 736.8 2193.6C738.3 2193.7 739.8 2193.7 741.3 2193.7C742.8 2193.7 744.3 2193.8 745.7 2193.8C747.2 2193.8 749.5 2193.8 750.2 2193.9" stroke="#f5a40e" stroke-width="4" fill="none" stroke-dasharray="7 10"/>
<path d="M206.3 2195.6C207 2195.6 209.2 2195.6 210.7 2195.6C212.2 2195.6 213.7 2195.7 215.2 2195.6C216.7 2195.5 218.2 2195.2 219.7 2194.8C221.1 2194.4 222.6 2193.8 224.1 2193.3C225.6 2192.7 227.1 2192.2 228.6 2191.7C230.1 2191.2 231.5 2190.7 233 2190.1C234.5 2189.6 236 2189.2 237.5 2188.6C239 2188 240.5 2187.2 241.9 2186.5C243.4 2185.8 244.9 2185.1 246.4 2184.4C247.9 2183.7 249.4 2183 250.9 2182.3C252.3 2181.6 253.8 2180.9 255.3 2180.2C256.8 2179.5 258.3 2178.6 259.8 2178.1C261.3 2177.6 262.7 2177.4 264.2 2177.1C265.7 2176.7 267.2 2176.4 268.7 2176C270.2 2175.7 271.7 2175.3 273.2 2175C274.6 2174.7 276.1 2174.3 277.6 2174C279.1 2173.6 280.6 2173.1 282.1 2172.9C283.6 2172.7 285 2172.8 286.5 2172.8C288 2172.7 289.5 2172.7 291 2172.6C292.5 2172.5 294 2172.5 295.4 2172.4C296.9 2172.4 298.4 2172.2 299.9 2172.2C301.4 2172.3 302.9 2172.4 304.4 2172.5C305.8 2172.6 307.3 2172.7 308.8 2172.8C310.3 2172.9 311.8 2173 313.3 2173.1C314.8 2173.2 316.2 2173.2 317.7 2173.3C319.2 2173.4 320.7 2173.5 322.2 2173.6C323.7 2173.7 325.2 2173.7 326.7 2173.9C328.1 2174 329.6 2174.3 331.1 2174.6C332.6 2174.8 334.1 2175 335.6 2175.2C337.1 2175.5 338.5 2175.7 340 2175.9C341.5 2176.2 343 2176.4 344.5 2176.6C346 2176.8 347.5 2177.1 348.9 2177.3C350.4 2177.5 351.9 2177.8 353.4 2178C354.9 2178.2 356.4 2178.5 357.9 2178.7C359.3 2178.9 360.8 2179 362.3 2179.2C363.8 2179.3 365.3 2179.4 366.8 2179.5C368.3 2179.6 369.7 2179.7 371.2 2179.8C372.7 2179.9 374.2 2180 375.7 2180.1C377.2 2180.2 378.7 2180.3 380.2 2180.4C381.6 2180.5 383.1 2180.6 384.6 2180.7C386.1 2180.8 387.6 2180.9 389.1 2181C390.6 2181.1 392 2181.2 393.5 2181.3C395 2181.4 396.5 2181.5 398 2181.6C399.5 2181.7 401 2181.7 402.4 2181.8C403.9 2181.8 405.4 2181.9 406.9 2182C408.4 2182 409.9 2182.1 411.4 2182.1C412.8 2182.2 414.3 2182.3 415.8 2182.3C417.3 2182.4 418.8 2182.4 420.3 2182.5C421.8 2182.6 423.3 2182.6 424.7 2182.7C426.2 2182.8 427.7 2182.8 429.2 2182.9C430.7 2182.9 432.2 2183 433.7 2183.1C435.1 2183.1 436.6 2183.2 438.1 2183.2C439.6 2183.3 441.1 2183.4 442.6 2183.4C444.1 2183.5 445.5 2183.5 447 2183.6C448.5 2183.7 450 2183.7 451.5 2183.8C453 2183.9 454.5 2183.9 455.9 2184C457.4 2184 458.9 2184.1 460.4 2184.2C461.9 2184.2 463.4 2184.3 464.9 2184.3C466.3 2184.4 467.8 2184.5 469.3 2184.5C470.8 2184.6 472.3 2184.7 473.8 2184.7C475.3 2184.8 476.8 2184.8 478.2 2184.9C479.7 2185 481.2 2185 482.7 2185.1C484.2 2185.2 485.7 2185.2 487.2 2185.3C488.6 2185.4 490.1 2185.4 491.6 2185.5C493.1 2185.6 494.6 2185.6 496.1 2185.7C497.6 2185.7 499 2185.8 500.5 2185.9C502 2185.9 503.5 2186 505 2186.1C506.5 2186.1 508 2186.2 509.4 2186.3C510.9 2186.3 512.4 2186.4 513.9 2186.4C515.4 2186.5 516.9 2186.6 518.4 2186.6C519.8 2186.7 521.3 2186.8 522.8 2186.8C524.3 2186.9 525.8 2187 527.3 2187C528.8 2187.1 530.3 2187.2 531.7 2187.2C533.2 2187.3 534.7 2187.3 536.2 2187.4C537.7 2187.5 539.2 2187.5 540.7 2187.6C542.1 2187.7 543.6 2187.7 545.1 2187.8C546.6 2187.9 548.1 2187.9 549.6 2188C551.1 2188.1 552.5 2188.2 554 2188.3C555.5 2188.3 557 2188.4 558.5 2188.5C560 2188.6 561.5 2188.7 562.9 2188.7C564.4 2188.8 565.9 2188.9 567.4 2189C568.9 2189.1 570.4 2189.2 571.9 2189.2C573.4 2189.3 574.8 2189.4 576.3 2189.5C577.8 2189.6 579.3 2189.6 580.8 2189.7C582.3 2189.8 583.8 2189.9 585.2 2190C586.7 2190.1 588.2 2190.1 589.7 2190.2C591.2 2190.3 592.7 2190.4 594.2 2190.5C595.6 2190.5 597.1 2190.6 598.6 2190.6C600.1 2190.7 601.6 2190.8 603.1 2190.8C604.6 2190.9 606 2191 607.5 2191C609 2191.1 610.5 2191.1 612 2191.2C613.5 2191.3 615 2191.3 616.4 2191.4C617.9 2191.5 619.4 2191.5 620.9 2191.6C622.4 2191.6 623.9 2191.7 625.4 2191.8C626.9 2191.8 628.3 2191.9 629.8 2192C631.3 2192 632.8 2192.1 634.3 2192.1C635.8 2192.2 637.3 2192.3 638.7 2192.3C640.2 2192.4 641.7 2192.4 643.2 2192.4C644.7 2192.4 646.2 2192.4 647.7 2192.5C649.1 2192.5 650.6 2192.5 652.1 2192.5C653.6 2192.5 655.1 2192.6 656.6 2192.6C658.1 2192.6 659.5 2192.6 661 2192.7C662.5 2192.7 664 2192.7 665.5 2192.7C667 2192.7 668.5 2192.8 669.9 2192.8C671.4 2192.8 672.9 2192.8 674.4 2192.9C675.9 2192.9 677.4 2192.9 678.9 2192.9C680.4 2192.9 681.8 2193 683.3 2193C684.8 2193 686.3 2193 687.8 2193C689.3 2193.1 690.8 2193.1 692.2 2193.1C693.7 2193.1 695.2 2193.2 696.7 2193.2C698.2 2193.2 699.7 2193.2 701.2 2193.2C702.6 2193.3 704.1 2193.3 705.6 2193.3C707.1 2193.3 708.6 2193.4 710.1 2193.4C711.6 2193.4 713 2193.4 714.5 2193.4C716 2193.5 717.5 2193.5 719 2193.5C720.5 2193.5 722 2193.6 723.4 2193.6C724.9 2193.6 726.4 2193.6 727.9 2193.6C729.4 2193.7 730.9 2193.7 732.4 2193.7C733.9 2193.7 735.3 2193.7 736.8 2193.8C738.3 2193.8 739.8 2193.8 741.3 2193.8C742.8 2193.9 744.3 2193.9 745.7 2193.9C747.2 2193.9 749.5 2194 750.2 2194" stroke="#f5a40e" stroke-width="4" fill="none" stroke-dasharray="7 10"/>
</g>
<path d="M204 2187.3L210 2188.2 215.5 2188.4 220.5 2187.8 225 2186.5 229.5 2184.4 233.5 2181.6 237.5 2177.7 241 2173.4 245.5 2166.4 250 2157.7 266 2122.4 286 2082.5 295 2061.8 302.5 2041.7 309.5 2020.2 315.5 1999.1 321 1976.7 325 1958.3 329.5 1935.3 346 1842.4 354.5 1798.1 364 1754.8 369 1734.8 373.5 1718.8 378.5 1703.1 383 1691.2 387.5 1681.4 392 1673.8 397.5 1667 403 1662.4 409 1659.4 412 1658.6 415 1658.3 419 1658.9 423 1660.6 427 1663.7 430.5 1667.5 434.5 1673.2 438 1679.5 441.5 1687 445 1695.6 450 1710.2 455.5 1728.4 510.5 1925.3 517.5 1949.3 524 1969.7 528.5 1982.5 534 1996.6 561.5 2061 570 2078.8 579 2094.5 587 2106.4 596 2118.5 605 2129.5 613.5 2138.7 622 2146.9 630 2153.5 638.5 2159.4 648 2165.1 658 2170.2 668 2174.4 678 2177.7 689 2180.5 699 2182.5 708.5 2183.9 749 2187.8" stroke="#f5a40e" stroke-width="3.4" fill="none" stroke-linejoin="round"/>
<path d="M1844.6 2187.4L1850.6 2188.3 1856.1 2188.5 1861.1 2187.9 1865.6 2186.7 1870.1 2184.5 1874.1 2181.7 1878.1 2177.9 1881.6 2173.7 1886.1 2166.7 1890.5 2158.2 1906.5 2123.3 1926.5 2084 1935.5 2063.5 1943 2043.7 1950 2022.5 1956 2001.6 1961.5 1979.6 1965.5 1961.4 1970 1938.7 1986.5 1847 1995 1803.3 2004.4 1760.5 2009.4 1740.8 2013.9 1725 2018.9 1709.5 2023.4 1697.8 2027.9 1688.1 2032.4 1680.6 2037.9 1673.9 2043.4 1669.4 2049.4 1666.4 2052.4 1665.6 2055.4 1665.3 2059.4 1665.9 2063.4 1667.6 2067.4 1670.6 2070.9 1674.4 2074.9 1680 2078.4 1686.2 2081.9 1693.6 2085.4 1702.2 2090.4 1716.5 2095.9 1734.5 2150.8 1928.9 2157.8 1952.5 2164.3 1972.7 2168.8 1985.3 2174.3 1999.2 2201.8 2062.7 2210.3 2080.3 2219.3 2095.8 2227.2 2107.6 2236.2 2119.5 2245.2 2130.3 2253.7 2139.5 2262.2 2147.5 2270.2 2154 2278.7 2159.9 2288.2 2165.5 2298.2 2170.5 2308.2 2174.7 2318.2 2177.9 2329.2 2180.7 2339.1 2182.7 2348.6 2184 2389.1 2187.9" stroke="#f5a40e" stroke-width="3.6" fill="none" stroke-linejoin="round" stroke-dasharray="3.6 5"/>
<path d="M1880 2193.2L1895.5 2193 1902.6 2192.6 1909.4 2191.1 1914 2188.8 1916.1 2186.9 1918 2184.6 1921.7 2177.9 1925.1 2169 1927.9 2158.3 1929.7 2149 1931.4 2137.6 1935.9 2103.9 1938.3 2082 1953.2 1932.2 1957.2 1874.9 1964.1 1793.7 1966.8 1768.3 1970.7 1738.1 1973.3 1720.8 1976.1 1705.5 1978.9 1693.8 1981.8 1684.2 1985.3 1675.9 1988.6 1670.3 1990.2 1668.5 1992.1 1667.1 1994.1 1666.1 1996.3 1665.8 1998.9 1666.2 2001.4 1667.4 2003.8 1669.5 2005.8 1672.2 2007.6 1675.8 2009.5 1680.5 2013.4 1694.1 2017.2 1713.2 2035.6 1828.8 2041.3 1859.2 2044.1 1871.9 2050.5 1897.6 2060.5 1942 2077.5 2005.8 2082 2021.7 2092.4 2053.5 2095.9 2062.9 2099.5 2071.1 2109.9 2091.1 2122.6 2113.8 2129.9 2125.7 2136.7 2135.6 2143 2143.3 2150.9 2151.1 2159.7 2158.4 2168 2164 2177.4 2168.8 2188.9 2173.5 2199.4 2176.9 2212 2179.9 2225.8 2182.6 2240.1 2184.6 2258.6 2186.4 2282.5 2188.1 2300.5 2189 2338.5 2190.2 2389 2191" stroke="#f5a40e" stroke-width="3.6" fill="none" stroke-linejoin="round"/>
<clipPath id="cliph"><rect x="1834.5" y="2434.8" width="554.8" height="556.4"/></clipPath>
<g clip-path="url(#cliph)">
<path d="M1834 2537.5L1836.6 2537.1 1839.5 2535.5 1854.1 2523.7 1900.3 2490.3 1914.6 2481.2 1926.9 2474.5 1935.1 2470.8 1943.5 2467.6 1952.1 2464.9 1960.4 2462.9 1967.8 2461.6 1974.7 2461 1981.7 2460.9 1990.2 2461.4 2000.1 2462.9 2010.6 2465.9 2020.9 2469.9 2031.1 2475.2 2038.2 2479.8 2046.6 2486.1 2071.1 2506.7 2083 2515.9 2095.8 2524.5 2108.5 2531.6 2120.9 2537 2132.7 2540.8 2139.6 2541.9 2157 2542.7 2161.8 2543.6 2166.1 2545 2170.2 2546.7 2175 2549.4 2191.8 2559.3 2205.8 2567.1 2212.8 2571.8 2219.1 2577.4 2224.6 2583.9 2229.5 2591.3 2235.1 2601.4 2241 2613.6 2246.6 2626.4 2266.8 2677 2272 2692.1 2276.9 2708.9 2295.9 2783 2309.1 2829.7 2326.2 2882 2330.2 2892.7 2334.8 2903.8 2341 2916.9 2349.2 2932.4 2354.9 2941.8 2360.5 2949.5 2367.2 2956.8 2375.1 2963.7 2384.2 2969.6 2387 2970.8 2389.6 2971.3" stroke="#f27a80" stroke-width="3.6" fill="none" stroke-linejoin="round"/>
<path d="M1834 2668.7L1836.5 2668.3 1838.8 2666.9 1850.8 2655 1856.5 2649.9 1883.4 2628.3 1898.4 2617.4 1906.8 2612.1 1915.9 2606.9 1953.4 2587.9 1965.8 2582.8 1979.7 2578.4 1991.3 2575.6 2019.7 2569.4 2045.8 2562.8 2061.2 2558.3 2075.9 2553.4 2091.8 2547.4 2101.4 2543.3 2110.3 2538.7 2119.8 2533.1 2127.7 2527.8 2134.4 2522.7 2141.2 2516.7 2160.2 2497.6 2184.3 2469.5 2188.8 2464.9 2191.9 2462.8 2195.3 2461.6 2198.7 2461.6 2202.1 2462.8 2205.5 2465.3 2209 2469.4 2212.4 2474.9 2215.8 2482.1 2219.5 2491.4 2223.3 2502.7 2227.2 2515.7 2230.8 2529.7 2236.9 2557.6 2257 2664.7 2286.7 2813.3 2299 2867.4 2303.4 2882.8 2308.2 2897 2311.1 2904.4 2314.1 2910.8 2317.2 2916.5 2320.4 2921.5 2324.4 2926.6 2329.3 2932.2 2334.3 2937.2 2339.9 2942.2 2353.2 2952.6 2358.3 2955.8 2363.2 2958.4 2369.1 2960.8 2375.8 2962.9 2383.8 2964.8 2389.5 2965.5" stroke="#4bbbee" stroke-width="3.6" fill="none" stroke-linejoin="round"/>
<path d="M1834 2635.7L1837 2635.1 1839.8 2633.4 1856.6 2618.6 1896.7 2586.2 1905.2 2580.1 1913.3 2575.2 1922.7 2570.5 1931.9 2566.5 1947.3 2560.7 1960.2 2556.7 1966.6 2555.4 1972 2554.6 1982 2554.1 2014.9 2554.1 2025.9 2553.1 2042.2 2550.8 2054.5 2548.2 2096.2 2537.7 2115.3 2533.9 2120 2532.5 2124.2 2530.8 2129.9 2527.8 2135.6 2523.8 2144.2 2517 2151.7 2510.4 2159.8 2502.2 2172.4 2488 2186.6 2472.5 2194.1 2465.2 2198.2 2462.6 2202 2461.4 2205.6 2461.6 2209.3 2463.1 2212.9 2466.1 2216.5 2470.8 2220.6 2477.7 2224.9 2486.7 2228.8 2496.5 2232.5 2507.4 2236.2 2519.8 2239.8 2533.4 2245.2 2558.8 2263.5 2655.6 2272.8 2700.1 2282.8 2752.1 2298.5 2830.1 2303.5 2852.5 2308.4 2873 2317.4 2907.3 2320.4 2916.8 2324.8 2927.4 2330.2 2936.4 2337.1 2945 2340.9 2948.8 2344.7 2952.1 2349.6 2955.5 2354.8 2958.6 2361 2961.8 2367.8 2964.9 2373.9 2967.1 2380.5 2969 2385.3 2970.1 2389.5 2970.5" stroke="#f5a40e" stroke-width="3.6" fill="none" stroke-linejoin="round"/>
</g>
<text x="514.5" y="104.4" font-size="39.4" text-anchor="start" font-family='"Liberation Sans", Arial, Helvetica, sans-serif'>water ratio</text>
<rect x="518.3" y="128.2" width="10" height="9" fill="#4bbbee"/>
<rect x="535.8" y="128.2" width="10" height="9" fill="#4bbbee"/>
<rect x="553.3" y="128.2" width="10" height="9" fill="#4bbbee"/>
<rect x="570.8" y="128.2" width="10" height="9" fill="#4bbbee"/>
<text x="599.6" y="142.7" font-size="39.4" text-anchor="start" font-family='"Liberation Sans", Arial, Helvetica, sans-serif'>0–80%</text>
<rect x="518.3" y="168.7" width="65" height="8" fill="#4bbbee"/>
<text x="599.6" y="182.7" font-size="39.4" text-anchor="start" font-family='"Liberation Sans", Arial, Helvetica, sans-serif'>90%</text>
<text x="514.5" y="900.8" font-size="39.4" text-anchor="start" font-family='"Liberation Sans", Arial, Helvetica, sans-serif'>water ratio</text>
<rect x="518.3" y="924.6" width="10" height="9" fill="#f27a80"/>
<rect x="535.8" y="924.6" width="10" height="9" fill="#f27a80"/>
<rect x="553.3" y="924.6" width="10" height="9" fill="#f27a80"/>
<rect x="570.8" y="924.6" width="10" height="9" fill="#f27a80"/>
<text x="599.6" y="939.1" font-size="39.4" text-anchor="start" font-family='"Liberation Sans", Arial, Helvetica, sans-serif'>0–80%</text>
<rect x="518.3" y="965.1" width="65" height="8" fill="#f27a80"/>
<text x="599.6" y="979.1" font-size="39.4" text-anchor="start" font-family='"Liberation Sans", Arial, Helvetica, sans-serif'>90%</text>
<text x="514.5" y="1697.2" font-size="39.4" text-anchor="start" font-family='"Liberation Sans", Arial, Helvetica, sans-serif'>water ratio</text>
<rect x="518.3" y="1721" width="10" height="9" fill="#f5a40e"/>
<rect x="535.8" y="1721" width="10" height="9" fill="#f5a40e"/>
<rect x="553.3" y="1721" width="10" height="9" fill="#f5a40e"/>
<rect x="570.8" y="1721" width="10" height="9" fill="#f5a40e"/>
<text x="599.6" y="1735.5" font-size="39.4" text-anchor="start" font-family='"Liberation Sans", Arial, Helvetica, sans-serif'>0–80%</text>
<rect x="518.3" y="1761.5" width="65" height="8" fill="#f5a40e"/>
<text x="599.6" y="1775.5" font-size="39.4" text-anchor="start" font-family='"Liberation Sans", Arial, Helvetica, sans-serif'>90%</text>
<line x1="2128.3" x2="2194.2" y1="82.7" y2="82.7" stroke="#4bbbee" stroke-width="7.5" stroke-dasharray="3.3 5.5"/>
<text x="2208.4" y="93.9" font-size="39.4" font-family='"Liberation Sans", Arial, Helvetica, sans-serif'>90% H<tspan font-size="24" dy="6">2</tspan><tspan dy="-6">O</tspan></text>
<rect x="2128.3" y="133" width="66" height="8.3" fill="#4bbbee"/>
<text x="2208.4" y="146.9" font-size="39.4" text-anchor="start" font-family='"Liberation Sans", Arial, Helvetica, sans-serif'>crystal</text>
<line x1="2128.3" x2="2194.2" y1="879.1" y2="879.1" stroke="#f27a80" stroke-width="7.5" stroke-dasharray="3.3 5.5"/>
<text x="2208.4" y="890.3" font-size="39.4" font-family='"Liberation Sans", Arial, Helvetica, sans-serif'>90% H<tspan font-size="24" dy="6">2</tspan><tspan dy="-6">O</tspan></text>
<rect x="2128.3" y="929.4" width="66" height="8.3" fill="#f27a80"/>
<text x="2208.4" y="943.3" font-size="39.4" text-anchor="start" font-family='"Liberation Sans", Arial, Helvetica, sans-serif'>crystal</text>
<line x1="2128.3" x2="2194.2" y1="1675.5" y2="1675.5" stroke="#f5a40e" stroke-width="7.5" stroke-dasharray="3.3 5.5"/>
<text x="2208.4" y="1686.7" font-size="39.4" font-family='"Liberation Sans", Arial, Helvetica, sans-serif'>90% H<tspan font-size="24" dy="6">2</tspan><tspan dy="-6">O</tspan></text>
<rect x="2128.3" y="1725.8" width="66" height="8.3" fill="#f5a40e"/>
<text x="2208.4" y="1739.7" font-size="39.4" text-anchor="start" font-family='"Liberation Sans", Arial, Helvetica, sans-serif'>crystal</text>
<text x="1869.6" y="2808" font-size="39.4" text-anchor="start" font-family='"Liberation Sans", Arial, Helvetica, sans-serif'>water ratio 90%</text>
<rect x="1873" y="2836.2" width="65" height="9" fill="#4bbbee"/>
<text x="1954" y="2851.7" font-size="39.4" font-family='"Liberation Sans", Arial, Helvetica, sans-serif'><tspan font-weight="bold">3Fa</tspan><tspan font-size="35"> (<tspan font-style="italic">λ</tspan></tspan><tspan font-size="25" dy="6.5">em</tspan><tspan font-size="35" dy="-6.5"> = 386 nm)</tspan></text>
<rect x="1873" y="2883.4" width="65" height="9" fill="#f27a80"/>
<text x="1954" y="2898.9" font-size="39.4" font-family='"Liberation Sans", Arial, Helvetica, sans-serif'><tspan font-weight="bold">3Fb</tspan><tspan font-size="35"> (<tspan font-style="italic">λ</tspan></tspan><tspan font-size="25" dy="6.5">em</tspan><tspan font-size="35" dy="-6.5"> = 377 nm)</tspan></text>
<rect x="1873" y="2930.3" width="65" height="9" fill="#f5a40e"/>
<text x="1954" y="2945.8" font-size="39.4" font-family='"Liberation Sans", Arial, Helvetica, sans-serif'><tspan font-weight="bold">3Fc</tspan><tspan font-size="35"> (<tspan font-style="italic">λ</tspan></tspan><tspan font-size="25" dy="6.5">em</tspan><tspan font-size="35" dy="-6.5"> = 399 nm)</tspan></text>
<path d="M202.5 2445.3H752.2V2996.7" stroke="#4a4a4a" stroke-width="2.6" fill="none"/>
<path d="M202.5 2444V2996.7H753.5" stroke="#1a1a1a" stroke-width="3" fill="none"/>
<text x="186" y="2972.9" font-size="39.4" text-anchor="end" font-family='"Liberation Sans", Arial, Helvetica, sans-serif'>0.00</text>
<text x="186" y="2904" font-size="39.4" text-anchor="end" font-family='"Liberation Sans", Arial, Helvetica, sans-serif'>0.02</text>
<text x="186" y="2835.1" font-size="39.4" text-anchor="end" font-family='"Liberation Sans", Arial, Helvetica, sans-serif'>0.04</text>
<text x="186" y="2766.2" font-size="39.4" text-anchor="end" font-family='"Liberation Sans", Arial, Helvetica, sans-serif'>0.06</text>
<text x="186" y="2697.3" font-size="39.4" text-anchor="end" font-family='"Liberation Sans", Arial, Helvetica, sans-serif'>0.08</text>
<text x="186" y="2628.4" font-size="39.4" text-anchor="end" font-family='"Liberation Sans", Arial, Helvetica, sans-serif'>0.10</text>
<text x="186" y="2559.5" font-size="39.4" text-anchor="end" font-family='"Liberation Sans", Arial, Helvetica, sans-serif'>0.12</text>
<text x="186" y="2490.6" font-size="39.4" text-anchor="end" font-family='"Liberation Sans", Arial, Helvetica, sans-serif'>0.14</text>
<text x="228.2" y="3044.7" font-size="39.4" text-anchor="middle" font-family='"Liberation Sans", Arial, Helvetica, sans-serif'>0</text>
<text x="333" y="3044.7" font-size="39.4" text-anchor="middle" font-family='"Liberation Sans", Arial, Helvetica, sans-serif'>20</text>
<text x="437.8" y="3044.7" font-size="39.4" text-anchor="middle" font-family='"Liberation Sans", Arial, Helvetica, sans-serif'>40</text>
<text x="542.6" y="3044.7" font-size="39.4" text-anchor="middle" font-family='"Liberation Sans", Arial, Helvetica, sans-serif'>60</text>
<text x="647.4" y="3044.7" font-size="39.4" text-anchor="middle" font-family='"Liberation Sans", Arial, Helvetica, sans-serif'>80</text>
<text x="752.2" y="3044.7" font-size="39.4" text-anchor="middle" font-family='"Liberation Sans", Arial, Helvetica, sans-serif'>100</text>
<path d="M194.5 2961.4H210.5M194.5 2892.5H210.5M194.5 2823.6H210.5M194.5 2754.7H210.5M194.5 2685.8H210.5M194.5 2616.9H210.5M194.5 2548H210.5M194.5 2479.1H210.5M198 2927H207M198 2858.1H207M198 2789.2H207M198 2720.2H207M198 2651.3H207M198 2582.5H207M198 2513.6H207M228.2 2988.7V3004.7M333 2988.7V3004.7M437.8 2988.7V3004.7M542.6 2988.7V3004.7M647.4 2988.7V3004.7M752.2 2988.7V3004.7" stroke="#000" stroke-width="3.2" fill="none"/>
<text x="477.4" y="3101.8" font-size="39.4" text-anchor="middle" font-family='"Liberation Sans", Arial, Helvetica, sans-serif'>Water ratio %</text>
<text x="57.5" y="2721" font-size="39.4" text-anchor="middle" font-family='"Liberation Sans", Arial, Helvetica, sans-serif' transform="rotate(-90 57.5 2721)">Emission efficiency</text>
<text x="439.3" y="3171.6" font-size="62" text-anchor="middle" font-family='"Liberation Serif", "Times New Roman", serif'>(<tspan font-weight="bold">g</tspan>)</text>
<path d="M319.3 2559.9H580.1V2822" stroke="#777" stroke-width="1.8" fill="none"/>
<path d="M319.3 2559V2822H581" stroke="#444" stroke-width="2" fill="none"/>
<text x="310.8" y="2808.9" font-size="16.5" text-anchor="end" font-family='"Liberation Sans", Arial, Helvetica, sans-serif' fill="#222" stroke="#222" stroke-width="0.5">0</text>
<text x="310.8" y="2771.5" font-size="16.5" text-anchor="end" font-family='"Liberation Sans", Arial, Helvetica, sans-serif' fill="#222" stroke="#222" stroke-width="0.5">100</text>
<text x="310.8" y="2734" font-size="16.5" text-anchor="end" font-family='"Liberation Sans", Arial, Helvetica, sans-serif' fill="#222" stroke="#222" stroke-width="0.5">200</text>
<text x="310.8" y="2696.6" font-size="16.5" text-anchor="end" font-family='"Liberation Sans", Arial, Helvetica, sans-serif' fill="#222" stroke="#222" stroke-width="0.5">300</text>
<text x="310.8" y="2659.2" font-size="16.5" text-anchor="end" font-family='"Liberation Sans", Arial, Helvetica, sans-serif' fill="#222" stroke="#222" stroke-width="0.5">400</text>
<text x="310.8" y="2621.8" font-size="16.5" text-anchor="end" font-family='"Liberation Sans", Arial, Helvetica, sans-serif' fill="#222" stroke="#222" stroke-width="0.5">500</text>
<text x="310.8" y="2584.3" font-size="16.5" text-anchor="end" font-family='"Liberation Sans", Arial, Helvetica, sans-serif' fill="#222" stroke="#222" stroke-width="0.5">600</text>
<text x="331.1" y="2844.8" font-size="16.5" text-anchor="middle" font-family='"Liberation Sans", Arial, Helvetica, sans-serif' fill="#222" stroke="#222" stroke-width="0.5">0</text>
<text x="380.9" y="2844.8" font-size="16.5" text-anchor="middle" font-family='"Liberation Sans", Arial, Helvetica, sans-serif' fill="#222" stroke="#222" stroke-width="0.5">20</text>
<text x="430.7" y="2844.8" font-size="16.5" text-anchor="middle" font-family='"Liberation Sans", Arial, Helvetica, sans-serif' fill="#222" stroke="#222" stroke-width="0.5">40</text>
<text x="480.5" y="2844.8" font-size="16.5" text-anchor="middle" font-family='"Liberation Sans", Arial, Helvetica, sans-serif' fill="#222" stroke="#222" stroke-width="0.5">60</text>
<text x="530.3" y="2844.8" font-size="16.5" text-anchor="middle" font-family='"Liberation Sans", Arial, Helvetica, sans-serif' fill="#222" stroke="#222" stroke-width="0.5">80</text>
<text x="580.1" y="2844.8" font-size="16.5" text-anchor="middle" font-family='"Liberation Sans", Arial, Helvetica, sans-serif' fill="#222" stroke="#222" stroke-width="0.5">100</text>
<path d="M314.8 2803.1H322.8M314.8 2765.7H322.8M314.8 2728.2H322.8M314.8 2690.8H322.8M314.8 2653.4H322.8M314.8 2615.9H322.8M314.8 2578.5H322.8M331.1 2818.8V2825.5M356 2820.2V2823.8M380.9 2818.8V2825.5M405.8 2820.2V2823.8M430.7 2818.8V2825.5M455.6 2820.2V2823.8M480.5 2818.8V2825.5M505.4 2820.2V2823.8M530.3 2818.8V2825.5M555.2 2820.2V2823.8M580.1 2818.8V2825.5" stroke="#222" stroke-width="2" fill="none"/>
<text x="450" y="2871.5" font-size="17" text-anchor="middle" font-family='"Liberation Sans", Arial, Helvetica, sans-serif' fill="#222" stroke="#222" stroke-width="0.5">Water ratio %</text>
<text x="259" y="2691.5" font-size="17" text-anchor="middle" font-family='"Liberation Sans", Arial, Helvetica, sans-serif' fill="#222" stroke="#222" stroke-width="0.5" transform="rotate(-90 259 2691.5)">Emission intensity</text>
<polyline points="331.1,2800.1 356,2800.1 380.9,2800.1 405.8,2800.1 430.7,2800.1 455.6,2800.1 480.5,2800.1 505.4,2800.1 530.3,2800.1 555.2,2765.7" stroke="#f5a40e" stroke-width="1.6" fill="none" stroke-linejoin="round"/>
<rect x="324.9" y="2793.9" width="12.5" height="12.5" fill="#f5a40e"/>
<rect x="349.8" y="2793.9" width="12.5" height="12.5" fill="#f5a40e"/>
<rect x="374.7" y="2793.9" width="12.5" height="12.5" fill="#f5a40e"/>
<rect x="399.6" y="2793.9" width="12.5" height="12.5" fill="#f5a40e"/>
<rect x="424.5" y="2793.9" width="12.5" height="12.5" fill="#f5a40e"/>
<rect x="449.4" y="2793.9" width="12.5" height="12.5" fill="#f5a40e"/>
<rect x="474.2" y="2793.9" width="12.5" height="12.5" fill="#f5a40e"/>
<rect x="499.2" y="2793.9" width="12.5" height="12.5" fill="#f5a40e"/>
<rect x="524.1" y="2793.9" width="12.5" height="12.5" fill="#f5a40e"/>
<rect x="549" y="2759.4" width="12.5" height="12.5" fill="#f5a40e"/>
<polyline points="331.1,2800.1 356,2800.1 380.9,2800.1 405.8,2800.1 430.7,2800.1 455.6,2800.1 480.5,2800.1 505.4,2800.1 530.3,2800.1 555.2,2597.2" stroke="#f27a80" stroke-width="1.6" fill="none" stroke-linejoin="round"/>
<rect x="325.6" y="2794.6" width="11" height="11" fill="#fff" stroke="#f27a80" stroke-width="1.5"/>
<rect x="350.5" y="2794.6" width="11" height="11" fill="#fff" stroke="#f27a80" stroke-width="1.5"/>
<rect x="375.4" y="2794.6" width="11" height="11" fill="#fff" stroke="#f27a80" stroke-width="1.5"/>
<rect x="400.3" y="2794.6" width="11" height="11" fill="#fff" stroke="#f27a80" stroke-width="1.5"/>
<rect x="425.2" y="2794.6" width="11" height="11" fill="#fff" stroke="#f27a80" stroke-width="1.5"/>
<rect x="450.1" y="2794.6" width="11" height="11" fill="#fff" stroke="#f27a80" stroke-width="1.5"/>
<rect x="475" y="2794.6" width="11" height="11" fill="#fff" stroke="#f27a80" stroke-width="1.5"/>
<rect x="499.9" y="2794.6" width="11" height="11" fill="#fff" stroke="#f27a80" stroke-width="1.5"/>
<rect x="524.8" y="2794.6" width="11" height="11" fill="#fff" stroke="#f27a80" stroke-width="1.5"/>
<rect x="549.7" y="2591.7" width="11" height="11" fill="#fff" stroke="#f27a80" stroke-width="1.5"/>
<polyline points="331.1,2800.1 356,2800.1 380.9,2800.1 405.8,2800.1 430.7,2800.1 455.6,2800.1 480.5,2800.1 505.4,2800.1 530.3,2800.1 555.2,2766.4" stroke="#4bbbee" stroke-width="1.8" fill="none" stroke-linejoin="round"/>
<circle cx="331.1" cy="2800.1" r="3.8" fill="#fff" stroke="#4bbbee" stroke-width="1.3"/>
<circle cx="356" cy="2800.1" r="3.8" fill="#fff" stroke="#4bbbee" stroke-width="1.3"/>
<circle cx="380.9" cy="2800.1" r="3.8" fill="#fff" stroke="#4bbbee" stroke-width="1.3"/>
<circle cx="405.8" cy="2800.1" r="3.8" fill="#fff" stroke="#4bbbee" stroke-width="1.3"/>
<circle cx="430.7" cy="2800.1" r="3.8" fill="#fff" stroke="#4bbbee" stroke-width="1.3"/>
<circle cx="455.6" cy="2800.1" r="3.8" fill="#fff" stroke="#4bbbee" stroke-width="1.3"/>
<circle cx="480.5" cy="2800.1" r="3.8" fill="#fff" stroke="#4bbbee" stroke-width="1.3"/>
<circle cx="505.4" cy="2800.1" r="3.8" fill="#fff" stroke="#4bbbee" stroke-width="1.3"/>
<circle cx="530.3" cy="2800.1" r="3.8" fill="#fff" stroke="#4bbbee" stroke-width="1.3"/>
<circle cx="555.2" cy="2766.4" r="3.8" fill="#fff" stroke="#4bbbee" stroke-width="1.3"/>
<polyline points="228.2,2918 280.6,2918.7 333,2922 385.4,2922 437.8,2921.3 490.2,2924.6 542.6,2925.4 595,2928.3 647.4,2924.6 699.8,2845" stroke="#f5a40e" stroke-width="3.2" fill="none" stroke-linejoin="round"/>
<rect x="214.2" y="2904" width="28" height="28" fill="#f5a40e"/>
<rect x="266.6" y="2904.7" width="28" height="28" fill="#f5a40e"/>
<rect x="319" y="2908" width="28" height="28" fill="#f5a40e"/>
<rect x="371.4" y="2908" width="28" height="28" fill="#f5a40e"/>
<rect x="423.8" y="2907.3" width="28" height="28" fill="#f5a40e"/>
<rect x="476.2" y="2910.6" width="28" height="28" fill="#f5a40e"/>
<rect x="528.6" y="2911.4" width="28" height="28" fill="#f5a40e"/>
<rect x="581" y="2914.3" width="28" height="28" fill="#f5a40e"/>
<rect x="633.4" y="2910.6" width="28" height="28" fill="#f5a40e"/>
<rect x="685.8" y="2831" width="28" height="28" fill="#f5a40e"/>
<polyline points="228.2,2918 280.6,2913 333,2916.3 385.4,2916.3 437.8,2921.3 490.2,2918.8 542.6,2923.8 595,2928.3 647.4,2924.6 699.8,2482.9" stroke="#f27a80" stroke-width="3.2" fill="none" stroke-linejoin="round"/>
<rect x="215.2" y="2905" width="26" height="26" fill="#fff" stroke="#f27a80" stroke-width="2.4"/>
<rect x="267.6" y="2900" width="26" height="26" fill="#fff" stroke="#f27a80" stroke-width="2.4"/>
<rect x="320" y="2903.3" width="26" height="26" fill="#fff" stroke="#f27a80" stroke-width="2.4"/>
<rect x="372.4" y="2903.3" width="26" height="26" fill="#fff" stroke="#f27a80" stroke-width="2.4"/>
<rect x="424.8" y="2908.3" width="26" height="26" fill="#fff" stroke="#f27a80" stroke-width="2.4"/>
<rect x="477.2" y="2905.8" width="26" height="26" fill="#fff" stroke="#f27a80" stroke-width="2.4"/>
<rect x="529.6" y="2910.8" width="26" height="26" fill="#fff" stroke="#f27a80" stroke-width="2.4"/>
<rect x="582" y="2915.3" width="26" height="26" fill="#fff" stroke="#f27a80" stroke-width="2.4"/>
<rect x="634.4" y="2911.6" width="26" height="26" fill="#fff" stroke="#f27a80" stroke-width="2.4"/>
<rect x="686.8" y="2469.9" width="26" height="26" fill="#fff" stroke="#f27a80" stroke-width="2.4"/>
<polyline points="228.2,2917.5 280.6,2920 333,2920.8 385.4,2923.7 437.8,2923.7 490.2,2930.8 542.6,2927 595,2927.5 647.4,2934.2 699.8,2842.1" stroke="#4bbbee" stroke-width="3.6" fill="none" stroke-linejoin="round"/>
<circle cx="228.2" cy="2917.5" r="9" fill="#fff" stroke="#4bbbee" stroke-width="2.4"/>
<circle cx="280.6" cy="2920" r="9" fill="#fff" stroke="#4bbbee" stroke-width="2.4"/>
<circle cx="333" cy="2920.8" r="9" fill="#fff" stroke="#4bbbee" stroke-width="2.4"/>
<circle cx="385.4" cy="2923.7" r="9" fill="#fff" stroke="#4bbbee" stroke-width="2.4"/>
<circle cx="437.8" cy="2923.7" r="9" fill="#fff" stroke="#4bbbee" stroke-width="2.4"/>
<circle cx="490.2" cy="2930.8" r="9" fill="#fff" stroke="#4bbbee" stroke-width="2.4"/>
<circle cx="542.6" cy="2927" r="9" fill="#fff" stroke="#4bbbee" stroke-width="2.4"/>
<circle cx="595" cy="2927.5" r="9" fill="#fff" stroke="#4bbbee" stroke-width="2.4"/>
<circle cx="647.4" cy="2934.2" r="9" fill="#fff" stroke="#4bbbee" stroke-width="2.4"/>
<circle cx="699.8" cy="2842.1" r="9" fill="#fff" stroke="#4bbbee" stroke-width="2.4"/>
<line x1="232.5" x2="273.8" y1="2493.8" y2="2493.8" stroke="#4bbbee" stroke-width="3"/>
<circle cx="252.5" cy="2493.8" r="9" fill="#fff" stroke="#4bbbee" stroke-width="2.2"/>
<text x="291.3" y="2505" font-size="39.4" text-anchor="start" font-weight="bold" font-family='"Liberation Sans", Arial, Helvetica, sans-serif'>3Fa</text>
<line x1="383.6" x2="426.4" y1="2493.8" y2="2493.8" stroke="#f27a80" stroke-width="3"/>
<rect x="395.5" y="2484.3" width="19" height="19" fill="#fff" stroke="#f27a80" stroke-width="2.2"/>
<text x="443.1" y="2505" font-size="39.4" text-anchor="start" font-weight="bold" font-family='"Liberation Sans", Arial, Helvetica, sans-serif'>3Fb</text>
<line x1="538.3" x2="580" y1="2493.8" y2="2493.8" stroke="#f5a40e" stroke-width="3"/>
<rect x="549" y="2484.3" width="19" height="19" fill="#f5a40e"/>
<text x="596.7" y="2505" font-size="39.4" text-anchor="start" font-weight="bold" font-family='"Liberation Sans", Arial, Helvetica, sans-serif'>3Fc</text>
</svg>
</body></html>
